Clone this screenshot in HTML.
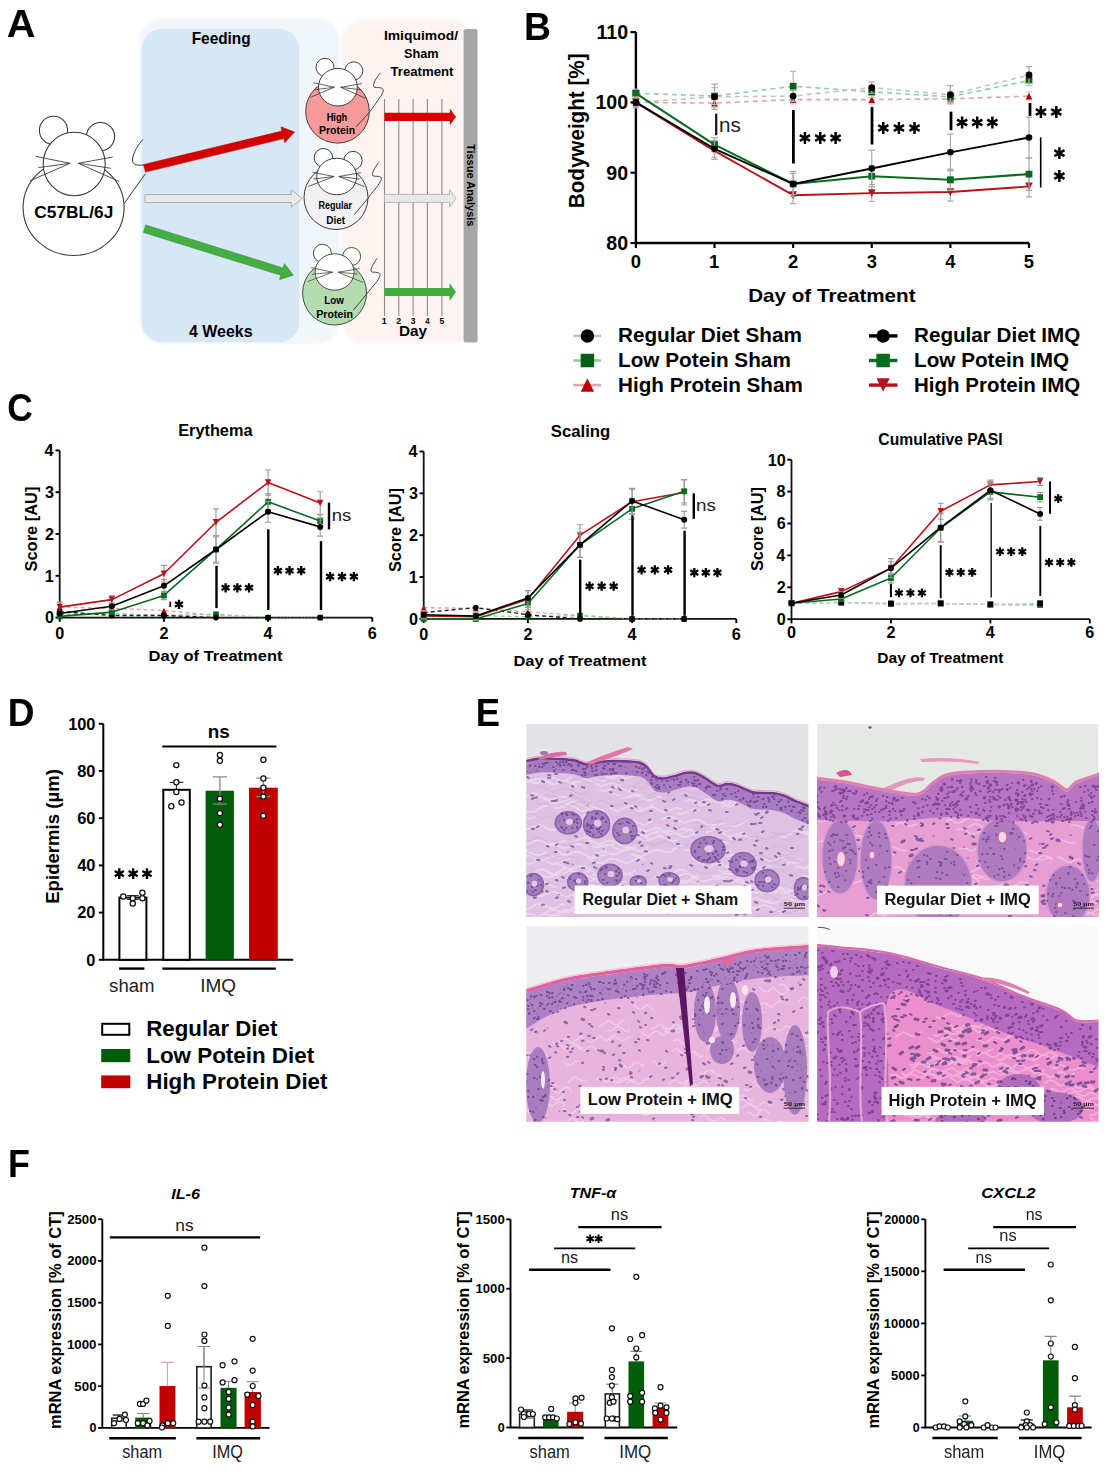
<!DOCTYPE html><html><head><meta charset="utf-8"><style>html,body{margin:0;padding:0;background:#fff;width:1117px;height:1474px;overflow:hidden}svg{display:block;filter:blur(0.55px)}text{font-family:"Liberation Sans",sans-serif}</style></head><body><svg width="1117" height="1474" viewBox="0 0 1117 1474" font-family="Liberation Sans, sans-serif"><rect width="1117" height="1474" fill="#fff"/><defs><filter id="blur6" x="-20%" y="-20%" width="140%" height="140%"><feGaussianBlur stdDeviation="4"/></filter><filter id="blur2" x="-20%" y="-20%" width="140%" height="140%"><feGaussianBlur stdDeviation="1.5"/></filter></defs><rect x="139.8" y="18.8" width="199.7" height="325.2" rx="22" fill="#f1f6fb" filter="url(#blur2)"/><rect x="342.3" y="19.3" width="130" height="324.6" rx="20" fill="#fdf4f1" filter="url(#blur2)"/><rect x="141.8" y="28.8" width="157.4" height="313.4" rx="20" fill="#d8e7f5"/><rect x="463.6" y="29" width="14" height="313.5" rx="2.5" fill="#a6a6a6"/><line x1="384.5" y1="99" x2="384.5" y2="316" stroke="#8a8a8a" stroke-width="1.1"/><line x1="398.8" y1="99" x2="398.8" y2="316" stroke="#8a8a8a" stroke-width="1.1"/><line x1="413.1" y1="99" x2="413.1" y2="316" stroke="#8a8a8a" stroke-width="1.1"/><line x1="427.4" y1="99" x2="427.4" y2="316" stroke="#8a8a8a" stroke-width="1.1"/><line x1="441.9" y1="99" x2="441.9" y2="316" stroke="#8a8a8a" stroke-width="1.1"/><polygon points="384.50,121.10 449.80,121.10 449.80,125.20 456.00,116.90 449.80,108.60 449.80,112.70 384.50,112.70" fill="#d40000"/><polygon points="384.50,202.40 449.50,202.40 449.50,207.20 456.00,198.40 449.50,189.60 449.50,194.40 384.50,194.40" fill="#e9e9e9" stroke="#a8a8a8" stroke-width="0.8"/><polygon points="384.50,296.10 449.50,296.10 449.50,301.00 456.00,292.00 449.50,283.00 449.50,287.90 384.50,287.90" fill="#3fae3f"/><polygon points="145.42,172.09 283.75,138.61 284.77,142.79 294.50,132.00 280.91,126.85 281.92,131.03 143.58,164.51" fill="#d40000" stroke="#b00000" stroke-width="0.5"/><polygon points="145.00,202.50 291.30,202.50 291.30,207.20 302.30,198.50 291.30,189.80 291.30,194.50 145.00,194.50" fill="#e9e9e9" stroke="#a0a0a0" stroke-width="0.8"/><polygon points="143.34,232.42 280.78,275.35 279.41,279.74 293.40,275.20 284.48,263.51 283.11,267.90 145.66,224.98" fill="#44ad44" stroke="#2e8a2e" stroke-width="0.5"/><circle cx="53.5" cy="130.4" r="14.1" fill="#fff" stroke="#3a3a3a" stroke-width="1.1"/><circle cx="100.5" cy="136.6" r="14.1" fill="#fff" stroke="#3a3a3a" stroke-width="1.1"/><ellipse cx="73.6" cy="207.5" rx="50.5" ry="48" fill="#fff" stroke="#3a3a3a" stroke-width="1.1"/><ellipse cx="74.2" cy="164" rx="31" ry="31.8" fill="#fff" stroke="#3a3a3a" stroke-width="1.1"/><path d="M70.1,163.3L35.7,156.4M70.1,163.3L38.2,167.6M70.1,163.3L30,180.8M78.3,163.3L112.8,157M78.3,163.3L110.9,168.3M78.3,163.3L119,181.4" stroke="#3a3a3a" stroke-width="0.8800000000000001" fill="none"/><path d="M124.7,202.7 L145.3,173.9 M144,165 C138,165.5 132,165 132.5,160 C133,152 139,144 142.8,139.5" stroke="#333" stroke-width="0.9900000000000001" fill="none" stroke-linejoin="round"/><text x="34.31" y="218.40" font-family="Liberation Sans" font-size="17.40" font-weight="bold" font-style="normal" fill="#000" textLength="78.97" lengthAdjust="spacingAndGlyphs" >C57BL/6J</text><circle cx="325" cy="67.3" r="9" fill="#fff" stroke="#4a3a3a" stroke-width="1.0"/><circle cx="353.8" cy="70.8" r="9" fill="#fff" stroke="#4a3a3a" stroke-width="1.0"/><ellipse cx="337.5" cy="111.3" rx="31.8" ry="31.8" fill="#f59a9b" stroke="#4a3a3a" stroke-width="1.0"/><ellipse cx="337.9" cy="87.2" rx="19.4" ry="18.8" fill="#fff" stroke="#4a3a3a" stroke-width="1.0"/><path d="M334.4,87.2L313.4,82.7M334.4,87.2L314.7,89.8M334.4,87.2L310.2,97.4M340.7,87.3L362.1,83.6M340.7,87.3L360.8,89.8M340.7,87.3L365.7,98.3" stroke="#4a3a3a" stroke-width="0.8" fill="none"/><path d="M356,127 L369.8,111.8 C375,104 382,96 383.2,91.2 C384,86 376,88.5 374,87 C372,84 377,77 380.5,72.8" stroke="#333" stroke-width="0.9" fill="none" stroke-linejoin="round"/><circle cx="323.4" cy="157.7" r="9.2" fill="#fff" stroke="#3a3a3a" stroke-width="1.0"/><circle cx="353" cy="160.6" r="9.2" fill="#fff" stroke="#3a3a3a" stroke-width="1.0"/><ellipse cx="336" cy="197.5" rx="32" ry="32" fill="#f1f1f3" stroke="#3a3a3a" stroke-width="1.0"/><ellipse cx="336.7" cy="176.5" rx="20" ry="18.3" fill="#fff" stroke="#3a3a3a" stroke-width="1.0"/><path d="M334,176.5L312.5,172.2M334,176.5L313.4,179M334,176.5L308.4,186.4M338.9,176.5L360.8,172.7M338.9,176.5L359.5,179M338.9,176.5L364.4,186.6" stroke="#3a3a3a" stroke-width="0.8" fill="none"/><path d="M354.1,214.8 L368,198.2 C373,191 380,184 381.4,179.4 C382,175 375,177 372.9,175.8 C371,174 375,167 378.7,162.4" stroke="#333" stroke-width="0.9" fill="none" stroke-linejoin="round"/><circle cx="322.4" cy="253.3" r="9" fill="#fff" stroke="#3f4f3f" stroke-width="1.0"/><circle cx="351.6" cy="256.5" r="9" fill="#fff" stroke="#3f4f3f" stroke-width="1.0"/><ellipse cx="334.6" cy="293" rx="32" ry="32" fill="#b5dcb0" stroke="#3f4f3f" stroke-width="1.0"/><ellipse cx="334.6" cy="272" rx="19.5" ry="18.2" fill="#fff" stroke="#3f4f3f" stroke-width="1.0"/><path d="M332.6,272.2L311.1,267.7M332.6,272.2L312,274.4M332.6,272.2L307.5,281.6M338,272.2L359.5,268.6M338,272.2L357.7,274M338,272.2L363,282.4" stroke="#3f4f3f" stroke-width="0.8" fill="none"/><path d="M353.2,310.2 L366.6,294.1 C372,287 379,280 380,275.7 C381,271 374,273 371.5,271.7 C369.5,270 374,262 377.4,258.3" stroke="#333" stroke-width="0.9" fill="none" stroke-linejoin="round"/><text x="326.64" y="120.70" font-family="Liberation Sans" font-size="10.00" font-weight="bold" font-style="normal" fill="#000" textLength="20.68" lengthAdjust="spacingAndGlyphs" >High</text><text x="318.92" y="134.20" font-family="Liberation Sans" font-size="10.00" font-weight="bold" font-style="normal" fill="#000" textLength="36.21" lengthAdjust="spacingAndGlyphs" >Protein</text><text x="318.41" y="209.00" font-family="Liberation Sans" font-size="10.00" font-weight="bold" font-style="normal" fill="#000" textLength="33.71" lengthAdjust="spacingAndGlyphs" >Regular</text><text x="326.35" y="223.70" font-family="Liberation Sans" font-size="10.00" font-weight="bold" font-style="normal" fill="#000" textLength="18.79" lengthAdjust="spacingAndGlyphs" >Diet</text><text x="324.26" y="304.40" font-family="Liberation Sans" font-size="10.00" font-weight="bold" font-style="normal" fill="#000" textLength="19.63" lengthAdjust="spacingAndGlyphs" >Low</text><text x="316.21" y="317.80" font-family="Liberation Sans" font-size="10.00" font-weight="bold" font-style="normal" fill="#000" textLength="36.73" lengthAdjust="spacingAndGlyphs" >Protein</text><text x="191.70" y="43.60" font-family="Liberation Sans" font-size="17.00" font-weight="bold" font-style="normal" fill="#000" textLength="58.98" lengthAdjust="spacingAndGlyphs" >Feeding</text><text x="189.06" y="336.70" font-family="Liberation Sans" font-size="16.50" font-weight="bold" font-style="normal" fill="#000" textLength="63.57" lengthAdjust="spacingAndGlyphs" >4 Weeks</text><text x="383.90" y="39.70" font-family="Liberation Sans" font-size="13.50" font-weight="bold" font-style="normal" fill="#000" textLength="74.11" lengthAdjust="spacingAndGlyphs" >Imiquimod/</text><text x="403.92" y="58.00" font-family="Liberation Sans" font-size="13.50" font-weight="bold" font-style="normal" fill="#000" textLength="34.62" lengthAdjust="spacingAndGlyphs" >Sham</text><text x="390.47" y="76.20" font-family="Liberation Sans" font-size="13.50" font-weight="bold" font-style="normal" fill="#000" textLength="63.02" lengthAdjust="spacingAndGlyphs" >Treatment</text><text x="399.01" y="336.00" font-family="Liberation Sans" font-size="14.50" font-weight="bold" font-style="normal" fill="#000" textLength="28.06" lengthAdjust="spacingAndGlyphs" >Day</text><text x="381.86" y="324.30" font-family="Liberation Sans" font-size="8.50" font-weight="bold" font-style="normal" fill="#000" textLength="4.97" lengthAdjust="spacingAndGlyphs" >1</text><text x="396.39" y="324.30" font-family="Liberation Sans" font-size="8.50" font-weight="bold" font-style="normal" fill="#000" textLength="4.87" lengthAdjust="spacingAndGlyphs" >2</text><text x="410.79" y="324.30" font-family="Liberation Sans" font-size="8.50" font-weight="bold" font-style="normal" fill="#000" textLength="4.72" lengthAdjust="spacingAndGlyphs" >3</text><text x="425.18" y="324.30" font-family="Liberation Sans" font-size="8.50" font-weight="bold" font-style="normal" fill="#000" textLength="4.37" lengthAdjust="spacingAndGlyphs" >4</text><text x="439.55" y="324.30" font-family="Liberation Sans" font-size="8.50" font-weight="bold" font-style="normal" fill="#000" textLength="4.67" lengthAdjust="spacingAndGlyphs" >5</text><g transform="translate(466.6,144) rotate(90)"><text x="-0.11" y="0.00" font-family="Liberation Sans" font-size="11.00" font-weight="bold" font-style="normal" fill="#000" textLength="82.54" lengthAdjust="spacingAndGlyphs" >Tissue Analysis</text></g><path d="M635.9,32.10000000000001L635.9,243.0L1029.0,243.0" stroke="#000" stroke-width="2.4" fill="none"/><line x1="630.40" y1="32.10" x2="635.90" y2="32.10" stroke="#000" stroke-width="2.2"/><text x="596.53" y="38.95" font-family="Liberation Sans" font-size="19.60" font-weight="bold" font-style="normal" fill="#000" textLength="31.62" lengthAdjust="spacingAndGlyphs" >110</text><line x1="630.40" y1="102.40" x2="635.90" y2="102.40" stroke="#000" stroke-width="2.2"/><text x="595.45" y="109.25" font-family="Liberation Sans" font-size="19.60" font-weight="bold" font-style="normal" fill="#000" textLength="32.70" lengthAdjust="spacingAndGlyphs" >100</text><line x1="630.40" y1="172.70" x2="635.90" y2="172.70" stroke="#000" stroke-width="2.2"/><text x="606.33" y="179.55" font-family="Liberation Sans" font-size="19.60" font-weight="bold" font-style="normal" fill="#000" textLength="21.80" lengthAdjust="spacingAndGlyphs" >90</text><line x1="630.40" y1="243.00" x2="635.90" y2="243.00" stroke="#000" stroke-width="2.2"/><text x="606.33" y="249.85" font-family="Liberation Sans" font-size="19.60" font-weight="bold" font-style="normal" fill="#000" textLength="21.80" lengthAdjust="spacingAndGlyphs" >80</text><line x1="635.90" y1="243.00" x2="635.90" y2="248.00" stroke="#000" stroke-width="2.2"/><text x="630.79" y="268.20" font-family="Liberation Sans" font-size="18.40" font-weight="bold" font-style="normal" fill="#000" textLength="10.23" lengthAdjust="spacingAndGlyphs" >0</text><line x1="714.52" y1="243.00" x2="714.52" y2="248.00" stroke="#000" stroke-width="2.2"/><text x="709.09" y="268.20" font-family="Liberation Sans" font-size="18.40" font-weight="bold" font-style="normal" fill="#000" textLength="10.23" lengthAdjust="spacingAndGlyphs" >1</text><line x1="793.14" y1="243.00" x2="793.14" y2="248.00" stroke="#000" stroke-width="2.2"/><text x="788.08" y="268.20" font-family="Liberation Sans" font-size="18.40" font-weight="bold" font-style="normal" fill="#000" textLength="10.23" lengthAdjust="spacingAndGlyphs" >2</text><line x1="871.76" y1="243.00" x2="871.76" y2="248.00" stroke="#000" stroke-width="2.2"/><text x="866.75" y="268.20" font-family="Liberation Sans" font-size="18.40" font-weight="bold" font-style="normal" fill="#000" textLength="10.23" lengthAdjust="spacingAndGlyphs" >3</text><line x1="950.38" y1="243.00" x2="950.38" y2="248.00" stroke="#000" stroke-width="2.2"/><text x="945.18" y="268.20" font-family="Liberation Sans" font-size="18.40" font-weight="bold" font-style="normal" fill="#000" textLength="10.23" lengthAdjust="spacingAndGlyphs" >4</text><line x1="1029.00" y1="243.00" x2="1029.00" y2="248.00" stroke="#000" stroke-width="2.2"/><text x="1023.85" y="268.20" font-family="Liberation Sans" font-size="18.40" font-weight="bold" font-style="normal" fill="#000" textLength="10.23" lengthAdjust="spacingAndGlyphs" >5</text><text x="748.16" y="302.20" font-family="Liberation Sans" font-size="17.70" font-weight="bold" font-style="normal" fill="#000" textLength="167.42" lengthAdjust="spacingAndGlyphs" >Day of Treatment</text><g transform="translate(584.1,206.9) rotate(-90)"><text x="-1.34" y="0.00" font-family="Liberation Sans" font-size="22.00" font-weight="bold" font-style="normal" fill="#000" textLength="154.77" lengthAdjust="spacingAndGlyphs" >Bodyweight [%]</text></g><path d="M635.90,98.18L635.90,106.62M632.70,98.18L639.10,98.18M632.70,106.62L639.10,106.62" stroke="#ccc" stroke-width="1.2" fill="none"/><path d="M714.52,98.89L714.52,107.32M711.32,98.89L717.72,98.89M711.32,107.32L717.72,107.32" stroke="#ccc" stroke-width="1.2" fill="none"/><path d="M793.14,95.37L793.14,103.81M789.94,95.37L796.34,95.37M789.94,103.81L796.34,103.81" stroke="#ccc" stroke-width="1.2" fill="none"/><path d="M871.76,95.37L871.76,103.81M868.56,95.37L874.96,95.37M868.56,103.81L874.96,103.81" stroke="#ccc" stroke-width="1.2" fill="none"/><path d="M950.38,94.67L950.38,103.10M947.18,94.67L953.58,94.67M947.18,103.10L953.58,103.10" stroke="#ccc" stroke-width="1.2" fill="none"/><path d="M1029.00,91.86L1029.00,100.29M1025.80,91.86L1032.20,91.86M1025.80,100.29L1032.20,100.29" stroke="#ccc" stroke-width="1.2" fill="none"/><polyline points="635.90,102.40 714.52,103.10 793.14,99.59 871.76,99.59 950.38,98.89 1029.00,96.07" stroke="#e2a3a6" stroke-width="1.6" fill="none" stroke-dasharray="5,4" stroke-linejoin="round"/><polygon points="635.90,99.00 639.23,105.80 632.57,105.80" fill="#b00000"/><polygon points="714.52,99.70 717.85,106.50 711.19,106.50" fill="#b00000"/><polygon points="793.14,96.19 796.47,102.99 789.81,102.99" fill="#b00000"/><polygon points="871.76,96.19 875.09,102.99 868.43,102.99" fill="#b00000"/><polygon points="950.38,95.48 953.71,102.29 947.05,102.29" fill="#b00000"/><polygon points="1029.00,92.67 1032.33,99.47 1025.67,99.47" fill="#b00000"/><path d="M635.90,89.04L635.90,97.48M632.70,89.04L639.10,89.04M632.70,97.48L639.10,97.48" stroke="#bbb" stroke-width="1.2" fill="none"/><path d="M714.52,87.64L714.52,104.51M711.32,87.64L717.72,87.64M711.32,104.51L717.72,104.51" stroke="#bbb" stroke-width="1.2" fill="none"/><path d="M793.14,71.47L793.14,100.99M789.94,71.47L796.34,71.47M789.94,100.99L796.34,100.99" stroke="#bbb" stroke-width="1.2" fill="none"/><path d="M871.76,86.23L871.76,97.48M868.56,86.23L874.96,86.23M868.56,97.48L874.96,97.48" stroke="#bbb" stroke-width="1.2" fill="none"/><path d="M950.38,92.56L950.38,100.99M947.18,92.56L953.58,92.56M947.18,100.99L953.58,100.99" stroke="#bbb" stroke-width="1.2" fill="none"/><path d="M1029.00,75.69L1029.00,85.53M1025.80,75.69L1032.20,75.69M1025.80,85.53L1032.20,85.53" stroke="#bbb" stroke-width="1.2" fill="none"/><polyline points="635.90,93.26 714.52,96.07 793.14,86.23 871.76,91.86 950.38,96.78 1029.00,80.61" stroke="#8fd09a" stroke-width="1.6" fill="none" stroke-dasharray="5,4" stroke-linejoin="round"/><rect x="632.50" y="89.86" width="6.80" height="6.80" fill="#086018"/><rect x="711.12" y="92.67" width="6.80" height="6.80" fill="#086018"/><rect x="789.74" y="82.83" width="6.80" height="6.80" fill="#086018"/><rect x="868.36" y="88.45" width="6.80" height="6.80" fill="#086018"/><rect x="946.98" y="93.38" width="6.80" height="6.80" fill="#086018"/><rect x="1025.60" y="77.21" width="6.80" height="6.80" fill="#086018"/><path d="M635.90,98.18L635.90,106.62M632.70,98.18L639.10,98.18M632.70,106.62L639.10,106.62" stroke="#aaa" stroke-width="1.2" fill="none"/><path d="M714.52,84.12L714.52,109.43M711.32,84.12L717.72,84.12M711.32,109.43L717.72,109.43" stroke="#aaa" stroke-width="1.2" fill="none"/><path d="M793.14,90.45L793.14,101.70M789.94,90.45L796.34,90.45M789.94,101.70L796.34,101.70" stroke="#aaa" stroke-width="1.2" fill="none"/><path d="M871.76,82.01L871.76,93.26M868.56,82.01L874.96,82.01M868.56,93.26L874.96,93.26" stroke="#aaa" stroke-width="1.2" fill="none"/><path d="M950.38,85.53L950.38,103.81M947.18,85.53L953.58,85.53M947.18,103.81L953.58,103.81" stroke="#aaa" stroke-width="1.2" fill="none"/><path d="M1029.00,66.55L1029.00,83.42M1025.80,66.55L1032.20,66.55M1025.80,83.42L1032.20,83.42" stroke="#aaa" stroke-width="1.2" fill="none"/><polyline points="635.90,102.40 714.52,96.78 793.14,96.07 871.76,87.64 950.38,94.67 1029.00,74.98" stroke="#c4c4c4" stroke-width="1.6" fill="none" stroke-dasharray="5,4" stroke-linejoin="round"/><circle cx="635.90" cy="102.40" r="3.40" fill="#000"/><circle cx="714.52" cy="96.78" r="3.40" fill="#000"/><circle cx="793.14" cy="96.07" r="3.40" fill="#000"/><circle cx="871.76" cy="87.64" r="3.40" fill="#000"/><circle cx="950.38" cy="94.67" r="3.40" fill="#000"/><circle cx="1029.00" cy="74.98" r="3.40" fill="#000"/><path d="M714.52,142.47L714.52,159.34M711.32,142.47L717.72,142.47M711.32,159.34L717.72,159.34" stroke="#aaa" stroke-width="1.2" fill="none"/><path d="M793.14,186.76L793.14,203.63M789.94,186.76L796.34,186.76M789.94,203.63L796.34,203.63" stroke="#aaa" stroke-width="1.2" fill="none"/><path d="M871.76,184.65L871.76,201.52M868.56,184.65L874.96,184.65M868.56,201.52L874.96,201.52" stroke="#aaa" stroke-width="1.2" fill="none"/><path d="M950.38,182.89L950.38,201.17M947.18,182.89L953.58,182.89M947.18,201.17L953.58,201.17" stroke="#aaa" stroke-width="1.2" fill="none"/><path d="M1029.00,175.86L1029.00,196.95M1025.80,175.86L1032.20,175.86M1025.80,196.95L1032.20,196.95" stroke="#aaa" stroke-width="1.2" fill="none"/><polyline points="635.90,102.40 714.52,150.91 793.14,195.20 871.76,193.09 950.38,192.03 1029.00,186.41" stroke="#b8101a" stroke-width="1.9" fill="none" stroke-linejoin="round"/><polygon points="635.90,106.30 639.72,98.50 632.08,98.50" fill="#b8101a"/><polygon points="714.52,154.81 718.34,147.01 710.70,147.01" fill="#b8101a"/><polygon points="793.14,199.10 796.96,191.30 789.32,191.30" fill="#b8101a"/><polygon points="871.76,196.99 875.58,189.19 867.94,189.19" fill="#b8101a"/><polygon points="950.38,195.93 954.20,188.13 946.56,188.13" fill="#b8101a"/><polygon points="1029.00,190.31 1032.82,182.51 1025.18,182.51" fill="#b8101a"/><path d="M714.52,137.55L714.52,151.61M711.32,137.55L717.72,137.55M711.32,151.61L717.72,151.61" stroke="#aaa" stroke-width="1.2" fill="none"/><path d="M793.14,173.40L793.14,194.49M789.94,173.40L796.34,173.40M789.94,194.49L796.34,194.49" stroke="#aaa" stroke-width="1.2" fill="none"/><path d="M871.76,165.67L871.76,186.76M868.56,165.67L874.96,165.67M868.56,186.76L874.96,186.76" stroke="#aaa" stroke-width="1.2" fill="none"/><path d="M950.38,169.19L950.38,190.28M947.18,169.19L953.58,169.19M947.18,190.28L953.58,190.28" stroke="#aaa" stroke-width="1.2" fill="none"/><path d="M1029.00,157.94L1029.00,190.28M1025.80,157.94L1032.20,157.94M1025.80,190.28L1032.20,190.28" stroke="#aaa" stroke-width="1.2" fill="none"/><polyline points="635.90,93.26 714.52,144.58 793.14,183.95 871.76,176.22 950.38,179.73 1029.00,174.11" stroke="#0a6a1e" stroke-width="2.1" fill="none" stroke-linejoin="round"/><rect x="632.50" y="89.86" width="6.80" height="6.80" fill="#0a6a1e"/><rect x="711.12" y="141.18" width="6.80" height="6.80" fill="#0a6a1e"/><rect x="789.74" y="180.55" width="6.80" height="6.80" fill="#0a6a1e"/><rect x="868.36" y="172.81" width="6.80" height="6.80" fill="#0a6a1e"/><rect x="946.98" y="176.33" width="6.80" height="6.80" fill="#0a6a1e"/><rect x="1025.60" y="170.71" width="6.80" height="6.80" fill="#0a6a1e"/><path d="M635.90,96.78L635.90,108.02M632.70,96.78L639.10,96.78M632.70,108.02L639.10,108.02" stroke="#aaa" stroke-width="1.2" fill="none"/><path d="M714.52,140.36L714.52,157.23M711.32,140.36L717.72,140.36M711.32,157.23L717.72,157.23" stroke="#aaa" stroke-width="1.2" fill="none"/><path d="M793.14,171.29L793.14,196.60M789.94,171.29L796.34,171.29M789.94,196.60L796.34,196.60" stroke="#aaa" stroke-width="1.2" fill="none"/><path d="M871.76,150.20L871.76,186.76M868.56,150.20L874.96,150.20M868.56,186.76L874.96,186.76" stroke="#aaa" stroke-width="1.2" fill="none"/><path d="M950.38,134.03L950.38,170.59M947.18,134.03L953.58,134.03M947.18,170.59L953.58,170.59" stroke="#aaa" stroke-width="1.2" fill="none"/><path d="M1029.00,117.16L1029.00,157.94M1025.80,117.16L1032.20,117.16M1025.80,157.94L1032.20,157.94" stroke="#aaa" stroke-width="1.2" fill="none"/><polyline points="635.90,102.40 714.52,148.80 793.14,183.95 871.76,168.48 950.38,152.31 1029.00,137.55" stroke="#000" stroke-width="1.9" fill="none" stroke-linejoin="round"/><circle cx="635.90" cy="102.40" r="3.30" fill="#000"/><circle cx="714.52" cy="148.80" r="3.30" fill="#000"/><circle cx="793.14" cy="183.95" r="3.30" fill="#000"/><circle cx="871.76" cy="168.48" r="3.30" fill="#000"/><circle cx="950.38" cy="152.31" r="3.30" fill="#000"/><circle cx="1029.00" cy="137.55" r="3.30" fill="#000"/><line x1="716.20" y1="113.70" x2="716.20" y2="135.20" stroke="#111" stroke-width="2.2"/><text x="718.96" y="131.60" font-family="Liberation Sans" font-size="20.50" font-weight="normal" font-style="normal" fill="#222" textLength="21.79" lengthAdjust="spacingAndGlyphs" >ns</text><line x1="793.40" y1="110.00" x2="793.40" y2="163.50" stroke="#000" stroke-width="2.8"/><path d="M804.90,143.90L804.90,132.10M799.79,140.95L810.01,135.05M810.01,140.95L799.79,135.05" stroke="#000" stroke-width="2.5" stroke-linecap="butt" fill="none"/><path d="M820.25,143.90L820.25,132.10M815.14,140.95L825.36,135.05M825.36,140.95L815.14,135.05" stroke="#000" stroke-width="2.5" stroke-linecap="butt" fill="none"/><path d="M835.60,143.90L835.60,132.10M830.49,140.95L840.71,135.05M840.71,140.95L830.49,135.05" stroke="#000" stroke-width="2.5" stroke-linecap="butt" fill="none"/><line x1="872.00" y1="107.00" x2="872.00" y2="144.50" stroke="#000" stroke-width="2.8"/><path d="M883.30,133.90L883.30,122.10M878.19,130.95L888.41,125.05M888.41,130.95L878.19,125.05" stroke="#000" stroke-width="2.5" stroke-linecap="butt" fill="none"/><path d="M898.90,133.90L898.90,122.10M893.79,130.95L904.01,125.05M904.01,130.95L893.79,125.05" stroke="#000" stroke-width="2.5" stroke-linecap="butt" fill="none"/><path d="M914.50,133.90L914.50,122.10M909.39,130.95L919.61,125.05M919.61,130.95L909.39,125.05" stroke="#000" stroke-width="2.5" stroke-linecap="butt" fill="none"/><line x1="951.00" y1="111.60" x2="951.00" y2="130.20" stroke="#000" stroke-width="2.8"/><path d="M962.10,128.40L962.10,116.60M956.99,125.45L967.21,119.55M967.21,125.45L956.99,119.55" stroke="#000" stroke-width="2.5" stroke-linecap="butt" fill="none"/><path d="M977.25,128.40L977.25,116.60M972.14,125.45L982.36,119.55M982.36,125.45L972.14,119.55" stroke="#000" stroke-width="2.5" stroke-linecap="butt" fill="none"/><path d="M992.40,128.40L992.40,116.60M987.29,125.45L997.51,119.55M997.51,125.45L987.29,119.55" stroke="#000" stroke-width="2.5" stroke-linecap="butt" fill="none"/><line x1="1030.00" y1="103.00" x2="1030.00" y2="115.90" stroke="#000" stroke-width="2.8"/><path d="M1040.90,117.90L1040.90,106.10M1035.79,114.95L1046.01,109.05M1046.01,114.95L1035.79,109.05" stroke="#000" stroke-width="2.5" stroke-linecap="butt" fill="none"/><path d="M1056.30,117.90L1056.30,106.10M1051.19,114.95L1061.41,109.05M1061.41,114.95L1051.19,109.05" stroke="#000" stroke-width="2.5" stroke-linecap="butt" fill="none"/><line x1="1040.70" y1="137.40" x2="1040.70" y2="187.50" stroke="#000" stroke-width="1.6"/><path d="M1059.40,159.00L1059.40,147.20M1054.29,156.05L1064.51,150.15M1064.51,156.05L1054.29,150.15" stroke="#000" stroke-width="2.5" stroke-linecap="butt" fill="none"/><path d="M1059.40,181.90L1059.40,170.10M1054.29,178.95L1064.51,173.05M1064.51,178.95L1054.29,173.05" stroke="#000" stroke-width="2.5" stroke-linecap="butt" fill="none"/><line x1="573.30" y1="335.90" x2="601.10" y2="335.90" stroke="#c4c4c4" stroke-width="2.6"/><circle cx="587.40" cy="335.90" r="6.75" fill="#000"/><line x1="869.00" y1="335.90" x2="897.40" y2="335.90" stroke="#000" stroke-width="3.4"/><circle cx="883.10" cy="335.90" r="6.75" fill="#000"/><line x1="573.30" y1="360.50" x2="601.10" y2="360.50" stroke="#8fd09a" stroke-width="2.6"/><rect x="580.65" y="353.75" width="13.50" height="13.50" fill="#086018"/><line x1="869.00" y1="360.50" x2="897.40" y2="360.50" stroke="#0a6a1e" stroke-width="3.4"/><rect x="876.35" y="353.75" width="13.50" height="13.50" fill="#0a6a1e"/><line x1="573.30" y1="385.10" x2="601.10" y2="385.10" stroke="#e2a3a6" stroke-width="2.6"/><polygon points="587.40,378.35 594.01,391.85 580.78,391.85" fill="#c00000"/><line x1="869.00" y1="385.10" x2="897.40" y2="385.10" stroke="#b8101a" stroke-width="3.4"/><polygon points="883.10,391.85 889.72,378.35 876.49,378.35" fill="#b8101a"/><text x="618.06" y="342.40" font-family="Liberation Sans" font-size="20.00" font-weight="bold" font-style="normal" fill="#000" textLength="183.71" lengthAdjust="spacingAndGlyphs" >Regular Diet Sham</text><text x="618.05" y="367.00" font-family="Liberation Sans" font-size="20.00" font-weight="bold" font-style="normal" fill="#000" textLength="172.77" lengthAdjust="spacingAndGlyphs" >Low Potein Sham</text><text x="618.06" y="391.60" font-family="Liberation Sans" font-size="20.00" font-weight="bold" font-style="normal" fill="#000" textLength="184.69" lengthAdjust="spacingAndGlyphs" >High Protein Sham</text><text x="914.06" y="342.40" font-family="Liberation Sans" font-size="20.00" font-weight="bold" font-style="normal" fill="#000" textLength="166.20" lengthAdjust="spacingAndGlyphs" >Regular Diet IMQ</text><text x="914.06" y="367.00" font-family="Liberation Sans" font-size="20.00" font-weight="bold" font-style="normal" fill="#000" textLength="155.07" lengthAdjust="spacingAndGlyphs" >Low Potein IMQ</text><text x="914.07" y="391.60" font-family="Liberation Sans" font-size="20.00" font-weight="bold" font-style="normal" fill="#000" textLength="166.17" lengthAdjust="spacingAndGlyphs" >High Protein IMQ</text><path d="M59.7,450.40000000000003L59.7,617.6L372.3,617.6" stroke="#111" stroke-width="1.8" fill="none"/><line x1="55.50" y1="617.60" x2="59.70" y2="617.60" stroke="#000" stroke-width="1.9"/><text x="44.96" y="623.40" font-family="Liberation Sans" font-size="16.20" font-weight="bold" font-style="normal" fill="#000" textLength="9.01" lengthAdjust="spacingAndGlyphs" >0</text><line x1="55.50" y1="575.80" x2="59.70" y2="575.80" stroke="#000" stroke-width="1.9"/><text x="44.71" y="581.60" font-family="Liberation Sans" font-size="16.20" font-weight="bold" font-style="normal" fill="#000" textLength="9.01" lengthAdjust="spacingAndGlyphs" >1</text><line x1="55.50" y1="534.00" x2="59.70" y2="534.00" stroke="#000" stroke-width="1.9"/><text x="44.96" y="539.80" font-family="Liberation Sans" font-size="16.20" font-weight="bold" font-style="normal" fill="#000" textLength="9.01" lengthAdjust="spacingAndGlyphs" >2</text><line x1="55.50" y1="492.20" x2="59.70" y2="492.20" stroke="#000" stroke-width="1.9"/><text x="44.88" y="498.00" font-family="Liberation Sans" font-size="16.20" font-weight="bold" font-style="normal" fill="#000" textLength="9.01" lengthAdjust="spacingAndGlyphs" >3</text><line x1="55.50" y1="450.40" x2="59.70" y2="450.40" stroke="#000" stroke-width="1.9"/><text x="44.39" y="456.20" font-family="Liberation Sans" font-size="16.20" font-weight="bold" font-style="normal" fill="#000" textLength="9.01" lengthAdjust="spacingAndGlyphs" >4</text><line x1="59.70" y1="617.60" x2="59.70" y2="621.80" stroke="#000" stroke-width="1.9"/><text x="55.20" y="638.60" font-family="Liberation Sans" font-size="16.20" font-weight="bold" font-style="normal" fill="#000" textLength="9.01" lengthAdjust="spacingAndGlyphs" >0</text><line x1="163.90" y1="617.60" x2="163.90" y2="621.80" stroke="#000" stroke-width="1.9"/><text x="159.44" y="638.60" font-family="Liberation Sans" font-size="16.20" font-weight="bold" font-style="normal" fill="#000" textLength="9.01" lengthAdjust="spacingAndGlyphs" >2</text><line x1="268.10" y1="617.60" x2="268.10" y2="621.80" stroke="#000" stroke-width="1.9"/><text x="263.52" y="638.60" font-family="Liberation Sans" font-size="16.20" font-weight="bold" font-style="normal" fill="#000" textLength="9.01" lengthAdjust="spacingAndGlyphs" >4</text><line x1="372.30" y1="617.60" x2="372.30" y2="621.80" stroke="#000" stroke-width="1.9"/><text x="367.80" y="638.60" font-family="Liberation Sans" font-size="16.20" font-weight="bold" font-style="normal" fill="#000" textLength="9.01" lengthAdjust="spacingAndGlyphs" >6</text><text x="178.24" y="435.80" font-family="Liberation Sans" font-size="15.80" font-weight="bold" font-style="normal" fill="#000" textLength="74.24" lengthAdjust="spacingAndGlyphs" >Erythema</text><text x="148.63" y="660.70" font-family="Liberation Sans" font-size="15.50" font-weight="bold" font-style="normal" fill="#000" textLength="133.90" lengthAdjust="spacingAndGlyphs" >Day of Treatment</text><g transform="translate(37.0,571.0) rotate(-90)"><text x="-0.49" y="0.00" font-family="Liberation Sans" font-size="16.90" font-weight="bold" font-style="normal" fill="#000" textLength="84.94" lengthAdjust="spacingAndGlyphs" >Score [AU]</text></g><polyline points="59.70,607.15 111.80,608.40 163.90,610.49 216.00,615.51 268.10,617.18 320.20,617.18" stroke="#e2a3a6" stroke-width="1.4" fill="none" stroke-dasharray="4,3" stroke-linejoin="round"/><polygon points="59.70,604.35 62.44,609.95 56.96,609.95" fill="#c00000"/><polygon points="111.80,605.60 114.54,611.20 109.06,611.20" fill="#c00000"/><polygon points="163.90,607.69 166.64,613.29 161.16,613.29" fill="#c00000"/><polygon points="216.00,612.71 218.74,618.31 213.26,618.31" fill="#c00000"/><polygon points="268.10,614.38 270.84,619.98 265.36,619.98" fill="#c00000"/><polygon points="320.20,614.38 322.94,619.98 317.46,619.98" fill="#c00000"/><polyline points="59.70,614.26 111.80,613.42 163.90,615.51 216.00,614.26 268.10,617.60 320.20,617.60" stroke="#8fd09a" stroke-width="1.4" fill="none" stroke-dasharray="4,3" stroke-linejoin="round"/><rect x="56.90" y="611.46" width="5.60" height="5.60" fill="#086018"/><rect x="109.00" y="610.62" width="5.60" height="5.60" fill="#086018"/><rect x="161.10" y="612.71" width="5.60" height="5.60" fill="#086018"/><rect x="213.20" y="611.46" width="5.60" height="5.60" fill="#086018"/><rect x="265.30" y="614.80" width="5.60" height="5.60" fill="#086018"/><rect x="317.40" y="614.80" width="5.60" height="5.60" fill="#086018"/><polyline points="59.70,611.33 111.80,615.51 163.90,615.51 216.00,617.60 268.10,617.60 320.20,617.60" stroke="#222" stroke-width="1.4" fill="none" stroke-dasharray="4,3" stroke-linejoin="round"/><circle cx="59.70" cy="611.33" r="2.90" fill="#000"/><circle cx="111.80" cy="615.51" r="2.90" fill="#000"/><circle cx="163.90" cy="615.51" r="2.90" fill="#000"/><circle cx="216.00" cy="617.60" r="2.90" fill="#000"/><circle cx="268.10" cy="617.60" r="2.90" fill="#000"/><circle cx="320.20" cy="617.60" r="2.90" fill="#000"/><path d="M59.70,602.13L59.70,612.17M56.70,602.13L62.70,602.13M56.70,612.17L62.70,612.17" stroke="#999" stroke-width="1.1" fill="none"/><path d="M111.80,595.45L111.80,603.81M108.80,595.45L114.80,595.45M108.80,603.81L114.80,603.81" stroke="#999" stroke-width="1.1" fill="none"/><path d="M163.90,565.35L163.90,582.07M160.90,565.35L166.90,565.35M160.90,582.07L166.90,582.07" stroke="#999" stroke-width="1.1" fill="none"/><path d="M216.00,508.92L216.00,535.67M213.00,508.92L219.00,508.92M213.00,535.67L219.00,535.67" stroke="#999" stroke-width="1.1" fill="none"/><path d="M268.10,470.05L268.10,495.13M265.10,470.05L271.10,470.05M265.10,495.13L271.10,495.13" stroke="#999" stroke-width="1.1" fill="none"/><path d="M320.20,491.78L320.20,514.35M317.20,491.78L323.20,491.78M317.20,514.35L323.20,514.35" stroke="#999" stroke-width="1.1" fill="none"/><polyline points="59.70,607.15 111.80,599.63 163.90,573.71 216.00,522.30 268.10,482.59 320.20,503.07" stroke="#b8101a" stroke-width="1.6" fill="none" stroke-linejoin="round"/><polygon points="59.70,610.45 62.93,603.85 56.47,603.85" fill="#b8101a"/><polygon points="111.80,602.93 115.03,596.33 108.57,596.33" fill="#b8101a"/><polygon points="163.90,577.01 167.13,570.41 160.67,570.41" fill="#b8101a"/><polygon points="216.00,525.60 219.23,519.00 212.77,519.00" fill="#b8101a"/><polygon points="268.10,485.89 271.33,479.29 264.87,479.29" fill="#b8101a"/><polygon points="320.20,506.37 323.43,499.77 316.97,499.77" fill="#b8101a"/><path d="M59.70,614.26L59.70,618.44M56.70,614.26L62.70,614.26M56.70,618.44L62.70,618.44" stroke="#999" stroke-width="1.1" fill="none"/><path d="M111.80,610.08L111.80,614.26M108.80,610.08L114.80,610.08M108.80,614.26L114.80,614.26" stroke="#999" stroke-width="1.1" fill="none"/><path d="M163.90,591.27L163.90,599.63M160.90,591.27L166.90,591.27M160.90,599.63L166.90,599.63" stroke="#999" stroke-width="1.1" fill="none"/><path d="M216.00,536.93L216.00,562.01M213.00,536.93L219.00,536.93M213.00,562.01L219.00,562.01" stroke="#999" stroke-width="1.1" fill="none"/><path d="M268.10,493.45L268.10,510.17M265.10,493.45L271.10,493.45M265.10,510.17L271.10,510.17" stroke="#999" stroke-width="1.1" fill="none"/><path d="M320.20,514.77L320.20,527.31M317.20,514.77L323.20,514.77M317.20,527.31L323.20,527.31" stroke="#999" stroke-width="1.1" fill="none"/><polyline points="59.70,616.35 111.80,612.17 163.90,595.45 216.00,549.47 268.10,501.81 320.20,521.04" stroke="#0a6a1e" stroke-width="1.6" fill="none" stroke-linejoin="round"/><rect x="56.80" y="613.45" width="5.80" height="5.80" fill="#0a6a1e"/><rect x="108.90" y="609.27" width="5.80" height="5.80" fill="#0a6a1e"/><rect x="161.00" y="592.55" width="5.80" height="5.80" fill="#0a6a1e"/><rect x="213.10" y="546.57" width="5.80" height="5.80" fill="#0a6a1e"/><rect x="265.20" y="498.91" width="5.80" height="5.80" fill="#0a6a1e"/><rect x="317.30" y="518.14" width="5.80" height="5.80" fill="#0a6a1e"/><path d="M59.70,611.33L59.70,615.51M56.70,611.33L62.70,611.33M56.70,615.51L62.70,615.51" stroke="#999" stroke-width="1.1" fill="none"/><path d="M111.80,602.97L111.80,609.66M108.80,602.97L114.80,602.97M108.80,609.66L114.80,609.66" stroke="#999" stroke-width="1.1" fill="none"/><path d="M163.90,579.56L163.90,592.10M160.90,579.56L166.90,579.56M160.90,592.10L166.90,592.10" stroke="#999" stroke-width="1.1" fill="none"/><path d="M216.00,535.67L216.00,563.26M213.00,535.67L219.00,535.67M213.00,563.26L219.00,563.26" stroke="#999" stroke-width="1.1" fill="none"/><path d="M268.10,501.40L268.10,522.30M265.10,501.40L271.10,501.40M265.10,522.30L271.10,522.30" stroke="#999" stroke-width="1.1" fill="none"/><path d="M320.20,517.70L320.20,536.09M317.20,517.70L323.20,517.70M317.20,536.09L323.20,536.09" stroke="#999" stroke-width="1.1" fill="none"/><polyline points="59.70,613.42 111.80,606.31 163.90,585.83 216.00,549.47 268.10,511.85 320.20,526.89" stroke="#000" stroke-width="1.6" fill="none" stroke-linejoin="round"/><circle cx="59.70" cy="613.42" r="3.00" fill="#000"/><circle cx="111.80" cy="606.31" r="3.00" fill="#000"/><circle cx="163.90" cy="585.83" r="3.00" fill="#000"/><circle cx="216.00" cy="549.47" r="3.00" fill="#000"/><circle cx="268.10" cy="511.85" r="3.00" fill="#000"/><circle cx="320.20" cy="526.89" r="3.00" fill="#000"/><line x1="170.30" y1="601.70" x2="170.30" y2="607.00" stroke="#000" stroke-width="1.8"/><path d="M179.00,609.00L179.00,599.80M175.02,606.70L182.98,602.10M182.98,606.70L175.02,602.10" stroke="#000" stroke-width="2.3" stroke-linecap="butt" fill="none"/><line x1="216.50" y1="565.80" x2="216.50" y2="608.10" stroke="#000" stroke-width="2.4"/><path d="M225.60,592.40L225.60,583.20M221.62,590.10L229.58,585.50M229.58,590.10L221.62,585.50" stroke="#000" stroke-width="2.3" stroke-linecap="butt" fill="none"/><path d="M237.30,592.40L237.30,583.20M233.32,590.10L241.28,585.50M241.28,590.10L233.32,585.50" stroke="#000" stroke-width="2.3" stroke-linecap="butt" fill="none"/><path d="M249.00,592.40L249.00,583.20M245.02,590.10L252.98,585.50M252.98,590.10L245.02,585.50" stroke="#000" stroke-width="2.3" stroke-linecap="butt" fill="none"/><line x1="268.30" y1="529.30" x2="268.30" y2="610.00" stroke="#000" stroke-width="2.4"/><path d="M277.90,575.30L277.90,566.10M273.92,573.00L281.88,568.40M281.88,573.00L273.92,568.40" stroke="#000" stroke-width="2.3" stroke-linecap="butt" fill="none"/><path d="M289.55,575.30L289.55,566.10M285.57,573.00L293.53,568.40M293.53,573.00L285.57,568.40" stroke="#000" stroke-width="2.3" stroke-linecap="butt" fill="none"/><path d="M301.20,575.30L301.20,566.10M297.22,573.00L305.18,568.40M305.18,573.00L297.22,568.40" stroke="#000" stroke-width="2.3" stroke-linecap="butt" fill="none"/><line x1="321.00" y1="541.10" x2="321.00" y2="610.00" stroke="#000" stroke-width="2.4"/><path d="M330.10,581.20L330.10,572.00M326.12,578.90L334.08,574.30M334.08,578.90L326.12,574.30" stroke="#000" stroke-width="2.3" stroke-linecap="butt" fill="none"/><path d="M342.00,581.20L342.00,572.00M338.02,578.90L345.98,574.30M345.98,578.90L338.02,574.30" stroke="#000" stroke-width="2.3" stroke-linecap="butt" fill="none"/><path d="M353.90,581.20L353.90,572.00M349.92,578.90L357.88,574.30M357.88,578.90L349.92,574.30" stroke="#000" stroke-width="2.3" stroke-linecap="butt" fill="none"/><line x1="329.00" y1="502.70" x2="329.00" y2="529.30" stroke="#000" stroke-width="2.4"/><text x="331.80" y="521.40" font-family="Liberation Sans" font-size="17.00" font-weight="normal" font-style="normal" fill="#222" textLength="19.58" lengthAdjust="spacingAndGlyphs" >ns</text><path d="M423.7,451.5L423.7,618.9L736.3,618.9" stroke="#111" stroke-width="1.8" fill="none"/><line x1="419.50" y1="618.90" x2="423.70" y2="618.90" stroke="#000" stroke-width="1.9"/><text x="408.96" y="624.70" font-family="Liberation Sans" font-size="16.20" font-weight="bold" font-style="normal" fill="#000" textLength="9.01" lengthAdjust="spacingAndGlyphs" >0</text><line x1="419.50" y1="577.05" x2="423.70" y2="577.05" stroke="#000" stroke-width="1.9"/><text x="408.71" y="582.85" font-family="Liberation Sans" font-size="16.20" font-weight="bold" font-style="normal" fill="#000" textLength="9.01" lengthAdjust="spacingAndGlyphs" >1</text><line x1="419.50" y1="535.20" x2="423.70" y2="535.20" stroke="#000" stroke-width="1.9"/><text x="408.96" y="541.00" font-family="Liberation Sans" font-size="16.20" font-weight="bold" font-style="normal" fill="#000" textLength="9.01" lengthAdjust="spacingAndGlyphs" >2</text><line x1="419.50" y1="493.35" x2="423.70" y2="493.35" stroke="#000" stroke-width="1.9"/><text x="408.88" y="499.15" font-family="Liberation Sans" font-size="16.20" font-weight="bold" font-style="normal" fill="#000" textLength="9.01" lengthAdjust="spacingAndGlyphs" >3</text><line x1="419.50" y1="451.50" x2="423.70" y2="451.50" stroke="#000" stroke-width="1.9"/><text x="408.39" y="457.30" font-family="Liberation Sans" font-size="16.20" font-weight="bold" font-style="normal" fill="#000" textLength="9.01" lengthAdjust="spacingAndGlyphs" >4</text><line x1="423.70" y1="618.90" x2="423.70" y2="623.10" stroke="#000" stroke-width="1.9"/><text x="419.20" y="639.60" font-family="Liberation Sans" font-size="16.20" font-weight="bold" font-style="normal" fill="#000" textLength="9.01" lengthAdjust="spacingAndGlyphs" >0</text><line x1="527.90" y1="618.90" x2="527.90" y2="623.10" stroke="#000" stroke-width="1.9"/><text x="523.44" y="639.60" font-family="Liberation Sans" font-size="16.20" font-weight="bold" font-style="normal" fill="#000" textLength="9.01" lengthAdjust="spacingAndGlyphs" >2</text><line x1="632.10" y1="618.90" x2="632.10" y2="623.10" stroke="#000" stroke-width="1.9"/><text x="627.52" y="639.60" font-family="Liberation Sans" font-size="16.20" font-weight="bold" font-style="normal" fill="#000" textLength="9.01" lengthAdjust="spacingAndGlyphs" >4</text><line x1="736.30" y1="618.90" x2="736.30" y2="623.10" stroke="#000" stroke-width="1.9"/><text x="731.80" y="639.60" font-family="Liberation Sans" font-size="16.20" font-weight="bold" font-style="normal" fill="#000" textLength="9.01" lengthAdjust="spacingAndGlyphs" >6</text><text x="550.80" y="436.50" font-family="Liberation Sans" font-size="15.80" font-weight="bold" font-style="normal" fill="#000" textLength="59.52" lengthAdjust="spacingAndGlyphs" >Scaling</text><text x="513.54" y="665.80" font-family="Liberation Sans" font-size="15.50" font-weight="bold" font-style="normal" fill="#000" textLength="132.89" lengthAdjust="spacingAndGlyphs" >Day of Treatment</text><g transform="translate(401.3,571.6) rotate(-90)"><text x="-0.49" y="0.00" font-family="Liberation Sans" font-size="16.90" font-weight="bold" font-style="normal" fill="#000" textLength="84.13" lengthAdjust="spacingAndGlyphs" >Score [AU]</text></g><polyline points="423.70,607.60 475.80,608.44 527.90,611.79 580.00,615.55 632.10,618.90 684.20,618.90" stroke="#e2a3a6" stroke-width="1.4" fill="none" stroke-dasharray="4,3" stroke-linejoin="round"/><polygon points="423.70,604.80 426.44,610.40 420.96,610.40" fill="#c00000"/><polygon points="475.80,605.64 478.54,611.24 473.06,611.24" fill="#c00000"/><polygon points="527.90,608.99 530.64,614.59 525.16,614.59" fill="#c00000"/><polygon points="580.00,612.75 582.74,618.35 577.26,618.35" fill="#c00000"/><polygon points="632.10,616.10 634.84,621.70 629.36,621.70" fill="#c00000"/><polygon points="684.20,616.10 686.94,621.70 681.46,621.70" fill="#c00000"/><polyline points="423.70,616.81 475.80,615.55 527.90,616.81 580.00,615.55 632.10,618.90 684.20,618.90" stroke="#8fd09a" stroke-width="1.4" fill="none" stroke-dasharray="4,3" stroke-linejoin="round"/><rect x="420.90" y="614.01" width="5.60" height="5.60" fill="#086018"/><rect x="473.00" y="612.75" width="5.60" height="5.60" fill="#086018"/><rect x="525.10" y="614.01" width="5.60" height="5.60" fill="#086018"/><rect x="577.20" y="612.75" width="5.60" height="5.60" fill="#086018"/><rect x="629.30" y="616.10" width="5.60" height="5.60" fill="#086018"/><rect x="681.40" y="616.10" width="5.60" height="5.60" fill="#086018"/><polyline points="423.70,612.62 475.80,607.60 527.90,614.72 580.00,618.90 632.10,618.90 684.20,618.90" stroke="#222" stroke-width="1.4" fill="none" stroke-dasharray="4,3" stroke-linejoin="round"/><circle cx="423.70" cy="612.62" r="2.90" fill="#000"/><circle cx="475.80" cy="607.60" r="2.90" fill="#000"/><circle cx="527.90" cy="614.72" r="2.90" fill="#000"/><circle cx="580.00" cy="618.90" r="2.90" fill="#000"/><circle cx="632.10" cy="618.90" r="2.90" fill="#000"/><circle cx="684.20" cy="618.90" r="2.90" fill="#000"/><path d="M423.70,611.79L423.70,620.16M420.70,611.79L426.70,611.79M420.70,620.16L426.70,620.16" stroke="#999" stroke-width="1.1" fill="none"/><path d="M475.80,613.46L475.80,620.16M472.80,613.46L478.80,613.46M472.80,620.16L478.80,620.16" stroke="#999" stroke-width="1.1" fill="none"/><path d="M527.90,590.86L527.90,607.60M524.90,590.86L530.90,590.86M524.90,607.60L530.90,607.60" stroke="#999" stroke-width="1.1" fill="none"/><path d="M580.00,524.74L580.00,545.66M577.00,524.74L583.00,524.74M577.00,545.66L583.00,545.66" stroke="#999" stroke-width="1.1" fill="none"/><path d="M632.10,489.16L632.10,514.27M629.10,489.16L635.10,489.16M629.10,514.27L635.10,514.27" stroke="#999" stroke-width="1.1" fill="none"/><path d="M684.20,479.96L684.20,505.07M681.20,479.96L687.20,479.96M681.20,505.07L687.20,505.07" stroke="#999" stroke-width="1.1" fill="none"/><polyline points="423.70,615.97 475.80,616.81 527.90,599.23 580.00,535.20 632.10,501.72 684.20,492.51" stroke="#b8101a" stroke-width="1.6" fill="none" stroke-linejoin="round"/><polygon points="423.70,619.27 426.93,612.67 420.47,612.67" fill="#b8101a"/><polygon points="475.80,620.11 479.03,613.51 472.57,613.51" fill="#b8101a"/><polygon points="527.90,602.53 531.13,595.93 524.67,595.93" fill="#b8101a"/><polygon points="580.00,538.50 583.23,531.90 576.77,531.90" fill="#b8101a"/><polygon points="632.10,505.02 635.33,498.42 628.87,498.42" fill="#b8101a"/><polygon points="684.20,495.81 687.43,489.21 680.97,489.21" fill="#b8101a"/><path d="M423.70,617.64L423.70,620.16M420.70,617.64L426.70,617.64M420.70,620.16L426.70,620.16" stroke="#999" stroke-width="1.1" fill="none"/><path d="M475.80,616.81L475.80,620.99M472.80,616.81L478.80,616.81M472.80,620.99L478.80,620.99" stroke="#999" stroke-width="1.1" fill="none"/><path d="M527.90,597.14L527.90,609.69M524.90,597.14L530.90,597.14M524.90,609.69L530.90,609.69" stroke="#999" stroke-width="1.1" fill="none"/><path d="M580.00,532.27L580.00,557.38M577.00,532.27L583.00,532.27M577.00,557.38L583.00,557.38" stroke="#999" stroke-width="1.1" fill="none"/><path d="M632.10,498.37L632.10,519.30M629.10,498.37L635.10,498.37M629.10,519.30L635.10,519.30" stroke="#999" stroke-width="1.1" fill="none"/><path d="M684.20,479.54L684.20,502.98M681.20,479.54L687.20,479.54M681.20,502.98L687.20,502.98" stroke="#999" stroke-width="1.1" fill="none"/><polyline points="423.70,618.90 475.80,618.90 527.90,603.42 580.00,544.83 632.10,508.83 684.20,491.26" stroke="#0a6a1e" stroke-width="1.6" fill="none" stroke-linejoin="round"/><rect x="420.80" y="616.00" width="5.80" height="5.80" fill="#0a6a1e"/><rect x="472.90" y="616.00" width="5.80" height="5.80" fill="#0a6a1e"/><rect x="525.00" y="600.52" width="5.80" height="5.80" fill="#0a6a1e"/><rect x="577.10" y="541.93" width="5.80" height="5.80" fill="#0a6a1e"/><rect x="629.20" y="505.93" width="5.80" height="5.80" fill="#0a6a1e"/><rect x="681.30" y="488.36" width="5.80" height="5.80" fill="#0a6a1e"/><path d="M423.70,610.53L423.70,618.90M420.70,610.53L426.70,610.53M420.70,618.90L426.70,618.90" stroke="#999" stroke-width="1.1" fill="none"/><path d="M475.80,611.79L475.80,620.16M472.80,611.79L478.80,611.79M472.80,620.16L478.80,620.16" stroke="#999" stroke-width="1.1" fill="none"/><path d="M527.90,590.44L527.90,605.51M524.90,590.44L530.90,590.44M524.90,605.51L530.90,605.51" stroke="#999" stroke-width="1.1" fill="none"/><path d="M580.00,532.27L580.00,557.38M577.00,532.27L583.00,532.27M577.00,557.38L583.00,557.38" stroke="#999" stroke-width="1.1" fill="none"/><path d="M632.10,488.33L632.10,513.44M629.10,488.33L635.10,488.33M629.10,513.44L635.10,513.44" stroke="#999" stroke-width="1.1" fill="none"/><path d="M684.20,511.35L684.20,528.09M681.20,511.35L687.20,511.35M681.20,528.09L687.20,528.09" stroke="#999" stroke-width="1.1" fill="none"/><polyline points="423.70,614.72 475.80,615.97 527.90,597.98 580.00,544.83 632.10,500.88 684.20,519.72" stroke="#000" stroke-width="1.6" fill="none" stroke-linejoin="round"/><circle cx="423.70" cy="614.72" r="3.00" fill="#000"/><circle cx="475.80" cy="615.97" r="3.00" fill="#000"/><circle cx="527.90" cy="597.98" r="3.00" fill="#000"/><circle cx="580.00" cy="544.83" r="3.00" fill="#000"/><circle cx="632.10" cy="500.88" r="3.00" fill="#000"/><circle cx="684.20" cy="519.72" r="3.00" fill="#000"/><line x1="580.20" y1="559.70" x2="580.20" y2="615.80" stroke="#000" stroke-width="2.4"/><path d="M589.60,590.80L589.60,581.60M585.62,588.50L593.58,583.90M593.58,588.50L585.62,583.90" stroke="#000" stroke-width="2.3" stroke-linecap="butt" fill="none"/><path d="M601.65,590.80L601.65,581.60M597.67,588.50L605.63,583.90M605.63,588.50L597.67,583.90" stroke="#000" stroke-width="2.3" stroke-linecap="butt" fill="none"/><path d="M613.70,590.80L613.70,581.60M609.72,588.50L617.68,583.90M617.68,588.50L609.72,583.90" stroke="#000" stroke-width="2.3" stroke-linecap="butt" fill="none"/><line x1="632.50" y1="515.40" x2="632.50" y2="615.80" stroke="#000" stroke-width="2.4"/><path d="M641.60,574.50L641.60,565.30M637.62,572.20L645.58,567.60M645.58,572.20L637.62,567.60" stroke="#000" stroke-width="2.3" stroke-linecap="butt" fill="none"/><path d="M654.85,574.50L654.85,565.30M650.87,572.20L658.83,567.60M658.83,572.20L650.87,567.60" stroke="#000" stroke-width="2.3" stroke-linecap="butt" fill="none"/><path d="M668.10,574.50L668.10,565.30M664.12,572.20L672.08,567.60M672.08,572.20L664.12,567.60" stroke="#000" stroke-width="2.3" stroke-linecap="butt" fill="none"/><line x1="684.60" y1="530.70" x2="684.60" y2="615.80" stroke="#000" stroke-width="2.4"/><path d="M694.30,577.20L694.30,568.00M690.32,574.90L698.28,570.30M698.28,574.90L690.32,570.30" stroke="#000" stroke-width="2.3" stroke-linecap="butt" fill="none"/><path d="M705.85,577.20L705.85,568.00M701.87,574.90L709.83,570.30M709.83,574.90L701.87,570.30" stroke="#000" stroke-width="2.3" stroke-linecap="butt" fill="none"/><path d="M717.40,577.20L717.40,568.00M713.42,574.90L721.38,570.30M721.38,574.90L713.42,570.30" stroke="#000" stroke-width="2.3" stroke-linecap="butt" fill="none"/><line x1="693.80" y1="493.30" x2="693.80" y2="518.80" stroke="#000" stroke-width="2.4"/><text x="695.97" y="511.40" font-family="Liberation Sans" font-size="17.00" font-weight="normal" font-style="normal" fill="#222" textLength="19.91" lengthAdjust="spacingAndGlyphs" >ns</text><path d="M791.5,459.70000000000005L791.5,619.2L1089.82,619.2" stroke="#111" stroke-width="1.8" fill="none"/><line x1="787.30" y1="619.20" x2="791.50" y2="619.20" stroke="#000" stroke-width="1.9"/><text x="776.76" y="625.00" font-family="Liberation Sans" font-size="16.20" font-weight="bold" font-style="normal" fill="#000" textLength="9.01" lengthAdjust="spacingAndGlyphs" >0</text><line x1="787.30" y1="587.30" x2="791.50" y2="587.30" stroke="#000" stroke-width="1.9"/><text x="776.76" y="593.10" font-family="Liberation Sans" font-size="16.20" font-weight="bold" font-style="normal" fill="#000" textLength="9.01" lengthAdjust="spacingAndGlyphs" >2</text><line x1="787.30" y1="555.40" x2="791.50" y2="555.40" stroke="#000" stroke-width="1.9"/><text x="776.19" y="561.20" font-family="Liberation Sans" font-size="16.20" font-weight="bold" font-style="normal" fill="#000" textLength="9.01" lengthAdjust="spacingAndGlyphs" >4</text><line x1="787.30" y1="523.50" x2="791.50" y2="523.50" stroke="#000" stroke-width="1.9"/><text x="776.68" y="529.30" font-family="Liberation Sans" font-size="16.20" font-weight="bold" font-style="normal" fill="#000" textLength="9.01" lengthAdjust="spacingAndGlyphs" >6</text><line x1="787.30" y1="491.60" x2="791.50" y2="491.60" stroke="#000" stroke-width="1.9"/><text x="776.60" y="497.40" font-family="Liberation Sans" font-size="16.20" font-weight="bold" font-style="normal" fill="#000" textLength="9.01" lengthAdjust="spacingAndGlyphs" >8</text><line x1="787.30" y1="459.70" x2="791.50" y2="459.70" stroke="#000" stroke-width="1.9"/><text x="767.77" y="465.50" font-family="Liberation Sans" font-size="16.20" font-weight="bold" font-style="normal" fill="#000" textLength="18.02" lengthAdjust="spacingAndGlyphs" >10</text><line x1="791.50" y1="619.20" x2="791.50" y2="623.40" stroke="#000" stroke-width="1.9"/><text x="787.00" y="638.40" font-family="Liberation Sans" font-size="16.20" font-weight="bold" font-style="normal" fill="#000" textLength="9.01" lengthAdjust="spacingAndGlyphs" >0</text><line x1="890.94" y1="619.20" x2="890.94" y2="623.40" stroke="#000" stroke-width="1.9"/><text x="886.49" y="638.40" font-family="Liberation Sans" font-size="16.20" font-weight="bold" font-style="normal" fill="#000" textLength="9.01" lengthAdjust="spacingAndGlyphs" >2</text><line x1="990.38" y1="619.20" x2="990.38" y2="623.40" stroke="#000" stroke-width="1.9"/><text x="985.80" y="638.40" font-family="Liberation Sans" font-size="16.20" font-weight="bold" font-style="normal" fill="#000" textLength="9.01" lengthAdjust="spacingAndGlyphs" >4</text><line x1="1089.82" y1="619.20" x2="1089.82" y2="623.40" stroke="#000" stroke-width="1.9"/><text x="1085.32" y="638.40" font-family="Liberation Sans" font-size="16.20" font-weight="bold" font-style="normal" fill="#000" textLength="9.01" lengthAdjust="spacingAndGlyphs" >6</text><text x="878.37" y="444.80" font-family="Liberation Sans" font-size="15.80" font-weight="bold" font-style="normal" fill="#000" textLength="124.29" lengthAdjust="spacingAndGlyphs" >Cumulative PASI</text><text x="877.39" y="663.10" font-family="Liberation Sans" font-size="15.50" font-weight="bold" font-style="normal" fill="#000" textLength="126.02" lengthAdjust="spacingAndGlyphs" >Day of Treatment</text><g transform="translate(762.8,570.5) rotate(-90)"><text x="-0.49" y="0.00" font-family="Liberation Sans" font-size="16.90" font-weight="bold" font-style="normal" fill="#000" textLength="83.92" lengthAdjust="spacingAndGlyphs" >Score [AU]</text></g><polyline points="791.50,603.25 841.22,602.45 890.94,603.57 940.66,603.57 990.38,604.53 1040.10,604.53" stroke="#e2a3a6" stroke-width="1.4" fill="none" stroke-dasharray="4,3" stroke-linejoin="round"/><polygon points="791.50,600.45 794.24,606.05 788.76,606.05" fill="#c00000"/><polygon points="841.22,599.65 843.96,605.25 838.48,605.25" fill="#c00000"/><polygon points="890.94,600.77 893.68,606.37 888.20,606.37" fill="#c00000"/><polygon points="940.66,600.77 943.40,606.37 937.92,606.37" fill="#c00000"/><polygon points="990.38,601.73 993.12,607.33 987.64,607.33" fill="#c00000"/><polygon points="1040.10,601.73 1042.84,607.33 1037.36,607.33" fill="#c00000"/><polyline points="791.50,603.25 841.22,602.45 890.94,604.05 940.66,603.57 990.38,604.53 1040.10,605.00" stroke="#8fd09a" stroke-width="1.4" fill="none" stroke-dasharray="4,3" stroke-linejoin="round"/><rect x="788.70" y="600.45" width="5.60" height="5.60" fill="#086018"/><rect x="838.42" y="599.65" width="5.60" height="5.60" fill="#086018"/><rect x="888.14" y="601.25" width="5.60" height="5.60" fill="#086018"/><rect x="937.86" y="600.77" width="5.60" height="5.60" fill="#086018"/><rect x="987.58" y="601.73" width="5.60" height="5.60" fill="#086018"/><rect x="1037.30" y="602.20" width="5.60" height="5.60" fill="#086018"/><polyline points="791.50,603.25 841.22,602.45 890.94,603.41 940.66,603.25 990.38,604.37 1040.10,603.25" stroke="#c8d4c8" stroke-width="1.4" fill="none" stroke-dasharray="4,3" stroke-linejoin="round"/><rect x="788.60" y="600.35" width="5.80" height="5.80" fill="#000"/><rect x="838.32" y="599.55" width="5.80" height="5.80" fill="#000"/><rect x="888.04" y="600.51" width="5.80" height="5.80" fill="#000"/><rect x="937.76" y="600.35" width="5.80" height="5.80" fill="#000"/><rect x="987.48" y="601.47" width="5.80" height="5.80" fill="#000"/><rect x="1037.20" y="600.35" width="5.80" height="5.80" fill="#000"/><path d="M791.50,601.66L791.50,604.85M788.50,601.66L794.50,601.66M788.50,604.85L794.50,604.85" stroke="#999" stroke-width="1.1" fill="none"/><path d="M841.22,588.42L841.22,594.80M838.22,588.42L844.22,588.42M838.22,594.80L844.22,594.80" stroke="#999" stroke-width="1.1" fill="none"/><path d="M890.94,561.78L890.94,574.54M887.94,561.78L893.94,561.78M887.94,574.54L893.94,574.54" stroke="#999" stroke-width="1.1" fill="none"/><path d="M940.66,503.24L940.66,519.19M937.66,503.24L943.66,503.24M937.66,519.19L943.66,519.19" stroke="#999" stroke-width="1.1" fill="none"/><path d="M990.38,480.12L990.38,489.69M987.38,480.12L993.38,480.12M987.38,489.69L993.38,489.69" stroke="#999" stroke-width="1.1" fill="none"/><path d="M1040.10,477.56L1040.10,485.54M1037.10,477.56L1043.10,477.56M1037.10,485.54L1043.10,485.54" stroke="#999" stroke-width="1.1" fill="none"/><polyline points="791.50,603.25 841.22,591.61 890.94,568.16 940.66,511.22 990.38,484.90 1040.10,481.55" stroke="#b8101a" stroke-width="1.6" fill="none" stroke-linejoin="round"/><polygon points="791.50,606.55 794.73,599.95 788.27,599.95" fill="#b8101a"/><polygon points="841.22,594.91 844.45,588.31 837.99,588.31" fill="#b8101a"/><polygon points="890.94,571.46 894.17,564.86 887.71,564.86" fill="#b8101a"/><polygon points="940.66,514.52 943.89,507.92 937.43,507.92" fill="#b8101a"/><polygon points="990.38,488.20 993.61,481.60 987.15,481.60" fill="#b8101a"/><polygon points="1040.10,484.85 1043.33,478.25 1036.87,478.25" fill="#b8101a"/><path d="M791.50,601.66L791.50,604.85M788.50,601.66L794.50,601.66M788.50,604.85L794.50,604.85" stroke="#999" stroke-width="1.1" fill="none"/><path d="M841.22,596.55L841.22,601.34M838.22,596.55L844.22,596.55M838.22,601.34L844.22,601.34" stroke="#999" stroke-width="1.1" fill="none"/><path d="M890.94,573.26L890.94,582.83M887.94,573.26L893.94,573.26M887.94,582.83L893.94,582.83" stroke="#999" stroke-width="1.1" fill="none"/><path d="M940.66,513.61L940.66,542.32M937.66,513.61L943.66,513.61M937.66,542.32L943.66,542.32" stroke="#999" stroke-width="1.1" fill="none"/><path d="M990.38,483.94L990.38,499.89M987.38,483.94L993.38,483.94M987.38,499.89L993.38,499.89" stroke="#999" stroke-width="1.1" fill="none"/><path d="M1040.10,492.40L1040.10,501.97M1037.10,492.40L1043.10,492.40M1037.10,501.97L1043.10,501.97" stroke="#999" stroke-width="1.1" fill="none"/><polyline points="791.50,603.25 841.22,598.94 890.94,578.05 940.66,527.97 990.38,491.92 1040.10,497.18" stroke="#0a6a1e" stroke-width="1.6" fill="none" stroke-linejoin="round"/><rect x="788.60" y="600.35" width="5.80" height="5.80" fill="#0a6a1e"/><rect x="838.32" y="596.04" width="5.80" height="5.80" fill="#0a6a1e"/><rect x="888.04" y="575.15" width="5.80" height="5.80" fill="#0a6a1e"/><rect x="937.76" y="525.07" width="5.80" height="5.80" fill="#0a6a1e"/><rect x="987.48" y="489.02" width="5.80" height="5.80" fill="#0a6a1e"/><rect x="1037.20" y="494.28" width="5.80" height="5.80" fill="#0a6a1e"/><path d="M791.50,601.66L791.50,604.85M788.50,601.66L794.50,601.66M788.50,604.85L794.50,604.85" stroke="#999" stroke-width="1.1" fill="none"/><path d="M841.22,591.77L841.22,598.15M838.22,591.77L844.22,591.77M838.22,598.15L844.22,598.15" stroke="#999" stroke-width="1.1" fill="none"/><path d="M890.94,558.59L890.94,577.73M887.94,558.59L893.94,558.59M887.94,577.73L893.94,577.73" stroke="#999" stroke-width="1.1" fill="none"/><path d="M940.66,513.13L940.66,541.84M937.66,513.13L943.66,513.13M937.66,541.84L943.66,541.84" stroke="#999" stroke-width="1.1" fill="none"/><path d="M990.38,482.35L990.38,498.30M987.38,482.35L993.38,482.35M987.38,498.30L993.38,498.30" stroke="#999" stroke-width="1.1" fill="none"/><path d="M1040.10,507.55L1040.10,520.31M1037.10,507.55L1043.10,507.55M1037.10,520.31L1043.10,520.31" stroke="#999" stroke-width="1.1" fill="none"/><polyline points="791.50,603.25 841.22,594.96 890.94,568.16 940.66,527.49 990.38,490.32 1040.10,513.93" stroke="#000" stroke-width="1.6" fill="none" stroke-linejoin="round"/><circle cx="791.50" cy="603.25" r="3.00" fill="#000"/><circle cx="841.22" cy="594.96" r="3.00" fill="#000"/><circle cx="890.94" cy="568.16" r="3.00" fill="#000"/><circle cx="940.66" cy="527.49" r="3.00" fill="#000"/><circle cx="990.38" cy="490.32" r="3.00" fill="#000"/><circle cx="1040.10" cy="513.93" r="3.00" fill="#000"/><line x1="890.90" y1="583.80" x2="890.90" y2="597.30" stroke="#000" stroke-width="2.0"/><path d="M899.00,597.30L899.00,588.50M895.19,595.10L902.81,590.70M902.81,595.10L895.19,590.70" stroke="#000" stroke-width="2.2" stroke-linecap="butt" fill="none"/><path d="M910.45,597.30L910.45,588.50M906.64,595.10L914.26,590.70M914.26,595.10L906.64,590.70" stroke="#000" stroke-width="2.2" stroke-linecap="butt" fill="none"/><path d="M921.90,597.30L921.90,588.50M918.09,595.10L925.71,590.70M925.71,595.10L918.09,590.70" stroke="#000" stroke-width="2.2" stroke-linecap="butt" fill="none"/><line x1="940.70" y1="545.20" x2="940.70" y2="598.20" stroke="#000" stroke-width="1.9"/><path d="M949.40,576.80L949.40,568.00M945.59,574.60L953.21,570.20M953.21,574.60L945.59,570.20" stroke="#000" stroke-width="2.2" stroke-linecap="butt" fill="none"/><path d="M960.80,576.80L960.80,568.00M956.99,574.60L964.61,570.20M964.61,574.60L956.99,570.20" stroke="#000" stroke-width="2.2" stroke-linecap="butt" fill="none"/><path d="M972.20,576.80L972.20,568.00M968.39,574.60L976.01,570.20M976.01,574.60L968.39,570.20" stroke="#000" stroke-width="2.2" stroke-linecap="butt" fill="none"/><line x1="991.20" y1="503.00" x2="991.20" y2="597.50" stroke="#000" stroke-width="1.3"/><path d="M1000.00,556.10L1000.00,547.30M996.19,553.90L1003.81,549.50M1003.81,553.90L996.19,549.50" stroke="#000" stroke-width="2.2" stroke-linecap="butt" fill="none"/><path d="M1011.15,556.10L1011.15,547.30M1007.34,553.90L1014.96,549.50M1014.96,553.90L1007.34,549.50" stroke="#000" stroke-width="2.2" stroke-linecap="butt" fill="none"/><path d="M1022.30,556.10L1022.30,547.30M1018.49,553.90L1026.11,549.50M1026.11,553.90L1018.49,549.50" stroke="#000" stroke-width="2.2" stroke-linecap="butt" fill="none"/><line x1="1040.30" y1="525.90" x2="1040.30" y2="596.00" stroke="#000" stroke-width="1.9"/><path d="M1049.00,566.80L1049.00,558.00M1045.19,564.60L1052.81,560.20M1052.81,564.60L1045.19,560.20" stroke="#000" stroke-width="2.2" stroke-linecap="butt" fill="none"/><path d="M1060.20,566.80L1060.20,558.00M1056.39,564.60L1064.01,560.20M1064.01,564.60L1056.39,560.20" stroke="#000" stroke-width="2.2" stroke-linecap="butt" fill="none"/><path d="M1071.40,566.80L1071.40,558.00M1067.59,564.60L1075.21,560.20M1075.21,564.60L1067.59,560.20" stroke="#000" stroke-width="2.2" stroke-linecap="butt" fill="none"/><line x1="1050.00" y1="481.50" x2="1050.00" y2="513.70" stroke="#000" stroke-width="2.0"/><path d="M1058.25,503.10L1058.25,494.30M1054.44,500.90L1062.06,496.50M1062.06,500.90L1054.44,496.50" stroke="#000" stroke-width="2.2" stroke-linecap="butt" fill="none"/><path d="M103.3,723.75L103.3,959.8L293.2,959.8" stroke="#000" stroke-width="2.0" fill="none"/><line x1="98.80" y1="959.80" x2="103.30" y2="959.80" stroke="#000" stroke-width="1.9"/><text x="86.35" y="965.55" font-family="Liberation Sans" font-size="16.40" font-weight="bold" font-style="normal" fill="#000" textLength="9.12" lengthAdjust="spacingAndGlyphs" >0</text><line x1="98.80" y1="912.59" x2="103.30" y2="912.59" stroke="#000" stroke-width="1.9"/><text x="77.25" y="918.34" font-family="Liberation Sans" font-size="16.40" font-weight="bold" font-style="normal" fill="#000" textLength="18.24" lengthAdjust="spacingAndGlyphs" >20</text><line x1="98.80" y1="865.38" x2="103.30" y2="865.38" stroke="#000" stroke-width="1.9"/><text x="77.25" y="871.13" font-family="Liberation Sans" font-size="16.40" font-weight="bold" font-style="normal" fill="#000" textLength="18.24" lengthAdjust="spacingAndGlyphs" >40</text><line x1="98.80" y1="818.17" x2="103.30" y2="818.17" stroke="#000" stroke-width="1.9"/><text x="77.25" y="823.92" font-family="Liberation Sans" font-size="16.40" font-weight="bold" font-style="normal" fill="#000" textLength="18.24" lengthAdjust="spacingAndGlyphs" >60</text><line x1="98.80" y1="770.96" x2="103.30" y2="770.96" stroke="#000" stroke-width="1.9"/><text x="77.25" y="776.71" font-family="Liberation Sans" font-size="16.40" font-weight="bold" font-style="normal" fill="#000" textLength="18.24" lengthAdjust="spacingAndGlyphs" >80</text><line x1="98.80" y1="723.75" x2="103.30" y2="723.75" stroke="#000" stroke-width="1.9"/><text x="68.15" y="729.50" font-family="Liberation Sans" font-size="16.40" font-weight="bold" font-style="normal" fill="#000" textLength="27.36" lengthAdjust="spacingAndGlyphs" >100</text><g transform="translate(58.6,902.6) rotate(-90)"><text x="-1.21" y="0.00" font-family="Liberation Sans" font-size="17.50" font-weight="bold" font-style="normal" fill="#000" textLength="134.72" lengthAdjust="spacingAndGlyphs" >Epidermis (µm)</text></g><path d="M176.50,782.30L176.50,796.60M169.60,782.30L183.40,782.30M169.60,796.60L183.40,796.60" stroke="#333" stroke-width="1.3" fill="none"/><rect x="119.4" y="897.6" width="27.0" height="62.19999999999993" fill="#fff" stroke="#000" stroke-width="2"/><rect x="163.3" y="789.8" width="26.5" height="170.0" fill="#fff" stroke="#000" stroke-width="2"/><rect x="205.6" y="790.7" width="28.30000000000001" height="169.0999999999999" fill="#035c0a"/><rect x="249" y="787.7" width="28.80000000000001" height="172.0999999999999" fill="#c00000"/><path d="M219.90,776.90L219.90,804.20M212.80,776.90L227.00,776.90M212.80,804.20L227.00,804.20" stroke="#888" stroke-width="1.3" fill="none"/><path d="M263.40,778.20L263.40,796.60M256.20,778.20L270.60,778.20M256.20,796.60L270.60,796.60" stroke="#888" stroke-width="1.3" fill="none"/><path d="M132.80,895.50L132.80,899.50M126.80,895.50L138.80,895.50M126.80,899.50L138.80,899.50" stroke="#333" stroke-width="1.0" fill="none"/><circle cx="123.30" cy="896.40" r="2.6" fill="#fff" stroke="#111" stroke-width="1.25"/><circle cx="132.80" cy="898.20" r="2.6" fill="#fff" stroke="#111" stroke-width="1.25"/><circle cx="132.80" cy="903.50" r="2.6" fill="#fff" stroke="#111" stroke-width="1.25"/><circle cx="142.40" cy="892.80" r="2.6" fill="#fff" stroke="#111" stroke-width="1.25"/><circle cx="142.40" cy="898.20" r="2.6" fill="#fff" stroke="#111" stroke-width="1.25"/><circle cx="176.30" cy="765.10" r="2.6" fill="#fff" stroke="#111" stroke-width="1.25"/><circle cx="176.30" cy="782.30" r="2.6" fill="#fff" stroke="#111" stroke-width="1.25"/><circle cx="176.30" cy="792.00" r="2.6" fill="#fff" stroke="#111" stroke-width="1.25"/><circle cx="171.30" cy="806.30" r="2.6" fill="#fff" stroke="#111" stroke-width="1.25"/><circle cx="181.50" cy="802.40" r="2.6" fill="#fff" stroke="#111" stroke-width="1.25"/><circle cx="219.90" cy="754.90" r="2.6" fill="#fff" stroke="#111" stroke-width="1.25"/><circle cx="219.90" cy="760.80" r="2.6" fill="#fff" stroke="#111" stroke-width="1.25"/><circle cx="219.90" cy="798.80" r="2.6" fill="#fff" stroke="#111" stroke-width="1.25"/><circle cx="219.90" cy="813.10" r="2.6" fill="#fff" stroke="#111" stroke-width="1.25"/><circle cx="219.90" cy="824.70" r="2.6" fill="#fff" stroke="#111" stroke-width="1.25"/><circle cx="263.40" cy="759.70" r="2.6" fill="#fff" stroke="#111" stroke-width="1.25"/><circle cx="263.40" cy="778.50" r="2.6" fill="#fff" stroke="#111" stroke-width="1.25"/><circle cx="263.40" cy="787.70" r="2.6" fill="#fff" stroke="#111" stroke-width="1.25"/><circle cx="263.40" cy="796.60" r="2.6" fill="#fff" stroke="#111" stroke-width="1.25"/><circle cx="263.40" cy="815.80" r="2.6" fill="#fff" stroke="#111" stroke-width="1.25"/><line x1="162.30" y1="746.50" x2="276.40" y2="746.50" stroke="#000" stroke-width="2.2"/><text x="207.67" y="737.90" font-family="Liberation Sans" font-size="18.00" font-weight="bold" font-style="normal" fill="#000" textLength="22.02" lengthAdjust="spacingAndGlyphs" >ns</text><path d="M119.30,878.90L119.30,868.30M114.71,876.25L123.89,870.95M123.89,876.25L114.71,870.95" stroke="#000" stroke-width="2.4" stroke-linecap="butt" fill="none"/><path d="M133.15,878.90L133.15,868.30M128.56,876.25L137.74,870.95M137.74,876.25L128.56,870.95" stroke="#000" stroke-width="2.4" stroke-linecap="butt" fill="none"/><path d="M147.00,878.90L147.00,868.30M142.41,876.25L151.59,870.95M151.59,876.25L142.41,870.95" stroke="#000" stroke-width="2.4" stroke-linecap="butt" fill="none"/><line x1="119.10" y1="968.60" x2="144.40" y2="968.60" stroke="#000" stroke-width="2.4"/><line x1="162.30" y1="968.60" x2="275.80" y2="968.60" stroke="#000" stroke-width="2.4"/><text x="109.14" y="991.50" font-family="Liberation Sans" font-size="18.00" font-weight="normal" font-style="normal" fill="#222" textLength="45.37" lengthAdjust="spacingAndGlyphs" >sham</text><text x="200.20" y="991.50" font-family="Liberation Sans" font-size="18.00" font-weight="normal" font-style="normal" fill="#222" textLength="35.72" lengthAdjust="spacingAndGlyphs" >IMQ</text><rect x="102.2" y="1023.8" width="27.1" height="11" fill="#fff" stroke="#000" stroke-width="2"/><rect x="101.2" y="1049" width="29.1" height="13.2" fill="#035c0a"/><rect x="101.2" y="1075.4" width="29.1" height="12.8" fill="#c00000"/><text x="146.25" y="1036.20" font-family="Liberation Sans" font-size="21.40" font-weight="bold" font-style="normal" fill="#000" textLength="131.09" lengthAdjust="spacingAndGlyphs" >Regular Diet</text><text x="146.24" y="1062.50" font-family="Liberation Sans" font-size="21.40" font-weight="bold" font-style="normal" fill="#000" textLength="167.89" lengthAdjust="spacingAndGlyphs" >Low Potein Diet</text><text x="146.25" y="1088.70" font-family="Liberation Sans" font-size="21.40" font-weight="bold" font-style="normal" fill="#000" textLength="181.21" lengthAdjust="spacingAndGlyphs" >High Protein Diet</text><defs>
<filter id="fib" x="0" y="0" width="100%" height="100%" filterUnits="objectBoundingBox">
 <feTurbulence type="fractalNoise" baseFrequency="0.03 0.13" numOctaves="2" seed="7"/>
 <feColorMatrix type="matrix" values="0 0 0 0 0.97  0 0 0 0 0.92  0 0 0 0 0.98  0 0 0 4 -2.0"/>
</filter>
<filter id="nuc" x="0" y="0" width="100%" height="100%" filterUnits="objectBoundingBox">
 <feTurbulence type="fractalNoise" baseFrequency="0.45 0.6" numOctaves="1" seed="3"/>
 <feColorMatrix type="matrix" values="0 0 0 0 0.30  0 0 0 0 0.14  0 0 0 0 0.42  0 0 0 -13 5.2"/>
</filter>
<filter id="nuc2" x="0" y="0" width="100%" height="100%" filterUnits="objectBoundingBox">
 <feTurbulence type="fractalNoise" baseFrequency="0.22 0.4" numOctaves="1" seed="11"/>
 <feColorMatrix type="matrix" values="0 0 0 0 0.35  0 0 0 0 0.2  0 0 0 0 0.5  0 0 0 -14 4.7"/>
</filter>
<filter id="hblur" x="-2%" y="-2%" width="104%" height="104%"><feGaussianBlur stdDeviation="0.75"/></filter>
<filter id="soft" x="-10%" y="-10%" width="120%" height="120%"><feGaussianBlur stdDeviation="0.8"/></filter>
<filter id="soft2" x="-10%" y="-10%" width="120%" height="120%"><feGaussianBlur stdDeviation="1.6"/></filter>
</defs><clipPath id="clip1"><rect x="526.3" y="723.9" width="282.30000000000007" height="193.10000000000002"/></clipPath><g clip-path="url(#clip1)"><rect x="526.3" y="723.9" width="282.30000000000007" height="193.10000000000002" fill="#e2e2e7"/><g filter="url(#hblur)"><path d="M524.0,761.6C526.7,761.1 534.0,758.9 540.0,758.5C546.0,758.1 554.2,758.7 560.0,759.0C565.8,759.3 570.7,759.6 575.0,760.5C579.3,761.4 581.8,764.0 586.0,764.3C590.2,764.5 595.3,762.5 600.0,762.0C604.7,761.5 609.0,761.1 614.0,761.0C619.0,760.9 625.5,761.2 630.0,761.5C634.5,761.8 638.0,761.9 641.0,763.0C644.0,764.1 645.8,765.8 648.0,768.0C650.2,770.2 651.7,774.2 654.0,776.0C656.3,777.8 658.8,778.4 662.0,778.5C665.2,778.6 669.6,777.3 673.4,776.4C677.2,775.5 681.4,773.6 685.0,773.0C688.6,772.4 691.7,772.2 695.0,773.0C698.3,773.8 701.2,775.9 705.0,778.0C708.8,780.1 714.0,784.8 717.7,785.8C721.4,786.8 724.1,784.1 727.0,784.0C729.9,783.9 732.2,784.3 735.2,785.1C738.2,785.9 741.9,787.8 745.0,789.0C748.1,790.2 749.2,791.8 754.0,792.5C758.8,793.2 768.8,792.6 774.0,793.2C779.2,793.8 781.6,794.8 785.0,796.0C788.4,797.2 790.0,798.8 794.3,800.6C798.6,802.4 808.2,805.9 811.0,807.0L811.6,919.0L523.3,919.0Z" fill="#dfc2e3"/><g fill="none" stroke="#f2e6f4" stroke-width="1.8" opacity="0.55" stroke-linecap="round"><path d="M798 900 801 900 803 900 806 901 808 902 811 903 813 903 816 903 818 902 821 900 823 899 826 898 828 898 831 898 833 899 836 900"/><path d="M573 782 576 782 578 782 581 781 583 780 586 779 588 780 591 781 593 782 596 784 598 785 601 786 603 785 606 785 608 784 611 783 613 783 616 784 618 785 621 787"/><path d="M533 873 536 872 538 870 541 870 543 870 546 871 548 872 551 873 553 874 556 873 558 872 561 871 563 869 566 869"/><path d="M699 803 701 801 704 800 706 799 709 799 711 800 714 801 716 802 719 803 721 803 724 802 726 800"/><path d="M540 881 542 881 545 882 547 883 550 885 552 886 555 887 557 887 560 886 562 885 565 884 567 884 570 884 572 885 575 887 577 889 580 890 582 890 585 889"/><path d="M626 798 628 797 631 796 633 795 636 796 638 796 641 798 643 799 646 800 648 800 651 800 653 799 656 798 658 797 661 797"/><path d="M508 815 511 814 513 812 516 811 518 810 521 810 523 810 526 811 528 812 531 812 533 812 536 811 538 809 541 808 543 806 546 806 548 806"/><path d="M713 863 716 862 718 863 721 864 723 865 726 866 728 867 731 866 733 865 736 864 738 863 741 862 743 862 746 863"/><path d="M657 891 659 893 662 894 664 895 667 896 669 896 672 895 674 893 677 893 679 892 682 893 684 894 687 895"/><path d="M611 905 613 905 616 906 618 907 621 908 623 907 626 906 628 904 631 903 633 902 636 902 638 902 641 903 643 904 646 905 648 904 651 904 653 902 656 901 658 899 661 899 663 899 666 900"/><path d="M720 871 722 872 725 873 727 874 730 874 732 874 735 873 737 872 740 870 742 869 745 869 747 869 750 869 752 871 755 871 757 872 760 871 762 870 765 868 767 867 770 866"/><path d="M560 876 563 877 565 878 568 879 570 879 573 878 575 877 578 876 580 875 583 874 585 875 588 876 590 877 593 878 595 879 598 878 600 877 603 876 605 875 608 874"/><path d="M796 896 798 897 801 897 803 897 806 895 808 894 811 893 813 893 816 893 818 894 821 895 823 897 826 897 828 897"/><path d="M524 779 526 780 529 781 531 780 534 779 536 778 539 778 541 778 544 779 546 780 549 782 551 783 554 784 556 784 559 783 561 782 564 781 566 781 569 782 571 783 574 784 576 786"/><path d="M540 915 543 914 545 913 548 911 550 910 553 910 555 910 558 911 560 912 563 913 565 912 568 912 570 910 573 908 575 907 578 907 580 907 583 908 585 909 588 909 590 909 593 909 595 908"/><path d="M704 894 706 893 709 894 711 895 714 897 716 898 719 899 721 899 724 899"/><path d="M645 836 648 836 650 834 653 833 655 832 658 831 660 831 663 831 665 833 668 834 670 834 673 834 675 833 678 832 680 830 683 829 685 829 688 829 690 830 693 831 695 832"/><path d="M706 832 708 832 711 831 713 830 716 830 718 830 721 831 723 833 726 835 728 836 731 836 733 836 736 835 738 834 741 833 743 833 746 834"/><path d="M593 856 596 855 598 853 601 852 603 852 606 852 608 853 611 854 613 854 616 854 618 853 621 852 623 850 626 849 628 848 631 848 633 849 636 850 638 851 641 851 643 850 646 849 648 847"/><path d="M610 793 612 793 615 794 617 795 620 797 622 798 625 798 627 798 630 797 632 796 635 795 637 795 640 795 642 796 645 797 647 799"/><path d="M707 829 709 828 712 828 714 828 717 829 719 830 722 831 724 831 727 831 729 830 732 829"/><path d="M711 867 713 865 716 864 718 864 721 864 723 865 726 866 728 867 731 868 733 868 736 867 738 866"/><path d="M521 916 524 915 526 914 529 914 531 914 534 915 536 917 539 918 541 919 544 919 546 918 549 917 551 916 554 915 556 915 559 916 561 917 564 919 566 920 569 920"/><path d="M588 859 590 859 593 861 595 862 598 863 600 863 603 863 605 862 608 860 610 859 613 859 615 859 618 860 620 861 623 862 625 863 628 863 630 862 633 861 635 859 638 858 640 858 643 859 645 860"/><path d="M804 903 806 902 809 901 811 900 814 900 816 900 819 902 821 903 824 904"/><path d="M589 841 592 841 594 843 597 844 599 846 602 846 604 847 607 846 609 845 612 844 614 843"/><path d="M525 856 527 856 530 856 532 857 535 858 537 860 540 861 542 861 545 860 547 859 550 858 552 857 555 857"/><path d="M802 876 804 876 807 876 809 877 812 878 814 879 817 878 819 877 822 876 824 874 827 873 829 873 832 873 834 874"/><path d="M722 807 725 806 727 805 730 803 732 802 735 801 737 801 740 802 742 803 745 804 747 804 750 804 752 803"/><path d="M554 863 557 863 559 864 562 865 564 867 567 868 569 869 572 869 574 868 577 867 579 866 582 866 584 866 587 868 589 869 592 871 594 872 597 872"/><path d="M564 823 566 824 569 825 571 826 574 826 576 825 579 824 581 823 584 822 586 822 589 822 591 823 594 825 596 826 599 826 601 825 604 824 606 823 609 822 611 822"/><path d="M575 840 577 840 580 839 582 838 585 837 587 838 590 839 592 841 595 842 597 843 600 844 602 843 605 842 607 841 610 841 612 841 615 842 617 843 620 845 622 846 625 847 627 847 630 846"/><path d="M780 837 782 837 785 837 787 836 790 834 792 832 795 831 797 831 800 832 802 833 805 834 807 834 810 834 812 833 815 832 817 830"/><path d="M519 842 521 843 524 844 526 844 529 844 531 843 534 841 536 841 539 840 541 841 544 842 546 843 549 845 551 845 554 845 556 844 559 843 561 842 564 841 566 841"/><path d="M593 828 596 828 598 826 601 825 603 824 606 823 608 824 611 825 613 826 616 826 618 827 621 826 623 825 626 823 628 822 631 821 633 821 636 822 638 823 641 824 643 825 646 824 648 823 651 822"/><path d="M764 901 767 902 769 903 772 903 774 903 777 902 779 901 782 899 784 898 787 898 789 899 792 900 794 901 797 902 799 902 802 901 804 900 807 898 809 897 812 897 814 897"/><path d="M516 783 519 782 521 780 524 780 526 780 529 781 531 782 534 783 536 783 539 783 541 781 544 780 546 779 549 778 551 778 554 778 556 779 559 780 561 781 564 781 566 780 569 778 571 777"/><path d="M639 900 642 901 644 902 647 904 649 905 652 906 654 906 657 905 659 904 662 903 664 902 667 903 669 904 672 905 674 907 677 908 679 908 682 907 684 906 687 905 689 905 692 905 694 905"/><path d="M564 874 566 872 569 871 571 871 574 871 576 872 579 873 581 874 584 873 586 872 589 871 591 869"/><path d="M685 850 688 850 690 850 693 851 695 852 698 853 700 853 703 853 705 852 708 850 710 849 713 849 715 849 718 850 720 851 723 852 725 852 728 852 730 851"/><path d="M746 905 748 906 751 908 753 908 756 908 758 907 761 906 763 905 766 905 768 906 771 907 773 909 776 910 778 911 781 911 783 910 786 909 788 908"/><path d="M523 852 526 851 528 852 531 853 533 854 536 855 538 855 541 855 543 854 546 852"/><path d="M544 913 547 914 549 915 552 916 554 915 557 914 559 913 562 912 564 910 567 910 569 910 572 911 574 912 577 913 579 913 582 913 584 911 587 910 589 908 592 908 594 908 597 909"/><path d="M714 880 717 879 719 879 722 878 724 877 727 877 729 878 732 879 734 881 737 882 739 883 742 883 744 883 747 882 749 881 752 881 754 881 757 882 759 884 762 885"/><path d="M726 857 729 856 731 855 734 855 736 855 739 855 741 857 744 858 746 859 749 860 751 860 754 859 756 858"/><path d="M662 819 665 818 667 817 670 817 672 817 675 818 677 820 680 821 682 822 685 823 687 822 690 821 692 820 695 820 697 820 700 820 702 822 705 823 707 825 710 825 712 825 715 825 717 824"/><path d="M520 826 523 828 525 829 528 829 530 828 533 827 535 826 538 825 540 825 543 826 545 827 548 829 550 830 553 830 555 830 558 829 560 828 563 827 565 827 568 827"/><path d="M593 846 595 847 598 847 600 847 603 846 605 845 608 845 610 845 613 846 615 848 618 849 620 850 623 851 625 850 628 850 630 849 633 848 635 848"/><path d="M537 870 539 870 542 869 544 870 547 871 549 873 552 874 554 875 557 875 559 875"/><path d="M643 883 646 883 648 882 651 881 653 879 656 878 658 877 661 877 663 878 666 879 668 880 671 880 673 879 676 878 678 877 681 875 683 874 686 874 688 874 691 875 693 876 696 877"/><path d="M743 889 746 889 748 890 751 891 753 892 756 893 758 893 761 893 763 891 766 890 768 889 771 889 773 890 776 891 778 892 781 893 783 894 786 893 788 892 791 891 793 890 796 889"/><path d="M796 866 798 867 801 867 803 868 806 868 808 866 811 865 813 863 816 862 818 862 821 862 823 863 826 864 828 864 831 864 833 864 836 862 838 860 841 859 843 858 846 858"/><path d="M730 839 733 839 735 838 738 837 740 836 743 835 745 836 748 837 750 838"/><path d="M666 832 669 831 671 831 674 832 676 833 679 835 681 836 684 837 686 837 689 836 691 835 694 834 696 834"/><path d="M803 832 805 832 808 832 810 831 813 830 815 828 818 827 820 826 823 827 825 827 828 829 830 829 833 830 835 829 838 828 840 826 843 825 845 824 848 824 850 824"/><path d="M675 885 678 886 680 885 683 884 685 883 688 882 690 881 693 882 695 882 698 884"/><path d="M554 808 557 808 559 808 562 807 564 806 567 805 569 805 572 806 574 807 577 808 579 810 582 811 584 811 587 810 589 809 592 808 594 807 597 808 599 809 602 810 604 812"/><path d="M576 893 578 893 581 895 583 896 586 898 588 899 591 899 593 899 596 898 598 897 601 896"/><path d="M581 888 583 889 586 890 588 891 591 893 593 893 596 893 598 892 601 890 603 889 606 889 608 889 611 890 613 892"/><path d="M612 897 615 896 617 895 620 894 622 893 625 893 627 894 630 895 632 897 635 898 637 898 640 897 642 896 645 895 647 894 650 894 652 894 655 895 657 897 660 898"/><path d="M595 779 598 780 600 780 603 781 605 780 608 778 610 777 613 776 615 775 618 775 620 776 623 777 625 778 628 778 630 777 633 776 635 775 638 773 640 772 643 772 645 773 648 774 650 775 653 775"/><path d="M783 863 786 864 788 864 791 863 793 862 796 860 798 859 801 859 803 860"/><path d="M775 893 777 892 780 892 782 891 785 892 787 893 790 895 792 896 795 897 797 898 800 897 802 896 805 895"/><path d="M632 854 634 855 637 856 639 856 642 856 644 855 647 854 649 852 652 851 654 850 657 850 659 850 662 851 664 852 667 852 669 852 672 851 674 849 677 847 679 846 682 846 684 846"/><path d="M686 801 689 800 691 800 694 801 696 803 699 804 701 805 704 805 706 804 709 803 711 802 714 801 716 801 719 802 721 803 724 804 726 805 729 806 731 806 734 805 736 803 739 802 741 802"/><path d="M777 888 779 888 782 889 784 890 787 891 789 891 792 890 794 889 797 888 799 886 802 886 804 886 807 886 809 887 812 888 814 889 817 888 819 887 822 886 824 884 827 883 829 883"/><path d="M522 796 525 797 527 796 530 795 532 794 535 794 537 794 540 795 542 796 545 798 547 799 550 800 552 799 555 799 557 798 560 797 562 797 565 797 567 798 570 800"/><path d="M765 860 768 861 770 861 773 860 775 859 778 858 780 858 783 858 785 859 788 861 790 862 793 863 795 863 798 863 800 862 803 861"/><path d="M559 818 561 817 564 817 566 818 569 819 571 820 574 821 576 820 579 819 581 818 584 816 586 815 589 815 591 816 594 817 596 818 599 818 601 818 604 818 606 816 609 815"/><path d="M633 809 636 810 638 811 641 811 643 810 646 809 648 808 651 807 653 807 656 808 658 810 661 811 663 812 666 812 668 811 671 810 673 809 676 808 678 808 681 809"/><path d="M654 878 656 877 659 877 661 878 664 879 666 881 669 882 671 883 674 883 676 883 679 882 681 881 684 881 686 881"/><path d="M524 879 526 878 529 877 531 875 534 874 536 874 539 874 541 875 544 876 546 877 549 877 551 877 554 875 556 874 559 873 561 872"/><path d="M572 886 575 888 577 889 580 889 582 889 585 888 587 886 590 885 592 885 595 885 597 886 600 887"/><path d="M593 874 595 875 598 876 600 876 603 876 605 875 608 874 610 872 613 871 615 871 618 871 620 871 623 872 625 873 628 874 630 873 633 872 635 870"/><path d="M562 806 564 806 567 804 569 803 572 802 574 802 577 803 579 804 582 805 584 806 587 807 589 806 592 805 594 804"/><path d="M660 875 663 876 665 876 668 876 670 875 673 873 675 872 678 870 680 870 683 870 685 871 688 872"/><path d="M618 885 621 884 623 882 626 881 628 880 631 880 633 881 636 882 638 883 641 883 643 883 646 882"/><path d="M801 893 803 891 806 890 808 890 811 891 813 892 816 893 818 893 821 893 823 892"/><path d="M719 825 721 824 724 823 726 823 729 824 731 825 734 826 736 826 739 825 741 824 744 822 746 821 749 820"/><path d="M632 834 634 833 637 833 639 834 642 835 644 836 647 838 649 839 652 839 654 838 657 837 659 836 662 835"/><path d="M512 818 515 817 517 816 520 815 522 816 525 817 527 818 530 819 532 818 535 817"/><path d="M733 882 735 881 738 880 740 880 743 881 745 882 748 884 750 885 753 886 755 886 758 885 760 884 763 883 765 883 768 883 770 885 773 886 775 888 778 889 780 889 783 889 785 888 788 887 790 886"/><path d="M803 907 805 907 808 908 810 910 813 911 815 912 818 912 820 911 823 910 825 909 828 908"/><path d="M693 859 695 860 698 862 700 863 703 864 705 864 708 863 710 862 713 861 715 861 718 861 720 862 723 863"/><path d="M562 911 564 912 567 912 569 911 572 910 574 908 577 907 579 906 582 906 584 906 587 907 589 908 592 908 594 908 597 907 599 905 602 904 604 902 607 902 609 902"/><path d="M557 851 560 852 562 854 565 855 567 855 570 854 572 853 575 852 577 852 580 852 582 853 585 855 587 856 590 857 592 858 595 858 597 857 600 856 602 855 605 855"/><path d="M532 801 534 800 537 799 539 798 542 798 544 799 547 800 549 802 552 803 554 804 557 803 559 803 562 802 564 801 567 800"/><path d="M692 877 694 877 697 879 699 880 702 881 704 881 707 881 709 880 712 879 714 878 717 877 719 877 722 878 724 879 727 881 729 881 732 881 734 881 737 879 739 878 742 877 744 877"/><path d="M630 826 633 825 635 826 638 828 640 829 643 831 645 831 648 831 650 830 653 829 655 828 658 828 660 829 663 830 665 831 668 833"/><path d="M677 813 679 814 682 814 684 813 687 812 689 811 692 810 694 809 697 810 699 811"/><path d="M791 859 793 860 796 861 798 862 801 862 803 862 806 861 808 860 811 859"/><path d="M600 790 603 791 605 791 608 790 610 789 613 787 615 787 618 787 620 788 623 789 625 790 628 791 630 792 633 791 635 790 638 789"/><path d="M691 847 694 846 696 845 699 845 701 846 704 847 706 847 709 848 711 847 714 846 716 844 719 843 721 842 724 842 726 842 729 843"/><path d="M756 889 759 890 761 891 764 892 766 893 769 893 771 892 774 891 776 890 779 888 781 887 784 887 786 888 789 889 791 890 794 891 796 891 799 890 801 888 804 887 806 886 809 885"/><path d="M744 889 746 888 749 888 751 889 754 891 756 892 759 893 761 894 764 893 766 892 769 891 771 891 774 890 776 891 779 892 781 894 784 895 786 896 789 896 791 895 794 894 796 893 799 893"/><path d="M527 891 529 891 532 892 534 893 537 895 539 896 542 896 544 895 547 894 549 893 552 892 554 892 557 893 559 894 562 895 564 896 567 897 569 896 572 895 574 894 577 893 579 893 582 893 584 894"/><path d="M626 890 629 892 631 892 634 892 636 891 639 890 641 889 644 889 646 890 649 891 651 892 654 894 656 895"/><path d="M525 864 527 864 530 864 532 863 535 862 537 861 540 860 542 860 545 860 547 861 550 863 552 864 555 864 557 863 560 862 562 861 565 860 567 859 570 859"/><path d="M589 882 591 881 594 879 596 878 599 877 601 876 604 877 606 878 609 879 611 879 614 879 616 878 619 877 621 875 624 874 626 874 629 874 631 875 634 876 636 877 639 877"/><path d="M610 808 612 809 615 810 617 811 620 810 622 809 625 808 627 806 630 806 632 806 635 806 637 807 640 808 642 809 645 809 647 808 650 807 652 805"/><path d="M551 843 554 843 556 844 559 846 561 847 564 848 566 848 569 847 571 846 574 845 576 844 579 844 581 845 584 846 586 848"/><path d="M672 879 674 880 677 881 679 882 682 882 684 882 687 882 689 880 692 879 694 878 697 877 699 877"/><path d="M651 833 654 833 656 833 659 832 661 831 664 830 666 829 669 829 671 829 674 831 676 832 679 833 681 833 684 832 686 831 689 830 691 829"/><path d="M591 778 594 777 596 776 599 775 601 774 604 775 606 776 609 777 611 778 614 778 616 777 619 775 621 774 624 773 626 772"/><path d="M714 906 716 906 719 905 721 904 724 902 726 901 729 900 731 901 734 901 736 903 739 903 741 904 744 903 746 902 749 901 751 899 754 898 756 898 759 899 761 900 764 901 766 902 769 901 771 900"/><path d="M629 838 632 837 634 837 637 837 639 838 642 840 644 841 647 841 649 840 652 839 654 838 657 837 659 836 662 837 664 838 667 839 669 840 672 841 674 841 677 840"/><path d="M808 912 811 912 813 911 816 910 818 909 821 908 823 909 826 910 828 911 831 913 833 914 836 914 838 913 841 912 843 911 846 910 848 911 851 911 853 913 856 914 858 915"/><path d="M517 906 520 907 522 908 525 909 527 909 530 908 532 907 535 905 537 904 540 904 542 905 545 906 547 907 550 908 552 908 555 908 557 907 560 905 562 904 565 904"/><path d="M509 777 511 777 514 776 516 777 519 778 521 779 524 781 526 782 529 782 531 781 534 780 536 779 539 779 541 779 544 780 546 781 549 783 551 784 554 784"/><path d="M713 876 715 876 718 876 720 875 723 874 725 872 728 871 730 870 733 870 735 871 738 872 740 873 743 873 745 873 748 872 750 870 753 869 755 867 758 867 760 868 763 869 765 870 768 870 770 870"/></g><g fill="none" stroke="#c7a2cf" stroke-width="0.8" opacity="0.55" stroke-linecap="round"><path d="M551 841 554 841 556 842 559 843 561 844 564 845 566 845 569 845 571 844 574 843 576 842 579 842 581 842 584 843"/><path d="M622 844 625 845 627 845 630 845 632 844 635 843 637 842 640 841 642 841 645 842 647 843 650 845 652 845 655 846 657 845 660 844 662 842 665 842 667 841 670 842 672 843"/><path d="M694 822 696 822 699 823 701 824 704 825 706 826 709 826 711 825 714 823 716 822 719 821 721 821 724 822 726 823 729 824 731 825 734 825 736 824 739 823 741 822 744 821 746 820 749 820 751 821 754 823 756 824"/><path d="M751 858 754 857 756 855 759 855 761 855 764 856 766 857 769 859 771 859 774 859 776 858 779 857 781 856 784 855 786 855 789 856 791 857 794 858 796 859 799 859 801 859"/><path d="M573 825 576 824 578 824 581 825 583 827 586 828 588 829 591 829 593 829 596 827 598 826 601 825 603 825"/><path d="M534 788 537 787 539 786 542 787 544 788 547 789 549 790 552 792 554 792 557 791 559 790 562 789 564 789 567 788 569 789 572 790 574 792 577 793 579 794 582 794 584 793 587 792 589 791"/><path d="M637 803 639 803 642 802 644 801 647 799 649 798 652 797 654 797 657 798 659 799 662 800 664 801 667 800 669 799 672 798 674 796 677 795 679 795 682 796 684 797 687 798 689 798 692 798 694 797 697 796 699 794 702 793"/><path d="M684 845 687 844 689 844 692 844 694 845 697 846 699 847 702 848 704 847 707 846 709 845 712 844 714 843 717 843 719 844 722 845 724 846 727 847"/><path d="M708 894 711 893 713 894 716 894 718 896 721 897 723 898 726 897 728 897 731 895 733 894 736 893 738 893 741 894 743 895 746 896 748 897 751 897 753 897 756 896 758 894 761 893 763 893 766 893 768 894"/><path d="M695 893 698 892 700 891 703 890 705 890 708 891 710 892 713 894 715 895 718 895 720 895 723 894 725 893 728 892 730 892 733 892 735 894 738 895 740 896 743 897 745 897 748 897 750 896"/><path d="M688 900 690 899 693 899 695 900 698 901 700 903 703 904 705 905 708 906 710 905 713 904 715 903 718 903 720 903 723 904 725 906 728 907 730 909 733 909 735 909 738 908 740 907"/><path d="M666 800 668 801 671 802 673 802 676 802 678 801 681 799 683 798 686 797 688 797 691 797 693 798 696 799 698 800 701 800 703 799 706 797 708 796 711 794 713 794 716 794 718 795 721 796 723 797 726 797 728 796 731 795"/><path d="M528 891 531 890 533 888 536 887 538 887 541 887 543 888 546 889 548 890 551 890 553 890 556 888 558 887 561 886 563 885 566 885 568 886 571 887 573 888 576 888 578 888 581 887 583 886 586 884 588 883 591 883"/><path d="M713 906 716 905 718 904 721 904 723 904 726 905 728 907 731 908 733 909 736 909 738 908 741 907 743 906 746 905"/><path d="M573 804 576 803 578 802 581 801 583 802 586 802 588 804 591 804 593 805 596 804 598 803 601 801 603 800"/><path d="M531 801 533 801 536 801 538 799 541 798 543 796 546 795 548 795 551 796 553 796 556 797 558 798 561 798"/><path d="M633 786 635 785 638 784 640 783 643 782 645 783 648 784 650 785 653 786 655 786 658 785 660 784 663 782 665 781 668 780 670 781 673 782 675 783 678 784 680 784 683 783 685 782 688 781 690 779"/><path d="M563 783 566 783 568 783 571 781 573 780 576 779 578 779 581 780 583 781 586 782 588 783 591 783 593 783 596 782 598 780 601 779 603 779 606 779 608 780 611 781 613 782 616 783 618 783 621 782"/><path d="M750 882 753 883 755 885 758 886 760 887 763 887 765 886 768 885 770 884 773 883 775 883 778 884 780 885 783 887 785 888 788 888 790 887 793 886 795 885"/><path d="M558 875 560 876 563 878 565 879 568 880 570 880 573 880 575 879 578 878 580 878 583 878 585 879 588 881 590 882 593 883 595 884 598 884 600 883"/><path d="M509 775 511 775 514 776 516 777 519 778 521 780 524 780 526 780 529 780 531 778 534 777 536 777 539 777 541 778"/><path d="M785 858 787 858 790 858 792 859 795 860 797 861 800 862 802 862 805 861 807 860 810 859 812 858 815 858 817 858 820 860 822 861 825 862 827 862 830 861 832 860 835 859 837 858 840 857 842 858 845 859 847 860 850 861 852 862"/><path d="M742 865 744 866 747 866 749 865 752 864 754 863 757 861 759 861 762 861 764 861 767 862 769 863 772 864 774 863 777 862 779 861 782 859 784 858 787 858 789 859 792 859 794 861 797 861 799 861 802 860 804 859"/><path d="M643 839 645 840 648 842 650 843 653 844 655 844 658 843 660 842 663 841 665 841 668 842 670 843 673 845 675 846 678 847 680 847 683 847 685 846 688 845"/><path d="M509 836 512 835 514 835 517 836 519 837 522 839 524 840 527 841 529 841 532 840 534 839 537 838 539 838 542 838 544 840 547 841"/><path d="M653 906 655 906 658 908 660 909 663 910 665 911 668 911 670 910 673 909 675 908 678 908 680 908"/><path d="M659 832 662 830 664 829 667 829 669 829 672 830 674 831 677 832 679 832 682 832 684 831 687 829 689 828 692 827 694 827 697 828 699 829 702 830 704 830 707 830 709 829"/><path d="M779 893 782 894 784 895 787 896 789 895 792 894 794 893 797 892 799 892 802 892 804 893 807 894 809 895 812 896 814 896 817 895 819 894 822 893 824 892 827 892 829 893 832 894 834 895"/><path d="M530 856 533 856 535 857 538 859 540 860 543 861 545 861 548 860 550 859 553 857 555 857 558 857"/><path d="M609 815 611 816 614 817 616 817 619 816 621 815 624 813 626 812 629 811 631 811 634 812 636 813 639 814 641 815 644 814 646 813 649 812"/><path d="M539 857 542 856 544 856 547 855 549 856 552 858 554 859 557 860 559 861 562 860 564 859 567 858 569 857 572 857 574 857 577 858 579 860"/><path d="M714 916 717 916 719 915 722 915 724 915 727 917 729 918 732 920 734 921 737 921 739 921"/><path d="M758 915 761 916 763 916 766 916 768 915 771 914 773 912 776 911 778 910 781 910 783 911 786 912 788 913 791 913 793 912 796 911 798 909 801 908 803 907 806 907"/><path d="M649 888 651 887 654 886 656 885 659 886 661 886 664 888 666 889 669 889 671 889 674 889 676 887 679 886 681 885 684 885 686 886 689 887 691 888"/><path d="M621 883 624 883 626 882 629 880 631 879 634 878 636 878 639 879 641 880 644 881 646 882 649 882 651 881 654 879 656 878 659 877 661 877 664 877 666 878 669 879 671 880 674 880 676 880 679 879 681 877 684 876 686 875 689 875"/><path d="M749 866 752 866 754 867 757 868 759 870 762 871 764 872 767 871 769 871 772 870 774 869 777 869 779 869 782 871 784 872 787 874 789 875 792 875 794 874 797 873 799 872 802 872 804 872 807 873 809 875"/><path d="M762 847 764 849 767 849 769 849 772 848 774 847 777 846 779 846 782 847 784 848 787 850 789 851 792 852 794 852 797 851 799 850"/><path d="M766 894 768 894 771 896 773 897 776 899 778 900 781 900 783 899 786 899 788 898 791 897 793 897 796 899 798 900 801 902"/><path d="M712 880 714 881 717 882 719 883 722 885 724 886 727 887 729 887 732 886 734 885 737 884 739 884 742 885 744 886 747 888 749 889 752 890 754 891 757 890 759 889 762 888 764 888 767 888 769 889 772 891"/><path d="M785 862 787 860 790 860 792 860 795 861 797 862 800 863 802 863 805 863 807 861 810 860 812 858 815 858 817 858 820 858"/><path d="M627 880 630 879 632 879 635 879 637 880 640 881 642 882 645 883 647 883 650 882 652 880"/><path d="M536 802 538 804 541 804 543 804 546 803 548 802 551 801 553 801 556 801 558 803 561 804 563 805 566 806 568 806 571 805 573 804 576 803 578 803 581 803 583 804 586 806 588 807 591 808"/><path d="M531 813 534 814 536 816 539 817 541 818 544 818 546 817 549 816 551 816 554 815 556 816 559 817 561 818 564 820 566 821 569 821 571 821"/><path d="M604 882 607 881 609 882 612 883 614 884 617 885 619 886 622 886 624 886 627 885 629 884 632 883 634 883 637 884 639 885 642 887 644 888 647 888 649 888 652 887"/><path d="M564 800 567 799 569 798 572 797 574 797 577 797 579 799 582 800 584 802 587 803 589 803 592 802 594 802 597 801 599 800 602 800 604 801 607 802 609 804 612 805 614 806 617 805 619 805 622 804 624 803 627 803 629 803 632 804"/><path d="M686 873 689 871 691 870 694 870 696 871 699 872 701 873 704 874 706 874 709 873 711 872"/><path d="M780 885 783 885 785 886 788 887 790 888 793 889 795 888 798 887 800 886 803 885 805 884 808 884 810 884 813 885 815 886 818 887 820 887 823 887 825 885 828 884 830 883 833 882 835 883 838 884 840 885 843 886"/><path d="M694 831 696 831 699 829 701 828 704 827 706 827 709 828 711 829 714 831 716 832 719 832 721 832 724 831 726 830 729 829 731 828 734 829"/><path d="M617 797 619 797 622 797 624 798 627 799 629 800 632 800 634 800 637 799 639 798 642 796 644 796"/><path d="M728 915 731 914 733 913 736 912 738 912 741 913 743 914 746 916 748 918 751 918 753 919 756 918 758 917 761 916"/><path d="M628 785 631 786 633 787 636 788 638 789 641 789 643 788 646 786 648 785 651 784 653 784 656 784 658 786"/><path d="M772 832 775 833 777 834 780 835 782 834 785 834 787 833 790 832 792 832 795 833 797 834 800 836 802 837 805 838"/><path d="M733 839 735 840 738 841 740 842 743 841 745 840 748 838 750 837 753 836 755 836 758 837 760 838 763 839 765 839 768 839 770 838 773 837 775 835 778 834 780 834 783 834 785 835 788 836 790 837"/><path d="M579 871 582 872 584 874 587 874 589 874 592 873 594 872 597 871 599 871 602 872 604 873 607 874 609 876 612 877 614 877 617 876 619 875 622 874"/><path d="M691 838 694 838 696 840 699 841 701 842 704 842 706 842 709 841 711 839 714 838 716 838 719 838 721 839 724 840 726 841 729 842 731 842 734 841 736 840 739 838 741 838"/><path d="M776 837 779 837 781 839 784 839 786 840 789 840 791 839 794 837 796 836 799 835 801 834 804 835 806 836"/><path d="M780 905 783 905 785 905 788 903 790 902 793 902 795 902 798 902 800 904 803 905 805 906 808 907 810 906 813 906"/><path d="M644 798 647 797 649 795 652 794 654 793 657 793 659 793 662 794 664 795 667 796 669 796 672 795 674 793 677 792 679 790 682 790 684 790 687 791 689 792 692 793 694 793 697 792 699 791 702 789"/><path d="M673 895 675 896 678 896 680 895 683 894 685 893 688 892 690 892 693 893 695 895 698 896 700 897 703 898 705 897 708 897 710 895 713 895 715 894 718 895 720 896 723 897 725 899 728 900 730 900 733 899 735 898 738 897 740 896"/><path d="M604 913 607 913 609 913 612 912 614 911 617 910 619 909 622 908 624 909 627 910 629 911 632 912 634 912 637 912 639 910 642 909 644 908 647 907"/></g><g fill="none" stroke="#6a4a90" stroke-linecap="round" opacity="0.7"><path d="M563 888l2.1 -.6M665 810l1.9 .7M651 863l1.4 .8M532 829l2.3 -.3M649 820l1.5 -.5M587 813l1.4 -.9M762 832l1.9 -.8M806 890l1.5 -.3M729 861l2.3 -.2M760 853l1.7 .2M774 887l1.9 .2M574 830l2.1 .4M631 808l1.8 .6M673 800l1.6 -1.0M537 860l2.4 .3M667 913l2.2 .1M670 908l2 -.1M601 830l1.9 -1.3M746 882l2.2 .7M754 824l2 -.2M541 892l1.8 -.7M668 818l1.7 -.3M677 844l2 -.1M575 836l2.1 .8M751 881l1.5 .7M556 845l1.5 -.9M571 826l1.5 -.4M726 812l1.7 -.1M532 799l1.7 -.7M556 898l1.8 -.7M567 863l1.5 .4M717 829l1.4 .9M751 824l1.6 .3M637 835l1.7 .3M542 781l2.1 1.0M612 889l1.5 .9M736 805l1.4 -.9M757 910l1.8 -.8M770 912l2.1 .0M632 791l1.6 .3M555 852l1.7 -.0M617 893l1.9 -1.3M582 787l2.2 .8M716 886l2.3 -.4M775 856l1.6 1.1M739 840l2.2 -.4M621 780l2.2 .3M795 895l1.5 .1M546 891l2 .9M621 843l2.2 -.3M548 775l2.3 .2M604 876l1.8 -1.3M594 867l1.3 .7M632 912l2.2 -.6M597 816l1.5 .3M694 811l1.5 -.9M783 912l2.1 -1.1M586 843l2.4 .1M720 852l1.7 .1M548 778l2.4 -.2M709 848l2.3 -.3M612 787l1.6 .7M620 829l2 .2M547 846l1.6 .6M665 890l1.6 .0M744 914l2.2 -.5M555 824l2.2 -.6M615 898l1.9 1.1M763 868l1.9 -.8M727 853l1.4 -.8M797 880l1.9 .1M766 812l1.8 -.4M708 805l1.7 -1.0M639 843l1.3 -.9M675 821l2 -.2M719 865l1.6 -.0M642 832l2 1.1M670 893l1.5 .5M721 888l1.7 .4M733 838l2 1.1M797 834l1.5 -.5M587 834l1.8 -1.1M718 862l1.7 .0M754 845l1.5 .8M744 886l2 .5M651 903l2.3 -.3M572 786l1.3 .7M695 803l1.5 -.4M702 841l2.1 -.8M606 829l1.7 .2M596 855l2 .8M800 829l1.7 .8M743 834l1.7 -.5M556 880l1.4 .5M679 910l1.8 1.2M564 821l1.9 -.5M668 793l1.6 -1.1M650 811l1.7 -.2M746 856l1.9 .3M527 777l1.8 .9M759 823l2.4 -.1M736 915l1.6 -.7M701 827l1.4 -1.0M635 806l1.6 .8M690 865l2.2 .7M664 868l2 .4M703 802l2 .3M790 875l2.1 .7M756 841l1.7 -.5M725 893l1.8 -.8M761 818l1.6 -1.0M669 868l1.8 -.3M668 907l2.1 -.2M720 841l1.5 -.6M546 884l1.9 -.3M670 866l1.5 .3M727 881l1.7 .2M591 832l1.5 .5M588 910l1.9 .9M534 898l2 -.4M647 871l2 -.8M783 865l1.9 -.6M564 862l1.7 .5M593 863l2.1 -.5M555 801l1.7 -.9M694 896l1.4 -.9M724 881l2.3 .3M622 886l1.5 .4M552 801l1.9 -.3M757 814l1.9 -.7M693 900l2 -1.3M751 890l1.7 -.2M689 901l1.6 .8M562 813l2 1.1M705 867l1.9 .9M703 911l1.9 -.6M542 905l2 -.4M696 833l1.7 -1.0M625 803l1.4 .7M645 851l2 .6M729 869l1.4 .9M568 901l2 .9M755 814l1.5 1.0M537 827l1.7 -.8M637 861l1.9 -1.3M535 798l2.1 -.5M562 877l2 .9M611 806l1.6 .1M619 789l1.9 1.2M709 810l2.3 .6M761 859l1.7 .9M570 796l1.7 -.9M610 792l1.6 .5M667 825l1.4 .8M661 900l2 1.3M755 902l2.2 .8M563 824l1.6 1.1M747 860l2.1 -.4M791 848l1.8 -.1M802 827l1.4 -.7M719 833l2.1 -.9M555 774l2 .1M766 848l1.4 .7M531 795l2.2 .6M606 896l1.8 .9M716 829l2.2 .8M730 881l2.3 -.7M582 868l2.2 .0M663 801l2.1 .8M766 813l1.5 -.4M559 782l2.2 .7M799 829l2 .1M674 828l1.9 1.2M641 846l1.7 -.4M668 837l1.6 1.1M571 846l2.3 .7M685 795l1.6 .9M778 853l2 1.1M657 877l1.7 .5" stroke-width="2.0"/><path d="M587 806l1.3 -.5M697 882l1.2 -.8M592 864l1.4 -.6M558 895l1.4 -.5M603 849l1.3 -.7M572 864l1.2 .8M596 869l1.3 -.5M567 852l1.4 -.2M623 835l1.3 .5M618 787l1.2 .8M642 865l1.3 -.7" stroke-width="1.0"/></g><ellipse cx="568.3" cy="822.8" rx="13" ry="11" fill="#a47fbe" stroke="#8f62ab" stroke-width="1.6"/><ellipse cx="596.6" cy="824.2" rx="13" ry="13.5" fill="#a47fbe" stroke="#8f62ab" stroke-width="1.6"/><ellipse cx="624.8" cy="830.9" rx="12" ry="12.5" fill="#a47fbe" stroke="#8f62ab" stroke-width="1.6"/><ellipse cx="708" cy="849.7" rx="17" ry="13" fill="#a47fbe" stroke="#8f62ab" stroke-width="1.6"/><ellipse cx="743" cy="864.5" rx="13" ry="12" fill="#a47fbe" stroke="#8f62ab" stroke-width="1.6"/><ellipse cx="767.1" cy="880.6" rx="12" ry="11" fill="#a47fbe" stroke="#8f62ab" stroke-width="1.6"/><ellipse cx="533.4" cy="884.6" rx="10" ry="11" fill="#a47fbe" stroke="#8f62ab" stroke-width="1.6"/><ellipse cx="577.7" cy="881.9" rx="10" ry="9" fill="#a47fbe" stroke="#8f62ab" stroke-width="1.6"/><ellipse cx="610" cy="875.2" rx="12" ry="11" fill="#a47fbe" stroke="#8f62ab" stroke-width="1.6"/><ellipse cx="669.1" cy="880.6" rx="10" ry="8" fill="#a47fbe" stroke="#8f62ab" stroke-width="1.6"/><ellipse cx="803.4" cy="888.6" rx="9" ry="11" fill="#a47fbe" stroke="#8f62ab" stroke-width="1.6"/><ellipse cx="638.2" cy="881.9" rx="8" ry="6" fill="#a47fbe" stroke="#8f62ab" stroke-width="1.6"/><g fill="none" stroke="#663a8e" stroke-linecap="round" opacity="0.75"><path d="M603 880l.4 .0M574 881l.3 -.0M629 823l.4 .0M534 883l.3 .0M617 876l.4 .1M591 826l.3 .1M561 827l.4 -.0M572 814l.3 .1M597 813l.4 .2M590 828l.4 -.1M716 852l.4 .0M541 885l.4 .2M562 828l.4 .1M706 847l.4 -.0M594 825l.4 .0M713 843l.4 -.1M600 827l.4 -.2M763 886l.4 -.0M752 868l.3 .1M576 883l.3 .2M797 894l.4 -.0M745 860l.4 .2M574 815l.3 -.1M698 858l.3 -.1M610 877l.4 -.2M723 850l.3 -.2M576 820l.3 -.1M592 817l.3 .1M707 860l.4 .0M800 889l.3 .1M576 881l.3 .0M737 872l.3 -.2M602 817l.4 .1M754 867l.3 .1M589 832l.4 -.0M695 851l.3 -.1M564 820l.3 .1M590 832l.3 .1M641 883l.3 .1M674 880l.3 .1M805 897l.4 -.1M619 873l.3 -.2M667 886l.3 .2M587 826l.4 -.1M672 883l.4 -.1M577 823l.4 -.2M798 890l.3 -.1M709 859l.4 .0M618 869l.4 .1M699 847l.4 -.2M535 886l.4 .1M585 883l.4 -.2M631 832l.4 -.1M668 887l.4 -.0M732 862l.4 -.0M579 874l.3 -.2M753 869l.4 .2M708 854l.4 .2M617 881l.4 .1M570 879l.4 -.1M676 878l.4 -.1M718 855l.3 -.1M744 860l.4 -.0M576 880l.3 .1M577 819l.4 .1M704 860l.4 .0M632 839l.4 -.1M603 818l.4 .1M743 867l.4 .0M759 882l.3 .1M808 887l.4 .1M601 819l.3 .2M765 878l.4 -.0M716 859l.4 -.1M602 819l.4 .0M736 870l.3 -.0M535 890l.4 .1M610 875l.4 .2M591 828l.3 -.1M713 847l.3 .1M577 828l.4 -.1M740 866l.4 -.2M533 892l.3 .2M703 860l.4 .1M664 885l.3 .1M710 858l.3 -.2M596 820l.4 -.2M636 881l.4 .2M537 886l.3 -.1M802 886l.3 -.0M531 876l.3 -.1M665 876l.4 .2M640 881l.3 .1M617 833l.3 .0M753 862l.4 .1M592 819l.4 -.1M769 883l.3 -.2M605 874l.4 -.0M753 860l.3 .0M665 885l.4 -.0M801 887l.3 .2M772 887l.4 .1M606 868l.3 .1M575 887l.3 -.1M707 861l.4 -.1M597 829l.4 -.1M673 881l.4 -.0M716 851l.3 -.1M694 852l.4 -.1M567 815l.3 .1M758 885l.3 .2M606 822l.3 .0M581 881l.3 .2M633 826l.4 -.1M744 872l.3 .1M738 870l.4 -.1M715 857l.4 -.1M607 883l.3 -.2M612 875l.4 -.0M532 887l.3 .2M750 862l.3 .1M706 843l.3 .2M593 825l.3 -.1M602 831l.4 .0M798 888l.3 -.1M606 867l.3 -.2M587 831l.4 -.1M714 841l.3 -.2M566 828l.3 .1M562 814l.3 -.0M747 873l.4 -.2M774 884l.3 .2M610 877l.3 -.2M577 827l.3 .2M803 885l.3 -.0M663 875l.3 -.0M598 829l.3 .1M747 862l.3 .2M595 818l.4 -.0M528 883l.4 .1M564 830l.3 .2M539 880l.3 -.2M572 828l.4 -.1M704 840l.3 -.2M631 836l.4 .1M763 873l.3 -.1M574 822l.3 -.1M627 830l.4 -.1M589 825l.3 -.2M740 857l.3 -.2M633 836l.4 -.1M616 871l.3 .1M804 897l.3 -.1M667 886l.3 -.2M766 876l.3 -.1M751 861l.4 -.1M585 881l.4 .1M668 886l.3 .1M599 832l.3 -.0M571 821l.4 .1M616 880l.3 .0M699 857l.4 .1M566 814l.3 -.1M639 881l.3 -.2M761 882l.3 .1M593 835l.4 -.0M596 814l.4 .0M744 872l.3 -.2M669 875l.3 -.0M707 847l.3 -.2M806 888l.4 .1M723 847l.3 -.1M771 881l.4 .0M627 822l.4 .2M736 860l.3 -.2M602 869l.3 .2M578 889l.3 -.2M627 822l.4 .2M700 843l.3 .1M587 824l.3 -.1M713 854l.4 -.1M601 834l.3 .1M620 824l.4 -.1M597 825l.4 .0M764 882l.3 .0M599 829l.4 -.0M592 828l.4 .1M736 869l.4 .2M638 877l.3 .2M740 867l.3 .1M601 870l.4 .0M527 891l.4 .1M769 881l.4 .2M619 835l.4 -.0M744 863l.4 -.0" stroke-width="2.0"/><path d="M721 854l.2 -.1M590 829l.2 -.2M770 885l.3 .1M696 853l.2 -.1M713 860l.3 -.1M618 837l.3 -.1M604 830l.3 .1M538 885l.2 -.1M742 855l.3 -.1M623 823l.3 .0M715 857l.3 -.1M537 890l.3 -.0M615 830l.3 .0M559 821l.3 .0M618 875l.2 .1M695 853l.3 .1M620 874l.2 .1M586 829l.3 -.1M597 824l.3 .1M619 879l.3 .1M743 858l.3 -.0M752 862l.3 -.1M702 856l.2 -.1M645 881l.2 .1M766 878l.3 .0M722 853l.3 .1M588 830l.2 -.1M593 834l.3 -.0M532 892l.3 .0M562 816l.3 -.0M764 883l.3 .0M599 815l.2 .0M530 890l.3 .1M528 883l.3 .0M669 886l.2 -.1M629 832l.3 .1M573 823l.3 .1M712 852l.3 -.0M747 873l.3 .1M634 880l.2 .1M745 856l.3 -.0M632 829l.3 .1M594 826l.2 -.1M625 826l.3 .1M640 884l.3 -.1M572 814l.2 .1M577 827l.2 .2M776 885l.3 .0M663 881l.2 .1M712 861l.2 .1M637 885l.2 -.2M585 884l.3 .1M712 841l.3 -.0M611 870l.2 .1M619 836l.2 -.1M759 877l.3 -.1M733 860l.2 .1M573 832l.3 -.0M707 846l.2 -.1M618 824l.3 .0M541 882l.3 .1M600 872l.3 .0M535 885l.2 .1M585 877l.2 .0M573 820l.3 .1" stroke-width="1.0"/></g><ellipse cx="569.3" cy="821.8" rx="3.6400000000000006" ry="3.08" fill="#e6c4e4" /><ellipse cx="597.6" cy="823.2" rx="3.6400000000000006" ry="3.7800000000000002" fill="#e6c4e4" /><ellipse cx="625.8" cy="829.9" rx="3.3600000000000003" ry="3.5000000000000004" fill="#e6c4e4" /><ellipse cx="709" cy="848.7" rx="4.760000000000001" ry="3.6400000000000006" fill="#e6c4e4" /><ellipse cx="744" cy="863.5" rx="3.6400000000000006" ry="3.3600000000000003" fill="#e6c4e4" /><ellipse cx="768.1" cy="879.6" rx="3.3600000000000003" ry="3.08" fill="#e6c4e4" /><ellipse cx="534.4" cy="883.6" rx="2.8000000000000003" ry="3.08" fill="#e6c4e4" /><ellipse cx="578.7" cy="880.9" rx="2.8000000000000003" ry="2.5200000000000005" fill="#e6c4e4" /><ellipse cx="611" cy="874.2" rx="3.3600000000000003" ry="3.08" fill="#e6c4e4" /><ellipse cx="670.1" cy="879.6" rx="2.8000000000000003" ry="2.24" fill="#e6c4e4" /><ellipse cx="804.4" cy="887.6" rx="2.5200000000000005" ry="3.08" fill="#e6c4e4" /><ellipse cx="639.2" cy="880.9" rx="2.24" ry="1.6800000000000002" fill="#e6c4e4" /><path d="M524.0,761.6C526.7,761.1 534.0,758.9 540.0,758.5C546.0,758.1 554.2,758.7 560.0,759.0C565.8,759.3 570.7,759.6 575.0,760.5C579.3,761.4 581.8,764.0 586.0,764.3C590.2,764.5 595.3,762.5 600.0,762.0C604.7,761.5 609.0,761.1 614.0,761.0C619.0,760.9 625.5,761.2 630.0,761.5C634.5,761.8 638.0,761.9 641.0,763.0C644.0,764.1 645.8,765.8 648.0,768.0C650.2,770.2 651.7,774.2 654.0,776.0C656.3,777.8 658.8,778.4 662.0,778.5C665.2,778.6 669.6,777.3 673.4,776.4C677.2,775.5 681.4,773.6 685.0,773.0C688.6,772.4 691.7,772.2 695.0,773.0C698.3,773.8 701.2,775.9 705.0,778.0C708.8,780.1 714.0,784.8 717.7,785.8C721.4,786.8 724.1,784.1 727.0,784.0C729.9,783.9 732.2,784.3 735.2,785.1C738.2,785.9 741.9,787.8 745.0,789.0C748.1,790.2 749.2,791.8 754.0,792.5C758.8,793.2 768.8,792.6 774.0,793.2C779.2,793.8 781.6,794.8 785.0,796.0C788.4,797.2 790.0,798.8 794.3,800.6C798.6,802.4 808.2,805.9 811.0,807.0L811.0,825.3C808.2,824.2 798.6,820.4 794.3,818.4C790.0,816.5 788.4,814.9 785.0,813.5C781.6,812.2 779.2,811.2 774.0,810.4C768.8,809.7 758.8,810.0 754.0,809.1C749.2,808.3 748.1,806.7 745.0,805.4C741.9,804.0 738.2,802.1 735.2,801.2C732.2,800.2 729.9,799.8 727.0,799.8C724.1,799.8 721.4,802.4 717.7,801.3C714.0,800.2 708.8,795.5 705.0,793.1C701.2,790.8 698.3,788.0 695.0,787.0C691.7,786.0 688.6,786.4 685.0,787.0C681.4,787.6 677.2,789.5 673.4,790.4C669.6,791.3 665.2,792.6 662.0,792.5C658.8,792.4 656.3,791.8 654.0,790.0C651.7,788.2 650.2,784.2 648.0,782.0C645.8,779.8 644.0,778.1 641.0,777.0C638.0,775.9 634.5,775.8 630.0,775.5C625.5,775.2 619.0,774.9 614.0,775.0C609.0,775.1 604.7,775.5 600.0,776.0C595.3,776.5 590.2,778.5 586.0,778.3C581.8,778.0 579.3,775.4 575.0,774.5C570.7,773.6 565.8,773.3 560.0,773.0C554.2,772.7 546.0,772.1 540.0,772.5C534.0,772.9 526.7,775.1 524.0,775.6Z" fill="#a97cc2"/><g fill="none" stroke="#5f3a86" stroke-linecap="round" opacity="0.7"><path d="M652 776l.3 -.2M713 785l.4 -.0M739 800l.3 -.2M657 781l.4 .0M554 770l.4 .1M761 799l.4 .1M566 763l.4 -.0M557 765l.4 -.1M657 780l.4 .2M688 784l.4 .1M646 776l.4 .1M786 810l.3 -.2M662 781l.4 .1M556 769l.4 -.1M621 768l.3 .2M601 774l.4 .0M594 771l.4 .1M579 765l.4 -.2M659 787l.3 .2M746 801l.4 .1M784 806l.4 .2M601 772l.4 -.1M792 812l.4 -.0M673 779l.4 -.1M680 787l.4 .2M537 770l.4 .1M794 812l.3 .2M716 791l.4 -.2M681 779l.4 .2M610 771l.4 -.1M530 772l.4 -.1M646 775l.3 .1M687 783l.4 -.1M705 787l.4 .0M586 769l.4 -.1M556 762l.4 .0M807 814l.4 .1M778 799l.4 -.2M539 764l.4 .1M673 780l.4 .1M806 818l.4 -.3M720 787l.3 -.1M662 781l.4 .0M646 774l.4 -.1M591 766l.4 .1M704 791l.4 .1M714 797l.4 .1M666 788l.4 .1M544 765l.3 .1M755 797l.3 -.2M583 776l.4 -.0M547 762l.4 .1M563 764l.4 .1M753 802l.4 .0M529 766l.4 -.1M774 796l.4 -.0M769 800l.4 -.2M691 778l.3 -.1M727 790l.4 -.0M778 801l.3 .1M792 806l.4 -.0M549 768l.4 -.1M530 765l.4 -.2M685 786l.4 .2M588 774l.3 -.2M595 767l.4 -.1M797 813l.4 .1M598 766l.3 -.2M753 797l.4 -.2M756 806l.3 -.2M745 792l.4 -.0M527 771l.4 .1M536 771l.4 .1M802 806l.4 -.2M641 765l.3 .2M613 772l.4 .0M792 810l.4 -.0M773 796l.4 -.1M671 780l.4 -.2M635 775l.4 -.0M656 790l.4 -.1M753 798l.4 -.1M628 768l.3 .2M632 772l.4 -.1M799 816l.4 -.0M725 794l.3 -.2M645 771l.3 .2M625 767l.4 .2M751 801l.4 .0M734 788l.4 -.1M788 813l.4 .1M608 770l.4 .0M546 768l.4 -.2M642 771l.4 -.1M550 762l.4 .1M646 771l.3 .2M641 768l.4 -.1M571 771l.3 -.2M706 789l.4 .1M604 764l.4 -.1M751 799l.4 .2M666 781l.4 -.2M654 783l.4 -.2M778 802l.4 -.1M545 765l.4 -.0M806 818l.4 -.0M786 806l.4 -.1M596 775l.4 -.2M542 763l.4 -.2M603 766l.3 -.2M694 782l.4 .2M694 777l.4 .1" stroke-width="1.0"/><path d="M657 785l.4 .2M614 764l.4 .2M591 766l.5 -.0M753 794l.4 .2M698 780l.6 -.1M610 769l.5 -.1M610 769l.5 .1M649 773l.5 -.0M747 802l.5 .2M613 769l.4 -.2M651 780l.5 .3M715 795l.4 -.2M596 770l.5 -.1M766 807l.5 -.2M613 764l.5 -.1M616 773l.5 -.1M587 767l.5 .2M779 802l.5 -.3M723 794l.5 -.1M754 802l.6 .0M564 765l.4 -.3M678 785l.5 -.2M571 766l.5 .2M804 807l.5 .3M680 782l.6 .2M801 810l.5 .2M644 768l.4 .1M642 769l.5 .3M773 797l.5 -.2M754 802l.5 .2M543 764l.5 .3M585 775l.5 .3M595 775l.5 -.1M757 801l.5 .2M748 805l.5 .3M558 764l.5 -.2M652 784l.5 -.1M597 775l.4 -.3M808 821l.5 -.1M781 810l.6 .1M743 799l.4 -.3M693 786l.5 -.1M804 818l.5 -.2M694 784l.5 -.2M706 788l.5 .3M800 813l.5 -.1M642 773l.4 -.2M781 808l.5 .1M781 808l.5 -.2M585 773l.6 -.1M648 772l.5 .2M750 801l.5 .1M652 777l.6 -.1M785 807l.6 .2M621 766l.5 .0M755 802l.4 -.2M576 771l.5 .2M713 795l.5 -.0M791 811l.5 -.1M764 804l.5 .1M780 808l.5 -.0M799 812l.5 .0M680 785l.5 -.3M699 784l.4 -.3M717 791l.4 -.3M769 800l.5 -.2M606 774l.5 -.1M708 786l.5 -.0M696 786l.6 -.1M696 781l.5 -.3M619 766l.5 -.2M574 770l.5 -.0M597 775l.5 -.3M604 769l.5 -.2M727 789l.5 -.2M530 766l.4 -.3M725 796l.6 -.1M582 775l.5 -.1M655 787l.5 -.1M560 766l.5 -.3M722 799l.5 -.0M612 770l.5 .2M692 783l.6 -.1M674 780l.5 -.2M788 802l.5 -.2M694 777l.5 -.3M613 770l.4 .1M781 800l.5 -.1M614 773l.5 -.0M592 771l.4 -.1M539 767l.5 -.3M605 766l.4 -.2M547 763l.6 -.1M694 780l.5 .1M777 805l.4 -.2M571 765l.5 .1M758 797l.5 .1M563 770l.4 -.3M707 787l.5 -.2M681 782l.5 .1M542 767l.5 .1M657 788l.5 .0M736 797l.5 -.2M804 808l.6 .2M768 798l.5 -.2M710 787l.5 -.0M721 788l.5 -.1M750 802l.5 -.2M763 807l.5 -.1M603 774l.4 -.2M735 793l.4 -.3M578 764l.4 .2M700 784l.4 .1M637 772l.6 -.1M596 766l.5 .2M626 773l.5 -.0M585 769l.6 .0M569 764l.5 -.1M659 787l.5 -.2M568 765l.5 -.2M592 768l.4 .2M726 789l.5 -.0M738 791l.5 -.1M664 785l.4 .3M651 783l.5 .0M603 768l.5 -.1M808 823l.5 -.0M740 800l.4 .2M789 806l.5 -.1M720 790l.5 -.3M667 781l.5 -.2M743 798l.5 -.2M677 779l.5 -.2M774 799l.5 .0M763 799l.5 .1M636 767l.4 -.2M750 806l.4 .2M545 763l.6 .0M553 767l.6 .0M615 764l.5 .1M563 762l.6 -.1M535 766l.5 -.1M686 780l.5 -.1M688 782l.5 -.0M803 808l.5 -.2M670 787l.6 -.0M659 789l.5 -.1M560 762l.5 .2M646 775l.4 -.1M769 802l.5 -.1M554 771l.5 .3M566 762l.6 .1M656 779l.5 -.0M772 797l.6 -.2M560 765l.5 .2M583 769l.4 -.2M608 764l.5 -.0M639 768l.6 .1M556 762l.6 -.0M584 772l.5 .1M611 774l.6 -.2M794 807l.5 -.2M572 770l.5 -.2M731 794l.5 .1M803 811l.5 -.2M578 766l.5 .2M793 807l.5 -.3M802 820l.5 .2" stroke-width="2.0"/></g><path d="M524.0,761.6C526.7,761.1 534.0,758.9 540.0,758.5C546.0,758.1 554.2,758.7 560.0,759.0C565.8,759.3 570.7,759.6 575.0,760.5C579.3,761.4 581.8,764.0 586.0,764.3C590.2,764.5 595.3,762.5 600.0,762.0C604.7,761.5 609.0,761.1 614.0,761.0C619.0,760.9 625.5,761.2 630.0,761.5C634.5,761.8 638.0,761.9 641.0,763.0C644.0,764.1 645.8,765.8 648.0,768.0C650.2,770.2 651.7,774.2 654.0,776.0C656.3,777.8 658.8,778.4 662.0,778.5C665.2,778.6 669.6,777.3 673.4,776.4C677.2,775.5 681.4,773.6 685.0,773.0C688.6,772.4 691.7,772.2 695.0,773.0C698.3,773.8 701.2,775.9 705.0,778.0C708.8,780.1 714.0,784.8 717.7,785.8C721.4,786.8 724.1,784.1 727.0,784.0C729.9,783.9 732.2,784.3 735.2,785.1C738.2,785.9 741.9,787.8 745.0,789.0C748.1,790.2 749.2,791.8 754.0,792.5C758.8,793.2 768.8,792.6 774.0,793.2C779.2,793.8 781.6,794.8 785.0,796.0C788.4,797.2 790.0,798.8 794.3,800.6C798.6,802.4 808.2,805.9 811.0,807.0" fill="none" stroke="#74378a" stroke-width="2.4"/><path d="M524.0,759.3C526.7,758.8 534.0,756.6 540.0,756.2C546.0,755.8 554.2,756.4 560.0,756.7C565.8,757.0 570.7,757.3 575.0,758.2C579.3,759.1 581.8,761.8 586.0,762.0C590.2,762.2 595.3,760.2 600.0,759.7C604.7,759.2 609.0,758.8 614.0,758.7C619.0,758.6 625.5,758.9 630.0,759.2C634.5,759.5 638.0,759.6 641.0,760.7C644.0,761.8 645.8,763.5 648.0,765.7C650.2,767.9 651.7,772.0 654.0,773.7C656.3,775.5 658.8,776.1 662.0,776.2C665.2,776.3 669.6,775.0 673.4,774.1C677.2,773.2 681.4,771.3 685.0,770.7C688.6,770.1 691.7,769.9 695.0,770.7C698.3,771.5 701.2,773.6 705.0,775.7C708.8,777.8 714.0,782.5 717.7,783.5C721.4,784.5 724.1,781.8 727.0,781.7C729.9,781.6 732.2,782.0 735.2,782.8C738.2,783.6 741.9,785.5 745.0,786.7C748.1,787.9 749.2,789.5 754.0,790.2C758.8,790.9 768.8,790.3 774.0,790.9C779.2,791.5 781.6,792.5 785.0,793.7C788.4,794.9 790.0,796.5 794.3,798.3C798.6,800.1 808.2,803.6 811.0,804.7" fill="none" stroke="#d9a0cc" stroke-width="1.2" opacity="0.8"/><path d="M538,758 C548,753 558,751 566,752 L567,755 C556,756 547,758 540,760Z" fill="#dc6c9e"/><path d="M586,763 C600,756 615,751 628,747 L633,749 C620,755 603,760 590,765Z" fill="#df76a5"/><ellipse cx="544" cy="753" rx="4" ry="2" fill="#9a78b8" /></g><rect x="574.6" y="885.6" width="176.79999999999995" height="28.199999999999932" fill="#fff"/><text x="582.46" y="905.20" font-family="Liberation Sans" font-size="17.20" font-weight="bold" font-style="normal" fill="#111" textLength="155.87" lengthAdjust="spacingAndGlyphs" >Regular Diet + Sham</text><line x1="783.6" y1="908.2" x2="805" y2="908.2" stroke="#222" stroke-width="0.9"/><text x="783.88" y="906.00" font-family="Liberation Sans" font-size="6.20" font-weight="bold" font-style="normal" fill="#222" textLength="21.07" lengthAdjust="spacingAndGlyphs" >50 µm</text></g><clipPath id="clip2"><rect x="817.1" y="723.9" width="281.4999999999999" height="193.10000000000002"/></clipPath><g clip-path="url(#clip2)"><rect x="817.1" y="723.9" width="281.4999999999999" height="193.10000000000002" fill="#e6e8e5"/><g filter="url(#hblur)"><path d="M815.0,779.5C820.0,780.2 833.5,781.5 845.3,783.5C857.1,785.5 873.5,789.6 885.6,791.6C897.7,793.6 909.7,797.0 917.8,795.6C925.9,794.2 928.6,786.9 934.0,783.5C939.4,780.1 940.2,777.2 950.0,775.4C959.8,773.6 979.1,772.7 993.0,772.7C1006.9,772.7 1023.0,773.6 1033.3,775.4C1043.6,777.2 1049.2,780.8 1054.8,783.5C1060.4,786.2 1063.3,791.6 1066.9,791.6C1070.5,791.6 1070.6,786.3 1076.3,783.5C1082.0,780.7 1096.9,776.4 1101.0,775.0L1101.6,919.0L814.1,919.0Z" fill="#e79ed3"/><g fill="none" stroke="#f3cde8" stroke-width="1.5" opacity="0.7" stroke-linecap="round"><path d="M1024 856 1027 856 1029 858 1032 859 1034 860 1037 859 1039 858 1042 856 1044 856 1047 856 1049 858 1052 859"/><path d="M1058 841 1060 840 1063 840 1065 841 1068 842 1070 843 1073 843 1075 842"/><path d="M1024 852 1027 850 1029 850 1032 851 1034 852 1037 853 1039 852"/><path d="M959 869 962 869 964 870 967 871 969 872 972 872 974 871 977 869 979 868 982 868 984 869 987 870 989 871 992 871 994 870 997 868"/><path d="M826 835 828 837 831 839 833 839 836 839 838 838 841 837 843 837 846 838 848 839 851 841 853 842 856 841"/><path d="M922 887 924 885 927 884 929 885 932 886 934 887 937 888 939 887 942 885 944 884 947 883 949 883 952 884 954 886 957 886 959 885 962 884 964 882"/><path d="M855 837 857 836 860 836 862 836 865 838 867 839 870 840 872 839 875 838 877 837 880 836 882 837 885 838 887 840 890 840 892 840"/><path d="M969 827 972 825 974 824 977 824 979 825 982 827 984 828"/><path d="M951 876 954 877 956 877 959 877 961 875 964 874 966 874 969 875 971 877 974 878 976 879 979 878 981 877 984 876 986 876 989 877 991 878 994 880"/><path d="M936 890 939 891 941 892 944 894 946 894 949 893 951 891 954 890 956 890 959 890 961 892"/><path d="M1081 911 1084 912 1086 913 1089 914 1091 913 1094 912 1096 910 1099 909"/><path d="M898 895 901 896 903 896 906 895 908 893 911 891 913 891 916 891 918 892 921 893 923 893 926 892"/><path d="M1095 891 1097 890 1100 888 1102 887 1105 887 1107 889 1110 890 1112 891 1115 890 1117 889 1120 887 1122 886 1125 886 1127 887 1130 889 1132 890 1135 889 1137 888"/><path d="M853 870 856 871 858 872 861 872 863 871 866 869 868 869 871 869 873 871"/><path d="M978 847 981 849 983 849 986 849 988 847 991 845 993 844 996 844 998 845"/><path d="M1071 826 1073 825 1076 825 1078 826 1081 827 1083 828 1086 828 1088 827 1091 826 1093 824 1096 824 1098 825 1101 826 1103 827"/><path d="M1037 859 1040 860 1042 860 1045 859 1047 858 1050 857 1052 858"/><path d="M957 830 959 829 962 829 964 829 967 831 969 833 972 834 974 834 977 833 979 832 982 831 984 832 987 834 989 835 992 837"/><path d="M802 897 804 895 807 893 809 892 812 893 814 894 817 895 819 895 822 894 824 893 827 891 829 890 832 890 834 891 837 893"/><path d="M841 859 843 858 846 857 848 858 851 859 853 860 856 860 858 859 861 857 863 855 866 855 868 855 871 856 873 857"/><path d="M963 881 966 880 968 878 971 877 973 877 976 878 978 879"/><path d="M877 887 879 888 882 889 884 891 887 892 889 892 892 891 894 890 897 889 899 889"/><path d="M892 827 894 826 897 824 899 823 902 823 904 824 907 825 909 826 912 826 914 825 917 824"/><path d="M814 841 817 842 819 842 822 841 824 839 827 838 829 838 832 839 834 840 837 841 839 841"/><path d="M816 820 819 821 821 822 824 821 826 820 829 818 831 817 834 817 836 818 839 819 841 820 844 819 846 818"/><path d="M970 877 972 876 975 875 977 875 980 876 982 878 985 879 987 879 990 878"/><path d="M1070 900 1072 901 1075 902 1077 901 1080 900 1082 899 1085 899 1087 899 1090 901 1092 902 1095 903 1097 903 1100 901 1102 900 1105 900 1107 900 1110 902"/><path d="M869 854 871 855 874 856 876 856 879 855 881 853 884 852 886 852 889 852 891 854 894 855"/><path d="M1058 857 1061 858 1063 859 1066 861 1068 862 1071 862 1073 861 1076 860 1078 859 1081 860 1083 861"/><path d="M832 837 835 836 837 837 840 838 842 839 845 840 847 839 850 837 852 836 855 835 857 835 860 836 862 838 865 838 867 837 870 836"/><path d="M994 859 997 859 999 860 1002 862 1004 863 1007 863 1009 862 1012 861 1014 860 1017 860 1019 861"/><path d="M1084 866 1087 866 1089 865 1092 863 1094 862 1097 861 1099 862 1102 864"/><path d="M982 835 985 836 987 838 990 838 992 838 995 837 997 835 1000 835 1002 835 1005 836 1007 838"/><path d="M977 861 980 861 982 860 985 858 987 856 990 856 992 856 995 858 997 859 1000 858 1002 857 1005 855 1007 854 1010 853 1012 854 1015 855 1017 856"/><path d="M939 884 942 883 944 882 947 883 949 884 952 885 954 885 957 884 959 882 962 880 964 880 967 881 969 882 972 883 974 883 977 882 979 880"/><path d="M990 890 993 889 995 888 998 886 1000 885 1003 884 1005 885 1008 886 1010 887 1013 887 1015 885 1018 884 1020 882 1023 882 1025 882 1028 883"/><path d="M894 868 897 867 899 867 902 869 904 871 907 872 909 872 912 871 914 870 917 869 919 870 922 871 924 873 927 874 929 875 932 874"/><path d="M879 890 881 889 884 887 886 886 889 886 891 888 894 889 896 889 899 889 901 887 904 886 906 885 909 885 911 886 914 888 916 888 919 888 921 886"/><path d="M1097 881 1099 880 1102 881 1104 882 1107 884 1109 885 1112 885 1114 884 1117 883 1119 882 1122 883"/><path d="M832 855 835 854 837 854 840 855 842 856 845 858 847 859 850 858 852 857 855 856 857 856 860 857 862 859 865 860 867 861 870 860 872 859"/><path d="M867 918 869 917 872 915 874 913 877 913 879 914 882 915 884 916 887 915 889 914 892 912"/><path d="M1078 875 1081 874 1083 873 1086 871 1088 871 1091 872 1093 873 1096 874 1098 874"/><path d="M947 821 949 820 952 820 954 822 957 823 959 823 962 822 964 820 967 819 969 818 972 818 974 819 977 820 979 820 982 819"/><path d="M987 831 989 832 992 833 994 833 997 832 999 831 1002 830 1004 831 1007 832 1009 834 1012 835 1014 835 1017 834 1019 832 1022 832 1024 832 1027 834"/><path d="M879 849 881 850 884 850 886 849 889 848 891 847 894 847 896 848 899 849 901 850 904 851 906 850"/><path d="M1078 898 1081 899 1083 900 1086 899 1088 897 1091 896 1093 895 1096 895 1098 896"/><path d="M987 895 990 896 992 897 995 898 997 899 1000 898 1002 896 1005 895 1007 895 1010 896"/><path d="M862 879 865 880 867 881 870 883 872 884 875 883 877 882 880 881 882 881 885 882 887 884 890 885 892 886"/><path d="M922 913 925 914 927 915 930 916 932 917 935 917 937 916 940 914 942 914 945 914 947 915 950 917 952 918 955 917 957 916"/><path d="M840 879 842 879 845 880 847 882 850 884 852 884 855 883 857 882 860 881 862 881 865 883 867 884 870 886 872 886 875 885 877 884 880 883"/><path d="M1071 900 1074 899 1076 897 1079 896 1081 897 1084 898 1086 899 1089 899 1091 898 1094 896 1096 894 1099 894 1101 894 1104 895 1106 896 1109 896 1111 895"/><path d="M909 890 911 890 914 889 916 887 919 886 921 885 924 886 926 887 929 888 931 889 934 888 936 886 939 884 941 884"/><path d="M1080 872 1082 873 1085 872 1087 870 1090 869 1092 869 1095 870 1097 872 1100 873 1102 873 1105 872 1107 871"/><path d="M1097 873 1099 873 1102 872 1104 870 1107 869 1109 868 1112 868 1114 869 1117 870"/><path d="M959 849 962 848 964 848 967 849 969 850 972 851 974 850 977 848 979 847 982 845 984 845"/><path d="M1080 916 1083 914 1085 912 1088 912 1090 913 1093 914 1095 915 1098 915 1100 913 1103 911 1105 910 1108 910 1110 911 1113 912 1115 913 1118 912 1120 911 1123 909"/><path d="M830 830 832 829 835 829 837 830 840 832 842 833 845 834 847 833 850 832 852 831 855 831"/><path d="M1082 853 1084 853 1087 853 1089 854 1092 856 1094 857 1097 856 1099 855 1102 854 1104 853 1107 853 1109 855 1112 856 1114 857 1117 857 1119 855"/><path d="M1089 872 1091 873 1094 873 1096 873 1099 871 1101 870 1104 870 1106 872 1109 873 1111 875 1114 875 1116 874 1119 873 1121 872"/><path d="M921 870 924 868 926 868 929 869 931 870 934 871 936 870 939 869 941 867"/></g><g fill="none" stroke="#5a3a88" stroke-linecap="round" opacity="0.7"><path d="M883 829l1.8 .2M820 886l1.6 -.5M995 891l1.9 .6M1030 839l1.5 -1.0M1018 893l2 1.1M927 878l1.7 1.0M915 836l1.9 1.0M1008 903l2 1.4M1058 910l2.5 .2M1050 835l1.5 -.9M1057 915l1.4 .5M899 873l2.1 -1.3M1064 913l1.6 1.1M828 891l1.5 .9M946 824l2.2 .3M938 863l1.6 -.4M1091 825l1.7 -1.2M1007 910l1.7 -.1M920 839l1.7 -.3M977 866l1.7 -.6M911 850l2.5 -.1M1043 886l1.6 -.4M1043 848l2.3 -.4M817 905l2 1.4M1026 885l2.2 .1M1003 825l1.6 1.0M887 890l1.9 .7M967 881l1.5 .6M1076 880l2 -1.4M892 826l1.9 -.1M1091 889l1.5 .0M915 849l2.1 -.4M851 831l2.2 -.3M921 841l2.3 -.3M1042 844l1.9 -.3M956 859l1.9 .4M1069 877l1.7 -.1M851 880l2 1.0M1039 853l2.3 .2M823 886l1.4 .6M1032 823l2 -1.0M975 884l1.6 -.6M886 843l2.3 -.3M1010 870l2.2 .0M952 849l2.3 -1.0M843 868l2.5 .1M941 863l1.6 -.5M872 837l1.7 -.6M1011 908l1.7 .4M932 889l2 -.6M907 873l1.3 .9M951 839l1.8 .8M1047 831l1.9 .5M1023 910l1.9 -.6M882 862l1.9 1.2M869 859l2.1 1.1M888 891l1.8 -.2M842 885l1.7 -.3M939 818l1.6 .2M894 852l1.4 .7M1034 870l1.7 .4M1000 879l1.6 .5M1087 854l1.8 -.9M1018 855l1.9 -.8M998 845l1.4 .7M909 863l2.1 .1M835 862l2.3 .1M969 873l1.7 .7M1036 865l1.5 -.6M933 867l2.3 .7M965 834l1.6 -.5M972 836l1.8 1.2M975 910l2.2 -1.1M968 903l1.6 .8M1043 904l2.4 -.2M1013 828l1.9 .3M867 898l2.2 -.4M921 826l2 -.7M824 911l1.5 -.8M1046 846l1.6 -.9M1008 912l1.7 -1.2M831 851l2.3 -.9M899 888l1.5 -.2M1024 866l2.4 .2M1019 841l2.2 -.3M948 871l2 -1.0M883 886l1.9 1.0M1069 866l1.8 -.3M839 850l1.4 -.9M859 849l1.7 -1.2M881 911l1.7 .1M934 874l2 .7M823 910l1.5 .8M879 884l2.1 .4M1031 892l1.8 .2M1051 839l2.2 -.8M836 831l2.3 -.2M999 841l1.6 -.3M1078 863l2 1.4M988 904l2 -.2M1097 901l1.5 .9M913 867l2.2 -.6M859 871l1.9 1.2M1092 893l1.7 -.7M964 828l1.7 .8M1066 880l1.7 -.5M853 827l1.9 -.8M831 830l1.5 -.3M886 879l1.8 -.5M993 854l2.3 .9M1030 876l1.8 .8M997 897l2.5 -.1M1003 903l2.4 .3M933 824l1.5 -.6M1009 916l2 -.2M905 824l1.7 .8M1049 904l1.8 -1.2M978 830l1.9 -.5M1016 900l1.5 .3M921 823l2.1 1.3M924 884l1.7 -.5M1084 906l1.8 -.2M964 867l2.4 .4M883 908l1.4 .7M866 915l2.2 .4M869 883l2.1 -1.3M1087 828l1.6 -.9M926 915l1.6 -.8M916 907l1.9 .5M913 868l2.3 .2M947 828l1.9 .1M983 904l2.2 -.9M1088 886l1.5 -.5M820 891l1.9 1.3M1009 826l2 -1.1M857 840l1.8 .0M1059 885l1.5 1.0M957 865l1.8 .3M896 911l1.9 -.1" stroke-width="2.0"/><path d="M973 844l2.5 .0M938 908l2.4 -.8M1070 857l2.2 1.2M936 894l2.5 -.4M1005 885l2.5 .2M839 821l2.6 -.3M1042 896l2.5 -.4M1057 840l2.4 .7M1042 902l2.1 -1.4M902 842l2.2 -1.2M910 856l2.3 -1.0M1083 898l2.5 -.0M1092 876l2.2 -1.4M1080 917l2.5 -.8M917 839l2.2 1.3M965 893l2.6 .1" stroke-width="3.0"/><path d="M933 836l1.4 .2M1015 867l1.2 -.7M1070 835l1.4 .4M993 891l1.4 -.4M967 858l1.5 -.1M845 838l1.3 -.6M1027 905l1.4 -.3M980 854l1.4 -.3M986 864l1.3 .5M871 826l1.4 .0M1039 844l1.4 -.2M963 847l1.4 .4M887 913l1.4 -.5M896 910l1.4 -.4M916 901l1.4 -.5" stroke-width="1.0"/></g><ellipse cx="840" cy="857" rx="18" ry="37" fill="#b07ac0" stroke="#d39ad0" stroke-width="1.4"/><ellipse cx="876" cy="860" rx="16" ry="40" fill="#b07ac0" stroke="#d39ad0" stroke-width="1.4"/><ellipse cx="938" cy="885" rx="34" ry="40" fill="#b07ac0" stroke="#d39ad0" stroke-width="1.4"/><ellipse cx="1002" cy="850" rx="25" ry="32" fill="#b07ac0" stroke="#d39ad0" stroke-width="1.4"/><ellipse cx="1068" cy="895" rx="22" ry="30" fill="#b07ac0" stroke="#d39ad0" stroke-width="1.4"/><ellipse cx="1092" cy="850" rx="10" ry="32" fill="#b07ac0" stroke="#d39ad0" stroke-width="1.4"/><g fill="none" stroke="#5a3588" stroke-linecap="round" opacity="0.6"><path d="M1075 879l.6 -.2M1050 880l.6 -.2M987 854l.5 -.2M1080 891l.6 -.1M1065 888l.6 -.1M830 845l.5 .0M917 868l.5 .0M829 858l.6 .4M1089 873l.5 .3M924 910l.4 -.3M882 892l.4 -.2M876 892l.6 .3M1001 856l.4 .2M996 834l.6 .3M1068 873l.6 .0M849 844l.7 .0M939 890l.6 -.3M936 878l.4 .2M954 862l.5 -.3M886 887l.5 .2M1094 845l.6 .1M948 900l.5 .2M930 905l.5 .1M1084 884l.6 .2M850 850l.6 .2M869 828l.6 .1M919 908l.6 -.2M1068 874l.4 -.1M863 877l.6 .0M1014 865l.5 .3M927 856l.7 -.1M1056 883l.5 .0M951 863l.4 .2M1097 860l.6 .4M924 888l.7 .1M847 844l.7 -.2M1052 896l.6 .3M1002 859l.6 .0M840 862l.6 .0M918 896l.6 .2M933 912l.6 .3M886 887l.4 .2M838 887l.5 .1M825 872l.4 -.2M1085 856l.6 -.4M919 867l.6 .2M919 861l.7 -.3M871 883l.5 .3M1091 826l.5 .1M986 840l.5 -.4M940 879l.4 -.2M1082 875l.6 .0M951 891l.5 -.0M1087 895l.5 -.1M1055 908l.6 -.2M1075 902l.6 -.4M843 848l.6 .1M846 871l.5 -.1M1086 856l.5 .3M1060 878l.5 .2M941 865l.4 -.2M955 905l.5 .2M928 900l.4 .2M1065 913l.6 .2M939 862l.7 .1M994 854l.5 -.2M952 893l.5 -.1M935 887l.4 .2M1092 873l.6 .4M1070 867l.6 -.2M829 882l.6 -.3M941 863l.6 -.2M979 861l.7 -.1M1062 887l.6 .2M1047 901l.4 -.2M1088 857l.5 .0M1000 842l.4 .2M870 881l.6 -.2M863 872l.4 -.3M876 865l.6 .0M909 900l.6 .2M1002 868l.6 .3M986 842l.5 .0M950 915l.6 .2M919 877l.4 .1M957 914l.6 -.4M1048 894l.6 -.2M1024 862l.6 -.3M834 842l.5 -.2M943 894l.4 .2M922 888l.5 -.2M988 839l.6 .4M1000 821l.6 -.1M1059 896l.6 .2M852 850l.5 .2M884 877l.5 .1M1077 883l.6 -.4M940 865l.6 -.2M837 835l.6 -.3M958 913l.5 .3M1004 877l.7 -.1M917 861l.4 .3M921 893l.6 -.2M885 868l.5 -.2M850 863l.6 .2M994 876l.5 .3M954 865l.5 -.0M939 914l.5 .2M995 826l.6 .1M1089 870l.5 .1M1053 894l.5 -.2M927 864l.5 -.1M1087 865l.5 .3M940 866l.7 .1M988 867l.4 .2M845 880l.5 .3M1012 833l.6 .0M1098 857l.6 -.0M835 862l.5 .0M853 852l.6 -.0M921 891l.6 -.4M937 912l.6 .3M1009 875l.6 .1M1081 907l.7 .1M927 908l.6 .2M1089 857l.5 .0M937 872l.5 .1M1054 916l.6 .1M843 861l.5 .2M997 823l.5 -.1M1098 831l.6 -.3M832 836l.6 -.2M881 893l.6 .2M924 855l.7 -.0M945 859l.6 -.1M960 887l.5 .2M998 875l.6 -.2M939 906l.7 .2M871 835l.5 .2M959 907l.4 -.2M1060 902l.6 .0M947 875l.6 -.3M919 892l.7 -.2M867 886l.5 .1M841 822l.6 -.0M1025 853l.6 .2M1069 888l.7 -.1M1056 904l.6 .3M831 836l.6 -.2M843 841l.5 -.2M885 834l.6 -.1M868 882l.6 -.1M1090 828l.5 -.0M855 854l.6 -.1M836 877l.4 .3M983 839l.5 .2M868 868l.5 .1M846 853l.4 -.3M889 867l.6 .2M879 833l.6 -.0M870 883l.6 -.2M871 880l.5 .1M942 873l.6 -.3M927 900l.6 .1M870 843l.5 -.2M829 851l.7 .2M997 836l.5 .2M879 882l.6 .0M1077 884l.4 .3M866 860l.5 -.3M947 897l.4 .2M838 873l.5 .2M960 895l.6 -.1M869 832l.7 .0M886 838l.6 -.1M946 859l.5 .2M828 843l.6 .1M1072 890l.7 -.2M835 874l.4 -.2M1020 859l.6 -.3M957 855l.5 -.1M912 904l.6 -.3M1073 901l.6 -.2M1056 884l.4 .1M1084 904l.5 -.0M911 883l.6 .3M868 837l.4 -.3M880 889l.6 .3M880 846l.4 .2M879 837l.5 -.3M1013 829l.6 -.3M930 859l.5 -.1M962 888l.5 .2M960 903l.5 -.3M1019 837l.7 -.0M947 852l.5 -.2M1073 916l.7 -.0M1061 893l.5 -.1M835 873l.7 -.0M884 888l.6 -.2M872 845l.5 .3M836 877l.5 -.1M1004 849l.5 -.2M964 875l.4 -.3M1018 868l.7 -.0M1074 909l.6 .2M1020 861l.5 .0M1009 821l.5 .0M982 854l.5 .3M838 868l.6 .1M984 833l.7 -.1M1056 912l.4 .2M927 862l.6 -.3M967 883l.5 .0M1011 834l.6 .1M833 834l.5 -.1M1004 872l.6 -.3M988 837l.5 .0M840 840l.6 .3M835 835l.5 .0M931 893l.4 -.2M999 869l.6 .3M990 848l.7 -.0M887 851l.4 .2M845 847l.5 .2M886 885l.6 .4M847 835l.5 -.3M1053 875l.6 -.1M961 890l.6 .2M1076 887l.6 .4M985 862l.5 .2M993 854l.5 .2M850 860l.5 .1M839 876l.5 -.2M997 826l.6 .1M832 850l.6 .1M908 880l.6 -.0M1010 833l.6 .3M1024 841l.5 .3M830 864l.6 .1M843 849l.5 -.1" stroke-width="2.0"/><path d="M1090 853l.4 -.2M854 870l.4 .2M1017 839l.4 .2M1057 887l.4 -.0M850 848l.4 .2M962 873l.4 .1M845 835l.4 .2M1015 849l.4 .0M928 903l.4 -.0M843 876l.4 .1M918 895l.4 .2M1000 848l.4 .2M1016 835l.4 -.2M1013 824l.4 .2M879 855l.4 -.1M847 839l.4 -.1M932 894l.4 -.1M1000 832l.3 -.2M996 866l.4 .1" stroke-width="1.0"/></g><path d="M815.0,779.5C820.0,780.2 833.5,781.5 845.3,783.5C857.1,785.5 873.5,789.6 885.6,791.6C897.7,793.6 909.7,797.0 917.8,795.6C925.9,794.2 928.6,786.9 934.0,783.5C939.4,780.1 940.2,777.2 950.0,775.4C959.8,773.6 979.1,772.7 993.0,772.7C1006.9,772.7 1023.0,773.6 1033.3,775.4C1043.6,777.2 1049.2,780.8 1054.8,783.5C1060.4,786.2 1063.3,791.6 1066.9,791.6C1070.5,791.6 1070.6,786.3 1076.3,783.5C1082.0,780.7 1096.9,776.4 1101.0,775.0L1101.0,821.0C1092.5,821.0 1066.8,821.0 1050.0,821.0C1033.2,821.0 1016.7,821.7 1000.0,821.0C983.3,820.3 966.7,817.0 950.0,817.0C933.3,817.0 916.7,820.3 900.0,821.0C883.3,821.7 864.2,821.2 850.0,821.0C835.8,820.8 820.8,820.2 815.0,820.0Z" fill="#b776c3"/><g fill="none" stroke="#6e3288" stroke-linecap="round" opacity="0.7"><path d="M825 814l.8 .1M900 811l.7 .3M1091 797l.7 .4M986 818l.8 -.1M999 807l.6 -.4M1070 819l.7 -.4M1016 810l.7 .3M1018 783l.7 -.2M844 816l.8 .0M966 799l.7 -.2M935 804l.7 -.3M1052 787l.7 -.4M844 791l.7 -.4M866 803l.8 -.1M862 801l.7 -.4M944 784l.8 -.0M1093 786l.7 .3M1016 800l.8 .1M987 782l.6 .4M937 799l.7 .4M867 803l.7 -.2M835 787l.7 -.2M990 785l.8 -.1M988 788l.7 -.2M1095 812l.8 .0M941 788l.7 -.4M1032 785l.7 -.2M843 790l.7 .3M819 816l.6 .4M994 799l.8 .0M976 813l.8 .2M960 781l.7 -.4M1068 805l.7 -.3M1028 810l.7 .2M1083 806l.8 -.1M996 782l.7 .4M954 791l.7 .2M831 811l.7 .3M1030 794l.8 .1M984 798l.7 -.4M918 815l.8 -.0M938 804l.7 .2M853 816l.8 -.1M1052 822l.8 .1M894 798l.6 .4M840 793l.7 .2M971 787l.7 -.4M1016 809l.7 -.3" stroke-width="3.0"/><path d="M1047 817l.6 -.0M842 790l.6 .3M970 784l.5 -.2M945 805l.4 .2M826 819l.7 -.3M847 808l.5 .2M1092 811l.6 .2M952 780l.5 -.3M957 789l.5 -.1M896 818l.7 .2M1081 816l.7 .2M1004 805l.6 .2M948 797l.7 .1M817 802l.6 -.1M970 789l.6 .3M1047 805l.7 .1M988 792l.6 -.4M923 807l.5 -.1M1093 820l.6 -.1M1094 819l.6 -.0M988 816l.7 .1M1031 782l.6 -.1M947 794l.7 .1M925 800l.7 -.3M1012 807l.5 .2M957 788l.5 .1M847 797l.4 -.3M883 796l.6 -.3M1064 817l.5 .2M993 792l.5 -.1M990 791l.5 -.3M1043 808l.7 .0M1025 800l.4 -.3M1067 817l.6 -.4M991 807l.5 -.3M922 799l.7 -.3M883 817l.4 .2M963 792l.4 -.3M889 803l.5 -.3M903 811l.7 -.2M853 793l.6 .4M938 794l.5 -.3M1074 813l.6 -.0M1046 805l.4 .3M975 793l.7 -.2M1051 819l.5 -.2M1041 786l.6 .3M869 799l.5 -.3M841 793l.6 .2M1018 796l.7 -.3M1022 804l.6 .0M834 817l.6 .4M1054 816l.5 -.2M922 812l.7 .2M840 802l.6 -.1M952 792l.6 .3M831 805l.5 .1M843 793l.6 -.4M1032 794l.5 -.1M946 798l.5 -.3M941 815l.5 -.1M864 812l.5 -.1M869 807l.5 .2M998 796l.6 -.0M833 821l.5 -.1M901 811l.6 .3M856 792l.6 .1M875 812l.4 -.2M1063 809l.7 -.3M1049 820l.6 -.4M1071 814l.5 -.2M856 819l.7 -.0M1003 805l.7 .3M1034 789l.5 .1M1019 803l.6 -.4M1069 822l.5 -.1M976 780l.5 .0M1081 814l.5 .3M889 815l.7 .1M842 810l.6 .3M997 818l.6 .4M1007 790l.7 .0M968 816l.5 -.2M1000 798l.6 -.2M1026 821l.6 -.1M1024 796l.6 .2M946 809l.7 -.0M835 790l.5 -.1M818 807l.5 .2M930 811l.5 -.3M1040 804l.7 .1M1053 794l.5 .1M859 806l.4 -.3M1030 816l.7 -.0M937 809l.7 -.2M1022 802l.5 .2M1036 784l.6 -.3M961 815l.6 -.3M895 811l.5 .1M1009 813l.5 .2M1048 821l.6 .0M990 802l.5 -.3M866 810l.6 -.4M826 812l.5 -.1M867 815l.6 .1M1036 783l.6 .1M830 820l.6 .0M879 812l.4 -.2M1020 819l.5 -.1M890 812l.4 -.3M1086 818l.7 .2M984 786l.6 -.1M914 816l.6 .3M957 781l.5 -.1M1069 809l.6 -.0M1096 786l.6 .4M858 818l.6 .2M907 820l.5 -.2M951 787l.6 -.1M846 809l.7 .0M1069 806l.5 -.1M886 806l.5 -.2M1007 789l.5 -.1M1057 817l.4 -.2M831 806l.7 .1M868 810l.7 .4M1060 817l.7 -.2M962 796l.6 -.1M990 816l.7 -.1M915 803l.5 .2M830 813l.5 .1M958 818l.7 -.0M1083 808l.6 .4M871 805l.4 -.3M1010 788l.5 -.3M918 808l.6 .3M1024 786l.5 -.1M957 805l.6 -.1M1032 799l.5 .2M1023 808l.6 -.2M987 820l.7 .1M1009 799l.5 -.2M1001 819l.7 -.2M1008 806l.6 -.4M1080 787l.7 .1M1096 790l.5 -.3M817 796l.6 -.0M1007 785l.7 .0M1022 799l.6 .1M970 807l.7 -.3M869 807l.5 -.2M1078 815l.7 -.0M1030 795l.7 .2M892 804l.6 .1M818 814l.6 .4M1039 813l.5 .3M837 789l.7 .1M936 797l.5 .3M887 797l.6 -.1M872 809l.7 .1M901 815l.6 .1M1064 796l.6 .0M890 819l.6 -.2M1025 795l.5 .2M854 809l.6 -.3M1018 809l.6 .3M1009 807l.6 -.2M1021 807l.6 -.1M948 787l.5 .3M993 797l.6 .0M1041 799l.5 .2M1068 819l.6 .4M971 779l.5 .3M876 801l.5 -.2M1031 789l.7 -.1M904 809l.7 -.3M961 794l.5 -.3M1037 822l.7 .2M902 798l.7 -.2M1054 819l.5 .3M955 812l.7 .1M872 819l.5 -.2M1016 793l.6 -.3M892 803l.4 -.2M998 790l.7 -.2M1031 781l.6 -.3M971 791l.6 -.2M837 808l.5 -.2M952 787l.6 .1M877 799l.5 -.3M960 795l.6 .1M958 802l.6 -.2M1009 806l.7 -.1M996 816l.6 .3M1061 815l.6 -.2M1051 815l.6 .3M940 790l.5 .2M872 797l.6 .2M1023 780l.5 -.2M1095 788l.5 -.2M843 796l.7 .1M896 801l.5 -.1M1049 799l.6 -.2M1017 804l.6 .2M832 791l.7 .0M1089 803l.5 -.1M826 813l.6 -.4M955 807l.5 .0M970 789l.5 -.3M1085 812l.5 -.3M997 785l.5 -.0M1017 790l.6 -.2M979 815l.6 .2M942 801l.6 -.3M843 798l.7 .2M1048 810l.7 .2M1063 821l.5 .1M1085 786l.6 .2M1091 822l.7 .3M976 805l.7 -.0M856 791l.7 .1M871 814l.6 -.0M994 781l.6 .2M1092 802l.6 -.1M845 821l.6 .1M967 799l.6 -.4M889 811l.5 .2M1092 815l.7 .3M1077 813l.5 -.3M929 798l.7 .2M1088 790l.6 .4M1003 816l.5 .0M832 805l.5 .2M1011 804l.6 .3M1037 798l.7 -.0M870 797l.6 .1M1013 822l.5 .2M1091 793l.7 -.1M1053 818l.6 -.2M1005 800l.7 -.1M867 793l.6 .3M1024 796l.6 -.2M1098 787l.6 -.4M950 804l.5 -.3M999 792l.5 -.1M1024 806l.4 -.3M825 811l.6 -.1M846 799l.6 -.2M840 789l.6 .3M819 809l.7 .1M888 821l.6 .1M1071 815l.5 -.2M885 808l.7 .3M898 800l.6 .3M846 788l.6 .1M1080 809l.6 .0M1017 816l.6 .3M1037 791l.5 -.2M1095 809l.5 .2M933 805l.7 .1M872 796l.6 -.2M1052 791l.6 -.3M1081 807l.6 -.2M993 797l.5 -.1M1082 808l.5 .3M953 805l.7 .1M893 809l.5 -.3M1083 805l.6 -.3M976 795l.6 -.0M876 805l.6 -.0M988 821l.7 -.1M983 820l.5 -.1M941 814l.5 -.2M1081 801l.6 -.2M979 784l.6 -.3M1066 820l.5 -.2M942 789l.5 .1M1067 802l.6 .3M958 801l.6 -.3M835 805l.6 .4M1025 817l.6 -.2M1062 821l.7 -.2M986 818l.7 .1M1023 815l.7 .4M1009 797l.5 .3M985 803l.5 -.1M955 804l.7 -.2M989 800l.7 .0M990 797l.5 .1M962 787l.6 -.1M948 809l.7 -.1M1021 802l.5 -.3M957 817l.5 -.1M960 783l.6 .3M1039 811l.7 -.3M1027 810l.6 -.1M1017 801l.4 -.3M831 805l.7 .1M971 812l.6 -.0M1038 788l.5 -.2M995 790l.5 -.2M1068 800l.6 .3M864 809l.5 .3M946 813l.5 -.2M1096 790l.7 -.0M950 806l.5 .0M995 778l.7 .1M819 789l.6 .3M846 822l.7 -.1M1075 816l.7 -.2M1071 812l.6 -.1M897 800l.5 -.1M1053 814l.5 .2M983 810l.5 -.3M927 796l.4 .3M907 821l.6 -.2M1021 810l.7 .2M1005 817l.7 -.1M1000 816l.6 -.1M862 816l.5 .0M956 803l.5 .2M1089 795l.6 .1M958 815l.6 .1M886 808l.6 -.1M976 783l.6 .4M824 788l.6 -.3M820 787l.6 .3M996 819l.5 -.1M976 782l.7 -.2M952 779l.7 .2M1002 789l.5 -.1M1022 820l.6 -.1M1007 789l.6 .2M956 803l.6 -.2M824 809l.6 -.2M1026 802l.7 -.0M833 791l.5 -.3M1018 794l.7 -.0M1081 798l.4 -.3M968 796l.6 .1M826 814l.7 .2M949 809l.4 .2M1060 812l.7 -.2M1035 810l.7 .2M839 810l.5 .3M951 817l.5 .1M1018 802l.5 -.1M952 802l.5 -.1M1091 822l.6 .1M881 810l.6 .0M821 792l.6 -.2M853 816l.5 -.2M1076 802l.5 .1M1032 817l.7 -.3M989 817l.6 -.2M942 791l.5 -.3M1027 789l.6 -.2M949 792l.4 .3M874 807l.5 .3M944 798l.5 .0M1094 817l.6 .3M1000 790l.7 -.1M957 813l.5 -.1M1029 787l.6 -.1M1049 816l.6 .1M850 791l.6 .1M1033 814l.6 -.4M1035 821l.4 .3M1053 822l.6 .2M825 817l.5 .3M831 817l.7 -.2M1008 798l.5 -.3M973 789l.5 -.2M1061 797l.6 -.3M1008 808l.6 .4M858 809l.6 .1M988 788l.5 -.0M960 810l.5 -.3M980 791l.7 .3M825 807l.5 .2M833 803l.6 -.4M1004 817l.5 .1M1061 804l.5 -.0M971 782l.6 -.4M1016 794l.7 -.2M893 800l.5 -.2M1010 800l.7 .3M927 805l.4 .3M1025 785l.6 .2M986 777l.5 .1M1053 810l.5 -.3M842 806l.6 -.0M984 811l.7 -.2M1024 817l.6 .1M883 809l.6 -.1M947 814l.7 .1M950 805l.6 .1M997 800l.7 -.3M1023 802l.7 -.2M1084 792l.5 -.1M855 794l.7 .1M1094 796l.6 -.2M1082 804l.6 .2M1046 821l.7 .2M914 819l.6 .0M1007 804l.7 .3M864 795l.6 -.4M1025 819l.6 .2M990 811l.5 -.2M913 802l.5 .2M870 821l.7 -.1M1012 783l.5 -.3M1002 821l.6 .2M848 791l.5 .1M1080 812l.6 -.0M1041 807l.5 .2M841 801l.7 .0M1011 804l.7 -.3M918 813l.6 .3M953 809l.6 .4M886 801l.7 .3M1041 813l.6 .3M833 815l.7 .2M1032 791l.5 .3M1022 792l.7 -.1M978 809l.4 -.2M987 781l.7 -.2M823 815l.6 .1M1064 808l.6 .1M933 813l.6 .2M860 802l.7 -.0M854 818l.5 .1" stroke-width="2.0"/></g><ellipse cx="841" cy="859" rx="4.5" ry="8" fill="#f4d8e8" stroke="#d06aa0" stroke-width="1.3"/><ellipse cx="872" cy="855" rx="3" ry="4" fill="#f4d8e8" stroke="#d06aa0" stroke-width="1.3"/><ellipse cx="1002.4" cy="837.2" rx="4.5" ry="6" fill="#f4d8e8" stroke="#d06aa0" stroke-width="1.3"/><ellipse cx="1060" cy="905" rx="3" ry="3" fill="#f4d8e8" stroke="#d06aa0" stroke-width="1.3"/><path d="M815.0,778.0C820.0,778.7 833.5,780.0 845.3,782.0C857.1,784.0 873.5,788.1 885.6,790.1C897.7,792.1 909.7,795.5 917.8,794.1C925.9,792.8 928.6,785.4 934.0,782.0C939.4,778.6 940.2,775.7 950.0,773.9C959.8,772.1 979.1,771.2 993.0,771.2C1006.9,771.2 1023.0,772.1 1033.3,773.9C1043.6,775.7 1049.2,779.3 1054.8,782.0C1060.4,784.7 1063.3,790.1 1066.9,790.1C1070.5,790.1 1070.6,784.8 1076.3,782.0C1082.0,779.2 1096.9,774.9 1101.0,773.5" fill="none" stroke="#e07fb0" stroke-width="3"/><path d="M836,773 C845,768 850,770 852,775 L840,777Z" fill="#d8548f"/><path d="M920,759 C940,757 960,758 980,762 L978,764 C960,761 940,761 922,762Z" fill="#e59abf"/><path d="M880,790 C900,780 915,775 925,778 L923,781 C913,780 900,786 885,793Z" fill="#e084b4" opacity="0.8"/><ellipse cx="870" cy="727.5" rx="1.6" ry="1.3" fill="#6a5a6a" /></g><rect x="877" y="885.6" width="161.70000000000005" height="28.699999999999932" fill="#fff"/><text x="884.53" y="905.00" font-family="Liberation Sans" font-size="17.20" font-weight="bold" font-style="normal" fill="#111" textLength="146.28" lengthAdjust="spacingAndGlyphs" >Regular Diet + IMQ</text><line x1="1073" y1="908.2" x2="1094" y2="908.2" stroke="#222" stroke-width="0.9"/><text x="1073.28" y="906.00" font-family="Liberation Sans" font-size="6.20" font-weight="bold" font-style="normal" fill="#222" textLength="20.65" lengthAdjust="spacingAndGlyphs" >50 µm</text></g><clipPath id="clip3"><rect x="526.3" y="925.7" width="282.30000000000007" height="196.0999999999999"/></clipPath><g clip-path="url(#clip3)"><rect x="526.3" y="925.7" width="282.30000000000007" height="196.0999999999999" fill="#efeff1"/><g filter="url(#hblur)"><path d="M524.0,993.5C531.5,991.4 552.3,984.3 568.7,980.8C585.1,977.3 606.3,974.9 622.4,972.7C638.5,970.5 655.5,968.1 665.4,967.4C675.2,966.7 675.2,969.2 681.5,968.7C687.8,968.2 695.4,966.3 703.0,964.7C710.6,963.1 718.2,961.3 727.2,959.3C736.2,957.3 742.7,954.4 756.7,952.6C770.7,950.8 802.0,949.1 811.0,948.4L811.6,1123.8L523.3,1123.8Z" fill="#e8b3dd"/><g fill="none" stroke="#f4e4f2" stroke-width="1.6" opacity="0.5" stroke-linecap="round"><path d="M627 1083 629 1081 632 1080 634 1081 637 1083 639 1084 642 1083 644 1080 647 1078 649 1079"/><path d="M641 1032 644 1034 646 1036 649 1036 651 1034 654 1032 656 1031 659 1032 661 1034 664 1035 666 1034 669 1032 671 1030 674 1030"/><path d="M698 1092 700 1094 703 1096 705 1097 708 1096 710 1094 713 1093"/><path d="M729 1013 732 1014 734 1016 737 1017 739 1016 742 1013 744 1011 747 1011 749 1013 752 1014 754 1014 757 1012 759 1009 762 1008"/><path d="M791 1087 794 1089 796 1089 799 1088 801 1085 804 1083 806 1084 809 1086"/><path d="M791 1040 793 1042 796 1044 798 1045 801 1043 803 1041"/><path d="M593 1107 596 1108 598 1106 601 1104 603 1102 606 1102 608 1104 611 1106 613 1105"/><path d="M796 1072 798 1070 801 1071 803 1073 806 1075 808 1074 811 1072 813 1070 816 1069 818 1071 821 1073"/><path d="M779 985 782 984 784 985 787 988 789 990 792 990 794 988"/><path d="M799 1001 802 998 804 997 807 998 809 1000 812 1001 814 1000 817 997"/><path d="M596 1079 599 1078 601 1079 604 1081 606 1082 609 1081 611 1078 614 1077 616 1077 619 1079 621 1081 624 1081 626 1078 629 1076"/><path d="M793 1044 795 1042 798 1041 800 1041 803 1044 805 1046 808 1046 810 1044 813 1042 815 1042"/><path d="M768 1051 770 1051 773 1052 775 1054 778 1054 780 1052 783 1050 785 1048 788 1049 790 1051 793 1052 795 1051 798 1049"/><path d="M632 1089 634 1091 637 1093 639 1092 642 1090 644 1088 647 1088 649 1090 652 1092 654 1092"/><path d="M740 1002 742 1001 745 1003 747 1005 750 1006 752 1005 755 1002 757 1001"/><path d="M613 1080 616 1082 618 1083 621 1082 623 1080 626 1078 628 1079 631 1081 633 1083"/><path d="M631 1114 634 1112 636 1110 639 1111 641 1113 644 1115 646 1115 649 1114 651 1111 654 1111"/><path d="M692 1018 694 1016 697 1014 699 1014 702 1016 704 1018 707 1019 709 1018 712 1016"/><path d="M568 1083 571 1080 573 1078 576 1077 578 1079 581 1081 583 1081 586 1080"/><path d="M518 1116 521 1115 523 1112 526 1110 528 1111 531 1113"/><path d="M587 1094 590 1096 592 1097 595 1096 597 1093 600 1092"/><path d="M651 1029 653 1029 656 1027 658 1025 661 1024 663 1026 666 1028 668 1029 671 1028 673 1026 676 1024 678 1025 681 1027"/><path d="M563 1061 566 1063 568 1065 571 1065 573 1063 576 1061 578 1061"/><path d="M805 1106 808 1108 810 1108 813 1106 815 1103 818 1103 820 1105 823 1107 825 1108 828 1106 830 1104"/><path d="M710 1033 712 1033 715 1031 717 1029 720 1028 722 1029 725 1031 727 1032 730 1031 732 1028 735 1026"/><path d="M653 1061 655 1062 658 1065 660 1065 663 1064 665 1062"/><path d="M605 1040 607 1040 610 1038 612 1036 615 1036 617 1038 620 1040 622 1041 625 1040 627 1038 630 1037"/><path d="M759 987 761 989 764 991 766 992 769 991 771 989 774 988 776 990 779 992 781 994 784 994 786 992 789 990 791 990"/><path d="M674 1041 676 1040 679 1040 681 1042 684 1044"/><path d="M569 1049 572 1047 574 1045 577 1045 579 1048 582 1050 584 1050 587 1049 589 1047 592 1046 594 1048 597 1050 599 1052"/><path d="M537 1084 540 1086 542 1087 545 1085 547 1083 550 1081 552 1082 555 1084 557 1086"/><path d="M537 1099 539 1101 542 1101 544 1099 547 1097 549 1096 552 1097 554 1099 557 1100 559 1099 562 1097 564 1095"/><path d="M768 1056 771 1056 773 1054 776 1052 778 1051 781 1053 783 1055 786 1056"/><path d="M708 1026 710 1025 713 1023 715 1021 718 1021 720 1023 723 1025 725 1025 728 1023 730 1021 733 1020 735 1021 738 1024 740 1025"/><path d="M753 1083 756 1081 758 1079 761 1080 763 1082 766 1084 768 1084 771 1082 773 1080 776 1080 778 1081 781 1084"/><path d="M734 1105 736 1103 739 1100 741 1099 744 1100 746 1102"/><path d="M562 1109 564 1109 567 1110 569 1113 572 1113 574 1112 577 1110 579 1108 582 1109 584 1111 587 1113"/><path d="M695 1027 698 1026 700 1023 703 1021 705 1022 708 1024 710 1025"/><path d="M599 1026 601 1026 604 1024 606 1022 609 1021 611 1022 614 1024 616 1025 619 1024 621 1021 624 1020"/><path d="M724 1041 726 1039 729 1038 731 1039 734 1042 736 1043"/><path d="M553 1042 555 1044 558 1043 560 1041 563 1039 565 1039 568 1040 570 1042 573 1043 575 1041 578 1039 580 1037 583 1038"/><path d="M702 990 705 993 707 994 710 994 712 992 715 990"/><path d="M588 1041 590 1042 593 1042 595 1040 598 1038 600 1036 603 1038 605 1040 608 1040 610 1039 613 1036 615 1034"/><path d="M683 1087 685 1086 688 1084 690 1083 693 1084 695 1087 698 1089"/><path d="M696 1101 698 1103 701 1105 703 1105 706 1104 708 1102 711 1102"/><path d="M774 1080 776 1080 779 1082 781 1084 784 1085 786 1084 789 1082 791 1081 794 1082 796 1084 799 1086 801 1086 804 1084"/><path d="M776 1049 778 1049 781 1051 783 1052 786 1052 788 1050 791 1048 793 1047 796 1048 798 1050 801 1051"/><path d="M742 1108 745 1106 747 1104 750 1103 752 1105 755 1107 757 1107 760 1105 762 1103 765 1102 767 1103 770 1105 772 1106"/><path d="M763 1120 766 1119 768 1121 771 1123 773 1125 776 1124 778 1122 781 1121 783 1122"/><path d="M673 1051 675 1049 678 1049 680 1052 683 1054 685 1055 688 1054 690 1052 693 1051 695 1052 698 1055 700 1057 703 1056"/><path d="M517 1056 519 1054 522 1053 524 1055 527 1057 529 1058 532 1056 534 1054 537 1052 539 1053 542 1055 544 1057 547 1056"/><path d="M773 1062 776 1064 778 1064 781 1062 783 1060 786 1060"/><path d="M514 1055 516 1057 519 1058 521 1057 524 1055 526 1053 529 1052 531 1054 534 1056"/><path d="M765 1031 768 1029 770 1027 773 1027 775 1029 778 1031 780 1031 783 1029 785 1027 788 1026 790 1027"/><path d="M634 1005 637 1008 639 1009 642 1009 644 1007 647 1005 649 1006 652 1009 654 1011"/><path d="M559 1045 562 1046 564 1049 567 1050 569 1049 572 1047 574 1045 577 1045 579 1047 582 1049"/><path d="M608 1030 610 1031 613 1030 615 1028 618 1026 620 1027 623 1029 625 1031 628 1031 630 1029"/><path d="M737 1051 740 1049 742 1048 745 1048 747 1050 750 1052 752 1052 755 1050 757 1048 760 1047 762 1049 765 1051"/><path d="M636 1095 638 1097 641 1098 643 1097 646 1095 648 1093 651 1093 653 1095 656 1097 658 1097"/><path d="M663 1028 666 1029 668 1032 671 1033 673 1032 676 1030 678 1028 681 1029 683 1031 686 1033 688 1033 691 1031"/><path d="M534 1095 537 1097 539 1099 542 1098 544 1095 547 1094 549 1095 552 1097"/><path d="M787 1032 789 1034 792 1035 794 1034 797 1032 799 1031 802 1033 804 1035 807 1037 809 1037"/><path d="M752 1006 754 1008 757 1008 759 1006 762 1003 764 1003 767 1004 769 1006 772 1007 774 1005 777 1003 779 1001 782 1002"/><path d="M612 1070 614 1070 617 1067 619 1065 622 1064 624 1066 627 1068 629 1068 632 1066 634 1063 637 1062 639 1063 642 1065 644 1066"/><path d="M739 1015 741 1013 744 1012 746 1013 749 1015 751 1016 754 1015 756 1012 759 1011 761 1011 764 1013"/><path d="M533 1103 535 1105 538 1104 540 1102 543 1101 545 1101 548 1103 550 1106 553 1106 555 1104 558 1102 560 1102 563 1103 565 1106"/><path d="M700 1028 702 1028 705 1026 707 1025 710 1025 712 1028 715 1030 717 1030 720 1029 722 1027 725 1027"/><path d="M560 1045 563 1047 565 1047 568 1045 570 1043 573 1043 575 1044"/><path d="M701 1027 704 1029 706 1031 709 1032 711 1031 714 1029 716 1027 719 1028 721 1031 724 1032 726 1032 729 1029 731 1028"/><path d="M700 1073 702 1074 705 1073 707 1071 710 1070 712 1071 715 1073 717 1075 720 1075"/><path d="M741 1096 743 1095 746 1097 748 1099 751 1100 753 1099"/><path d="M757 1073 760 1075 762 1075 765 1073 767 1071 770 1071 772 1073 775 1075 777 1076 780 1075"/><path d="M700 1118 702 1116 705 1115 707 1117 710 1119 712 1121 715 1121 717 1119 720 1118 722 1118 725 1120"/><path d="M801 1053 804 1052 806 1054 809 1056 811 1058 814 1058"/><path d="M749 1105 751 1105 754 1106 756 1109 759 1110 761 1109"/><path d="M683 1084 685 1081 688 1080 690 1081 693 1084 695 1085 698 1085 700 1083 703 1081 705 1081 708 1083"/><path d="M565 1124 568 1122 570 1119 573 1118 575 1120 578 1122 580 1123 583 1121"/><path d="M797 1031 799 1031 802 1033 804 1036 807 1037 809 1036 812 1033"/><path d="M683 1089 685 1091 688 1093 690 1093 693 1091 695 1090"/><path d="M665 1032 667 1030 670 1028 672 1028 675 1030 677 1032 680 1032 682 1031 685 1028 687 1027"/><path d="M709 1047 711 1045 714 1046 716 1048 719 1050 721 1051 724 1050 726 1047 729 1047"/><path d="M614 1081 617 1082 619 1080 622 1078 624 1078"/><path d="M714 1095 716 1094 719 1095 721 1097 724 1099 726 1099 729 1097 731 1095 734 1095"/><path d="M669 1084 671 1082 674 1080 676 1080 679 1082 681 1084 684 1084 686 1083 689 1080 691 1079 694 1081"/><path d="M587 1099 590 1100 592 1099 595 1097 597 1096 600 1098 602 1101 605 1102 607 1102 610 1100 612 1099 615 1099 617 1102"/><path d="M748 1112 750 1113 753 1115 755 1116 758 1114 760 1111 763 1110 765 1110 768 1112 770 1114"/><path d="M551 1088 554 1090 556 1092 559 1093 561 1091 564 1088 566 1087 569 1088 571 1091"/><path d="M588 1106 590 1107 593 1109 595 1111 598 1110 600 1108 603 1106"/><path d="M744 1089 747 1091 749 1090 752 1088 754 1086 757 1085 759 1087 762 1088 764 1089 767 1087 769 1084"/><path d="M707 1048 709 1046 712 1044 714 1044 717 1046 719 1048 722 1049 724 1047"/></g><g fill="none" stroke="#6a4a90" stroke-linecap="round" opacity="0.7"><path d="M750 1087l1.3 -.4M526 1055l1.3 .4M631 1077l1.1 .4M732 1007l1.4 .3M580 1034l1.6 -.5M752 1060l1.7 -.3M552 1083l1.7 -.1M794 1041l1.1 .2M627 1109l1.7 .0M708 1062l1.4 .9M774 1029l1.1 .2M585 1096l1.3 -.9M620 1103l1.5 -.4M632 1002l.9 .6M802 1100l1.4 .7M652 1089l1.6 .0M659 1064l1.2 -.6M663 1080l.9 -.6M561 1041l1.2 -.4M653 1108l1.2 -.1M774 1046l1.2 -.0M753 989l1.3 .8M786 1000l1.5 -.3M638 1021l1.4 .8M534 1077l1 .3M628 1110l1.5 -.9M580 1112l1.5 -.1M746 1085l1.4 -.1M567 1049l1.4 -.6M555 1052l1.2 .6M703 1063l1 .4M549 1046l1.5 .8M778 1014l1.5 .5M564 1111l1.7 -.1M745 1013l1.2 .3M550 1086l1.5 .1M680 1017l1.2 -.7M568 1037l1.2 -.4M588 1036l1.7 -.2M593 1038l1.6 .1M633 1012l1.1 .8M681 1055l1.6 .3M753 998l1.3 .8M572 1049l1.1 -.7M537 1074l1 .3M535 1032l1.5 -.5M685 1107l1.2 -.0M730 1095l1.1 .2M785 1073l1.5 .4M768 1079l1.5 -.6M719 1078l1.1 .1M793 1012l1.4 -.9M577 1117l1.3 .1M685 1049l1.3 -.4M564 1100l1.1 -.1M693 1019l1.7 .1M722 1085l1.3 .6M785 1096l1.7 -.3M631 1094l1.1 -.7M783 1089l1.2 .7M672 1078l1.4 -.2M806 1090l1.3 .6M556 1044l1.4 -.6M720 1078l.9 .6M731 1106l1 -.4M703 1094l1.6 -.1M557 1046l1.3 .5M534 1121l1.2 -.7M603 1067l1.3 .2M554 1089l1.2 .5M567 1057l1.4 -.2M531 1030l1.5 -.8M806 1116l1.5 -.0M679 993l1.3 .7M653 1119l1.3 -.8M737 1056l1.2 -.9M774 1023l1.3 -.6M731 1064l1.6 -.6M731 1042l.9 .5M577 1107l1.2 -.2M680 996l1.3 -.7M647 1040l1.5 .2M708 1090l1.1 -.3M800 985l1.3 -.2M806 1033l1.6 -.7M604 1053l1.2 .2M557 1012l1.3 -.5M635 1042l1.6 .4M665 1068l1.6 -.5M671 1097l1 .4M707 1095l1.5 -.8M618 1008l1.5 .2M685 1053l1.5 .2M580 1105l1.6 -.2M638 1039l1.1 .2M781 997l1.3 -.4M782 999l1.2 .3M631 1103l1.3 .1M612 1042l1.2 -.6M688 1059l1.3 -.3M697 1020l1.5 .3M760 1117l1.4 -.3M628 1105l1.2 -.7M623 1053l1.5 .1M600 1079l1.1 .7M701 1007l1 .5M708 1036l1.2 .7M801 1008l1.3 -.2M630 1074l1.5 -.4M579 1086l1.5 .0M582 1117l1.2 .7M549 1058l1.4 -.6M686 1020l1.2 .3M650 1077l1.3 -.9M618 1032l1.2 .2M584 1007l1.5 .3M695 1023l1.2 .6M582 1063l1.2 -.3M591 1010l1.6 .3M615 1068l1.3 -.2M569 1115l1.5 .3M698 1024l1.2 -.9M544 1031l1.1 -.8M767 1074l1.3 .1M711 1093l1.5 .0M606 1079l1 -.5M751 1014l1 .4M640 1027l1 .6M706 1000l1.4 .2M596 1096l.9 .5M645 1025l1.1 .0M619 1046l1.4 -.7M546 1101l1.1 .2M528 1099l1.5 .4M743 1046l1.1 -.5M530 1055l1.3 .9M633 1110l1.1 .5M706 1076l1 .4M598 1050l1 .7M639 1050l1 .7M582 1041l1.6 -.5M591 1026l1.5 .7M803 979l1.5 .9M587 1051l1.5 -.3M800 1046l1.1 -.7M686 1105l1.6 -.1M753 999l1 .3M755 1016l1.3 -.3M718 1085l1.2 -.1M603 1070l1.1 -.4M803 1085l1.1 -.5M563 1092l1.1 -.3M704 1064l1.3 .5M615 1070l1 -.5M771 1071l1.3 .9M535 1075l.9 .6M681 1019l1.4 -.8M673 1022l1 .7M693 1026l1.7 .2M772 1088l1.1 .6M619 1060l1.5 .4M744 1068l1.7 -.5M781 1100l1.6 -.5M696 1095l1.6 -.6M608 1014l1.4 .7M760 1050l1.4 .2M594 1009l1.3 .1M630 1072l1.4 .7M768 1063l1.5 .2M645 1013l1.3 -.2M567 1045l1.6 .4M802 1067l1 .5M611 1080l1.4 .3M666 1051l1.3 .7M666 1092l1.2 -.7M699 1097l1.3 -.1M589 1024l1.1 -.0M651 1018l1.4 .1M745 1098l1.3 .3M613 1055l1.3 -.6M692 1120l1.1 .3M765 981l1.5 -.8M778 1020l.9 .5M570 1052l1.5 .3M710 1112l1.3 -.8M685 1111l1.7 -.1M677 1074l1.4 -.9M693 1117l1.3 -.5" stroke-width="2.0"/><path d="M736 1004l1.7 -.6M543 1083l1.7 -.5M768 981l1.8 -.2M806 1076l1.7 .4M749 1072l1.8 .5M754 1038l1.7 .7M701 1077l1.5 -.8M687 1069l1.8 .3M725 1081l1.6 .8M601 1051l1.8 -.0M760 1045l1.7 .7M769 1102l1.7 .4M607 1120l1.7 -.5M707 1043l1.8 .2M712 1091l1.6 .8M707 1077l1.8 .5M692 1114l1.5 -1.0M672 1031l1.7 -.2M587 1096l1.8 -.3M640 1091l1.7 -.5M791 989l1.7 -.5M582 1019l1.7 .7M565 1022l1.6 .8M591 1119l1.7 -.7M620 1065l1.5 1.0M755 1057l1.8 -.2" stroke-width="3.0"/><path d="M547 1028l1 .0M559 1111l.9 .5M709 1082l.9 -.5M783 979l.9 .4M654 1121l.9 .4M716 1051l.9 .5M799 1090l1 -.1M545 1118l1 -.2M732 1079l1 .2M639 1071l1 -.3M768 1065l.9 .5M798 983l1 -.2M795 1080l.9 -.5M537 1033l1 .0M774 1047l1 .0M605 1003l1 .2" stroke-width="1.0"/></g><ellipse cx="705" cy="1012" rx="11" ry="30" fill="#a87bbd" /><ellipse cx="728" cy="1010" rx="12" ry="32" fill="#a87bbd" /><ellipse cx="752" cy="1022" rx="10" ry="30" fill="#a87bbd" /><ellipse cx="770" cy="1065" rx="16" ry="28" fill="#a87bbd" /><ellipse cx="795" cy="1070" rx="12" ry="45" fill="#a87bbd" /><ellipse cx="538" cy="1085" rx="12" ry="38" fill="#a87bbd" /><ellipse cx="722" cy="1050" rx="12" ry="14" fill="#a87bbd" /><g fill="none" stroke="#5f3a86" stroke-linecap="round" opacity="0.7"><path d="M706 999l.4 -.3M732 982l.5 -.3M537 1057l.5 .0M722 1042l.5 -.0M543 1063l.4 .3M795 1061l.5 .1M780 1079l.5 .2M533 1097l.5 -.2M533 1112l.4 -.2M767 1084l.5 .2M800 1053l.4 .2M744 1025l.5 .2M699 1025l.5 .1M545 1095l.5 -.1M757 1010l.4 .2M726 1050l.4 -.1M778 1049l.5 .2M758 1025l.6 .1M788 1066l.6 -.1M776 1085l.4 .2M792 1034l.5 -.3M733 1014l.5 .1M738 1007l.5 .0M795 1092l.5 -.3M535 1065l.6 -.0M792 1067l.5 .2M797 1052l.6 -.0M527 1074l.6 .1M758 1077l.5 -.1M801 1040l.6 -.1M703 986l.5 .0M706 996l.6 .0M704 1003l.5 -.2M700 1010l.4 .2M772 1079l.4 -.1M708 1013l.6 .2M540 1100l.5 .1M528 1091l.5 -.0M722 1050l.5 .2M545 1096l.5 .3M765 1085l.5 .2M549 1080l.5 .2M703 995l.5 -.1M804 1082l.5 -.0M722 1024l.5 -.0M767 1059l.5 -.0M702 1006l.5 .3M746 1002l.4 .3M760 1028l.4 .2M712 997l.5 .2M542 1088l.5 .2M528 1091l.5 .0M537 1067l.6 .0M786 1045l.5 .2M723 1043l.5 -.2M714 1016l.5 -.3M711 998l.5 .2M755 1039l.6 -.0M540 1077l.5 .2M704 1008l.4 .2M793 1080l.5 -.1M543 1117l.5 .2M802 1089l.5 -.1M538 1089l.5 .2M766 1084l.5 .3M535 1120l.6 -.0M746 1009l.6 .2M764 1049l.5 -.1M758 1019l.5 -.2M542 1101l.5 -.2M731 983l.5 -.3M733 1006l.5 -.3M543 1097l.6 -.0M705 997l.4 -.2M800 1078l.6 .1M763 1045l.5 .1M758 1027l.5 .2M698 1000l.5 -.0M730 983l.5 .0M786 1077l.4 .3M802 1088l.4 -.2M779 1061l.5 .3M764 1041l.5 -.2M542 1100l.4 .3M783 1078l.5 .2M534 1059l.5 -.1M722 1003l.5 .2M789 1061l.5 .2M800 1051l.5 -.1M695 1016l.5 .2M786 1052l.4 .3M534 1078l.5 -.1M757 1064l.5 .3M800 1104l.5 .3M798 1047l.5 -.3M797 1036l.5 -.2M726 1009l.6 .1M718 1003l.4 -.2M772 1077l.5 .1M735 1026l.5 -.1M528 1097l.5 -.0M731 1034l.6 -.1M773 1051l.5 -.2M709 1005l.5 -.1M756 1009l.5 .1M706 993l.6 -.0M695 1014l.4 .2M720 1054l.5 .0M773 1067l.4 -.1M764 1080l.5 -.3M722 989l.5 .0M736 1000l.5 -.1M753 1028l.4 -.2M722 1014l.4 .2M718 998l.5 -.2M727 984l.5 .1M542 1059l.5 -.0M542 1061l.5 .0M771 1083l.5 -.2M753 1042l.4 .2M752 1023l.5 .1M732 1010l.5 -.2M738 1023l.5 -.3M530 1111l.4 .2" stroke-width="2.0"/><path d="M718 1010l.4 .0M543 1076l.4 -.1M770 1062l.4 -.1M738 1019l.4 .1M803 1055l.4 .0M527 1082l.4 -.0M731 1035l.4 .0M702 1026l.3 .2M537 1079l.4 -.2M720 1009l.3 .2M733 1034l.4 -.0M546 1071l.4 -.2M772 1057l.4 -.1M731 1052l.3 .1M719 1062l.3 -.2M537 1079l.4 .2M708 985l.4 -.1M797 1064l.4 -.2M714 1000l.4 -.1M758 1011l.4 -.0M796 1047l.4 .1M726 1013l.4 -.0M751 1033l.3 -.2M702 1019l.3 .2M543 1078l.4 .0M736 1015l.4 -.2M749 1028l.4 .1M766 1047l.4 -.0M724 1023l.4 .1M744 1039l.4 -.0M801 1069l.3 .2M781 1081l.4 .2M729 1048l.4 .2M750 1016l.4 .1M695 1004l.3 .2M536 1108l.4 .2M728 1034l.4 .2M698 1023l.4 -.1M755 1040l.4 -.2M772 1066l.3 -.2M796 1109l.4 -.0M699 1018l.4 -.1M797 1071l.4 -.1M720 1002l.4 .1M728 995l.4 -.1M789 1093l.4 .2M762 1078l.4 -.2M767 1045l.4 -.1M703 1014l.4 .1M726 1057l.4 -.1M761 1071l.4 -.2M748 1009l.4 .1M717 1045l.4 .0M718 1013l.4 .1M806 1067l.4 .2M773 1046l.4 -.1M791 1059l.4 .1M793 1049l.4 -.1M529 1104l.4 .1M775 1069l.4 -.2M704 1032l.4 .1M750 1047l.4 -.2M800 1065l.4 .1M781 1074l.4 .0M548 1086l.3 -.2M542 1062l.3 .1" stroke-width="1.0"/></g><ellipse cx="707" cy="1005" rx="3" ry="9" fill="#f6eaf2" /><ellipse cx="733" cy="1000" rx="3" ry="8" fill="#f6eaf2" /><ellipse cx="745" cy="990" rx="3" ry="5" fill="#f6eaf2" /><ellipse cx="712" cy="1040" rx="3" ry="3" fill="#f6eaf2" /><ellipse cx="543" cy="1080" rx="2" ry="9" fill="#f6eaf2" /><path d="M524.0,993.5C531.5,991.4 552.3,984.3 568.7,980.8C585.1,977.3 606.3,974.9 622.4,972.7C638.5,970.5 655.5,968.1 665.4,967.4C675.2,966.7 675.2,969.2 681.5,968.7C687.8,968.2 695.4,966.3 703.0,964.7C710.6,963.1 718.2,961.3 727.2,959.3C736.2,957.3 742.7,954.4 756.7,952.6C770.7,950.8 802.0,949.1 811.0,948.4L811.0,975.0C802.5,975.5 775.2,976.3 760.0,978.0C744.8,979.7 731.7,982.7 720.0,985.0C708.3,987.3 701.7,990.3 690.0,992.0C678.3,993.7 665.0,993.5 650.0,995.0C635.0,996.5 615.0,998.5 600.0,1001.0C585.0,1003.5 572.7,1005.2 560.0,1010.0C547.3,1014.8 530.0,1026.7 524.0,1030.0Z" fill="#ae80c4"/><g fill="none" stroke="#5f3a86" stroke-linecap="round" opacity="0.72"><path d="M808 967l.5 -.0M778 960l.4 -.2M762 967l.5 -.3M589 984l.4 .3M603 983l.6 .0M737 975l.6 .1M564 990l.4 -.2M628 998l.5 -.1M691 977l.5 -.1M740 968l.5 -.2M723 970l.4 .1M549 993l.4 .2M559 1001l.6 .1M653 991l.5 .1M651 980l.5 .1M786 955l.5 -.3M781 969l.5 -.2M666 991l.5 -.1M588 1000l.5 -.2M654 984l.5 .2M769 972l.4 -.1M549 998l.6 -.0M590 987l.6 -.0M682 977l.4 .2M645 982l.4 .1M684 987l.4 .2M640 984l.5 -.2M730 969l.4 -.2M775 961l.5 .1M642 985l.5 .0M805 957l.5 .1M534 1011l.5 -.1M631 977l.4 .2M538 1017l.6 .0M616 991l.5 -.2M562 998l.6 .0M694 989l.5 -.2M643 987l.5 -.1M678 983l.4 -.3M714 976l.5 -.1M770 975l.4 -.2M654 987l.5 -.0M609 983l.4 -.2M734 980l.4 .3M591 989l.5 .3M797 968l.5 -.1M742 969l.5 .2M764 969l.5 .2M618 992l.4 -.3M600 993l.5 -.1M732 968l.6 .1M767 970l.5 .3M712 973l.4 -.2M591 1000l.5 .2M691 978l.5 -.1M645 978l.4 -.2M806 953l.5 -.0M689 980l.6 .0M678 975l.4 .2M572 985l.5 -.1M614 984l.4 .2M560 1002l.6 -.1M536 996l.5 -.3M643 995l.4 .2M647 975l.4 -.3M590 996l.4 -.1M761 962l.6 .1M552 997l.5 .2M583 1000l.5 .2M740 962l.5 .3M550 1011l.4 .2M661 994l.5 -.1M627 982l.5 -.3M754 961l.5 .1M802 967l.4 -.2M703 970l.4 .1M568 995l.5 .2M795 955l.6 -.0M585 992l.5 .0M738 965l.6 .0M591 1001l.5 .1M775 977l.6 .2M686 990l.6 -.2M574 1004l.5 .3M544 1009l.5 .1M654 981l.5 -.1M527 1000l.5 .2M655 987l.5 .2M737 982l.5 -.2M805 973l.6 -.2M728 971l.4 -.2M727 969l.5 -.0M747 961l.4 .2M707 982l.5 .2M729 972l.5 .1M660 985l.4 .2M805 968l.5 -.0M567 1003l.5 .3M686 989l.5 -.1M549 998l.5 -.1M737 971l.6 .1M676 975l.4 -.2M608 989l.6 .1M633 989l.5 .2M565 1008l.5 .0M580 992l.5 .3M658 980l.5 .2M564 989l.5 -.2M649 992l.4 .3M771 961l.4 -.2M548 1004l.5 -.2M789 968l.5 .1M587 996l.6 -.0M615 980l.4 .3M571 990l.4 -.2M641 984l.4 .3M783 969l.5 -.3M644 985l.5 .1M600 982l.6 .1M660 985l.5 .0M594 989l.5 .3M708 982l.6 -.1M648 989l.5 .2M801 967l.4 .2M574 997l.5 -.1M776 966l.5 .3M734 978l.5 -.1M547 992l.6 .1M540 1006l.4 -.3M697 971l.6 .0M568 988l.5 .3M570 989l.5 .3M768 974l.5 -.3M805 955l.6 .2M735 964l.5 -.1M719 965l.4 .1M711 975l.5 -.2M636 979l.4 .3M691 991l.5 -.2M689 983l.5 -.0M664 973l.5 .1M602 999l.5 .0M685 973l.6 .1M745 978l.5 -.2M721 969l.5 -.2M751 962l.5 -.2M688 987l.5 -.1M586 985l.5 -.2M695 990l.5 -.0M625 996l.6 -.2M528 1009l.5 .3M547 996l.5 -.1M652 992l.5 .2M746 976l.5 .1M598 1000l.5 .0M706 979l.5 .2M528 1006l.5 .1M704 970l.5 -.0M710 972l.6 .0M555 1002l.6 -.0M778 970l.4 -.3M586 991l.4 .2M765 956l.5 -.2M534 997l.5 .3M667 983l.5 .0M532 1005l.5 .3M784 966l.5 .2M797 972l.4 .2M529 1013l.5 .2M626 991l.5 -.2M716 974l.5 -.1M767 964l.6 -.1M552 1004l.5 -.2M547 992l.6 -.1M663 973l.4 .2M706 969l.5 -.1M656 987l.5 .3M745 968l.4 -.3M644 977l.5 -.2M743 969l.6 -.1M531 996l.5 .2M576 998l.6 -.1M553 1013l.5 .2M671 992l.5 .2M709 988l.6 -.2M682 989l.5 .2M702 987l.5 .3M662 974l.5 .3M650 984l.6 -.2M583 986l.5 -.2M777 967l.5 .3M739 971l.5 .2M542 1004l.5 .0M786 961l.5 .0M762 973l.4 .2M583 997l.5 -.1M682 991l.5 .3M793 974l.4 .2M637 986l.4 -.2M646 976l.5 -.2M624 985l.6 -.2M541 995l.5 .2M616 983l.4 .1M665 972l.5 -.0M799 953l.5 -.2M656 978l.5 .2M552 993l.5 -.2M767 958l.4 -.2M635 989l.5 -.1M783 961l.5 .0M654 985l.4 -.3M698 989l.5 -.3M768 957l.5 .1M766 968l.5 .1M540 1003l.5 -.1M592 996l.4 -.1M657 976l.5 .3M657 984l.5 -.2M684 991l.4 .3M684 989l.5 .3M758 972l.4 .3M656 982l.5 .3M642 989l.6 -.0M534 1018l.5 .2M799 971l.5 .2M621 998l.6 -.2M645 979l.5 .1M538 1019l.5 -.0M537 1019l.6 -.1M733 972l.5 .1M586 1002l.4 .3M599 982l.5 .1M783 966l.5 .3M529 1014l.5 -.3M644 974l.5 .3M718 981l.5 .1M747 974l.5 -.2" stroke-width="2.0"/><path d="M692 982l.3 -.2M637 997l.4 -.1M725 965l.4 .0M765 964l.4 .2M616 984l.4 -.1M589 983l.4 .1M593 997l.4 -.1M775 964l.3 -.2M729 967l.4 .2M806 953l.4 .0M704 983l.4 -.2M630 990l.4 -.1M650 982l.4 -.0M558 1006l.4 -.1M703 985l.4 -.1M553 1002l.4 .2M739 963l.4 .1M571 1005l.4 -.0M710 970l.3 .2M635 988l.4 -.1M805 955l.4 .0M714 967l.4 -.0M783 957l.4 -.1M790 956l.4 -.2M560 989l.4 .1M748 965l.4 .1M777 977l.4 .1M741 963l.4 -.1M546 1005l.4 .1M643 993l.4 .1M564 994l.4 .1M547 1006l.4 -.1M618 987l.4 -.2M801 973l.3 -.2M690 983l.4 .2M560 999l.4 .1M579 1003l.4 -.1M756 958l.4 -.0M770 959l.4 .0M588 982l.4 .0M785 960l.4 -.1M651 982l.4 .1M796 959l.4 .1M622 996l.4 -.1M571 985l.4 .1M609 994l.4 -.3M696 978l.4 -.1M572 989l.4 -.2M680 986l.4 -.1M743 971l.4 -.0M755 959l.3 .2M567 985l.3 -.2M583 993l.3 -.2M754 965l.4 .2M682 976l.4 .1M697 990l.4 -.0M661 994l.4 -.0M603 999l.4 .0M756 967l.4 .2M716 980l.4 .1M530 1004l.4 -.2M550 994l.4 .1M532 1008l.4 -.1M611 989l.4 .1M803 960l.4 .0M623 989l.4 -.2M803 970l.4 .1M569 1006l.4 .1M717 976l.3 -.2M732 981l.4 .1M564 986l.4 .2M557 996l.4 -.0M550 1011l.4 .0M561 993l.4 .0M602 994l.4 .1M719 982l.4 -.2M530 999l.4 -.0M539 994l.4 .0M790 961l.4 .0M721 983l.4 -.0M691 979l.4 -.1M630 979l.4 .1M644 981l.4 -.1M617 989l.4 -.0M602 990l.4 -.1M657 979l.4 -.2M609 990l.4 -.2M766 960l.4 -.2M615 991l.4 .2M610 989l.4 .1M614 982l.4 .1M551 1011l.4 .1M769 956l.4 .2M680 989l.4 -.1M760 958l.4 -.1M746 965l.4 .1M740 981l.4 .1M724 968l.4 -.2M637 988l.3 .2M635 995l.3 -.2M616 985l.4 .1M627 987l.4 .0M647 988l.4 -.2M725 978l.4 -.2M559 994l.4 .1M537 1014l.4 -.1M632 979l.4 -.2M659 988l.4 -.1M777 961l.3 .2M710 985l.4 -.0M773 961l.4 .3M559 994l.3 .1M555 1000l.4 -.1M553 993l.4 .0M731 966l.4 .1M586 984l.4 .1M767 958l.4 .1M791 974l.4 .1M562 1002l.3 .2M770 964l.4 -.1M563 999l.4 -.2M605 988l.4 .1M534 996l.4 .2M795 964l.4 -.1M660 989l.4 -.1M764 961l.4 -.2M535 1017l.3 -.2M758 968l.4 .1M620 993l.4 .1M712 980l.4 -.0M561 1009l.4 -.1M643 989l.4 .1M784 969l.4 -.0M586 985l.4 -.2M792 968l.4 .2M710 980l.4 .2M753 970l.4 -.1M766 963l.4 .1M777 964l.4 -.1M658 983l.3 .2M735 977l.4 -.1M538 1008l.3 -.2M553 998l.4 .2" stroke-width="1.0"/></g><path d="M524.0,991.7C531.5,989.6 552.3,982.5 568.7,979.0C585.1,975.5 606.3,973.1 622.4,970.9C638.5,968.7 655.5,966.3 665.4,965.6C675.2,964.9 675.2,967.4 681.5,966.9C687.8,966.5 695.4,964.5 703.0,962.9C710.6,961.3 718.2,959.5 727.2,957.5C736.2,955.5 742.7,952.6 756.7,950.8C770.7,949.0 802.0,947.3 811.0,946.6" fill="none" stroke="#e0649e" stroke-width="3.6"/><path d="M524.0,989.0C531.5,986.9 552.3,979.8 568.7,976.3C585.1,972.8 606.3,970.4 622.4,968.2C638.5,966.0 655.5,963.6 665.4,962.9C675.2,962.2 675.2,964.7 681.5,964.2C687.8,963.8 695.4,961.8 703.0,960.2C710.6,958.6 718.2,956.8 727.2,954.8C736.2,952.8 742.7,949.9 756.7,948.1C770.7,946.3 802.0,944.6 811.0,943.9" fill="none" stroke="#f3c6dc" stroke-width="1.3"/><path d="M676,968 L684,968 L693,1084 L690,1086 Z" fill="#5c1566"/><ellipse cx="728" cy="961" rx="6" ry="4" fill="#e06aa0" /></g><rect x="580.3" y="1086.9" width="159.0" height="26.899999999999864" fill="#fff"/><text x="587.82" y="1105.20" font-family="Liberation Sans" font-size="17.20" font-weight="bold" font-style="normal" fill="#111" textLength="144.85" lengthAdjust="spacingAndGlyphs" >Low Protein + IMQ</text><line x1="783.6" y1="1108.2" x2="805" y2="1108.2" stroke="#222" stroke-width="0.9"/><text x="783.88" y="1106.00" font-family="Liberation Sans" font-size="6.20" font-weight="bold" font-style="normal" fill="#222" textLength="21.07" lengthAdjust="spacingAndGlyphs" >50 µm</text></g><clipPath id="clip4"><rect x="817.1" y="925.7" width="281.4999999999999" height="196.0999999999999"/></clipPath><g clip-path="url(#clip4)"><rect x="817.1" y="925.7" width="281.4999999999999" height="196.0999999999999" fill="#f9f9f9"/><g filter="url(#hblur)"><path d="M815.0,946.0C819.2,946.4 827.6,947.1 840.0,948.5C852.4,949.9 872.2,950.9 889.2,954.3C906.2,957.7 926.6,964.7 942.0,968.9C957.4,973.1 968.5,974.8 981.7,979.4C994.9,984.0 1008.1,991.3 1021.3,996.6C1034.5,1001.9 1051.8,1006.9 1061.0,1011.1C1070.2,1015.3 1070.1,1019.9 1076.8,1021.7C1083.5,1023.5 1097.0,1021.7 1101.0,1021.7L1101.6,1123.8L814.1,1123.8Z" fill="#eb8fcc"/><g fill="none" stroke="#f5bde0" stroke-width="1.8" opacity="0.7" stroke-linecap="round"><path d="M1045 1083 1048 1081 1050 1080 1053 1081 1055 1082 1058 1084 1060 1086 1063 1085 1065 1084 1068 1083 1070 1083 1073 1084 1075 1086 1078 1088 1080 1088 1083 1087 1085 1086 1088 1085 1090 1086 1093 1088 1095 1090 1098 1091 1100 1090 1103 1088 1105 1088"/><path d="M1090 1104 1092 1103 1095 1104 1097 1105 1100 1106 1102 1105 1105 1104 1107 1102 1110 1101 1112 1102 1115 1103 1117 1104 1120 1104 1122 1102 1125 1100 1127 1099"/><path d="M878 1096 880 1096 883 1096 885 1098 888 1100 890 1101 893 1100 895 1098 898 1097 900 1098 903 1099 905 1101 908 1102 910 1101 913 1100 915 1099 918 1099 920 1101 923 1103 925 1104 928 1103 930 1102 933 1101 935 1101 938 1102 940 1104 943 1105"/><path d="M984 1076 986 1075 989 1073 991 1072 994 1072 996 1073 999 1074 1001 1075 1004 1074 1006 1072 1009 1071 1011 1071 1014 1072 1016 1073 1019 1074"/><path d="M950 1025 953 1026 955 1028 958 1028 960 1028 963 1026 965 1025 968 1024 970 1025 973 1026 975 1028 978 1027 980 1026 983 1024 985 1023 988 1024 990 1025 993 1027 995 1027 998 1025 1000 1023 1003 1022 1005 1023 1008 1024 1010 1025 1013 1026 1015 1025"/><path d="M910 1064 912 1065 915 1065 917 1064 920 1062 922 1061 925 1062 927 1063 930 1065 932 1065 935 1064 937 1062 940 1061 942 1061 945 1063 947 1064 950 1064 952 1063 955 1062 957 1060 960 1060 962 1062 965 1063 967 1064"/><path d="M970 1111 973 1112 975 1112 978 1111 980 1109 983 1108 985 1109 988 1111 990 1112 993 1113 995 1111 998 1110 1000 1109 1003 1109 1005 1111 1008 1112"/><path d="M977 1056 979 1055 982 1053 984 1053 987 1054 989 1056 992 1057 994 1057 997 1056 999 1054 1002 1054 1004 1055 1007 1056 1009 1058 1012 1058 1014 1057 1017 1055 1019 1054 1022 1055 1024 1057 1027 1058 1029 1059 1032 1057 1034 1056 1037 1055 1039 1055"/><path d="M997 1059 999 1060 1002 1060 1004 1058 1007 1056 1009 1055 1012 1055 1014 1056 1017 1058 1019 1058 1022 1056"/><path d="M1011 1098 1014 1098 1016 1096 1019 1095 1021 1094 1024 1095 1026 1097 1029 1098 1031 1098 1034 1097 1036 1095 1039 1094 1041 1095 1044 1096 1046 1098 1049 1098"/><path d="M1032 1060 1034 1060 1037 1059 1039 1057 1042 1055 1044 1055 1047 1056 1049 1058 1052 1058 1054 1057 1057 1055"/><path d="M1091 1118 1093 1120 1096 1122 1098 1123 1101 1123 1103 1122 1106 1121 1108 1121 1111 1122 1113 1124 1116 1126"/><path d="M941 1072 943 1071 946 1072 948 1073 951 1075 953 1076 956 1075 958 1074 961 1073 963 1073 966 1075 968 1076 971 1078 973 1077 976 1076 978 1075 981 1075"/><path d="M876 1113 878 1114 881 1115 883 1116 886 1115 888 1114 891 1112 893 1111 896 1112 898 1113 901 1114"/><path d="M912 1068 915 1067 917 1065 920 1064 922 1064 925 1066 927 1067 930 1067 932 1065 935 1064 937 1062 940 1062 942 1064 945 1065 947 1065 950 1064 952 1062 955 1061 957 1061 960 1062 962 1063 965 1064"/><path d="M899 1113 901 1114 904 1115 906 1116 909 1115 911 1114 914 1112 916 1111 919 1112 921 1113 924 1114 926 1114"/><path d="M1069 1110 1072 1109 1074 1107 1077 1106 1079 1106 1082 1107 1084 1109 1087 1109 1089 1109 1092 1107 1094 1106 1097 1105 1099 1106 1102 1108 1104 1109 1107 1109 1109 1107 1112 1105"/><path d="M949 1090 952 1088 954 1087 957 1088 959 1090 962 1092 964 1093 967 1092 969 1091 972 1090 974 1090 977 1092 979 1094 982 1095 984 1095 987 1094 989 1093 992 1093 994 1094 997 1096 999 1098 1002 1098 1004 1097 1007 1096 1009 1096 1012 1097 1014 1099"/><path d="M1090 1115 1093 1115 1095 1114 1098 1113 1100 1112 1103 1113 1105 1115 1108 1116 1110 1117 1113 1116 1115 1114 1118 1113 1120 1114 1123 1116 1125 1117 1128 1118"/><path d="M907 1113 910 1114 912 1116 915 1117 917 1117 920 1116 922 1115 925 1114 927 1115 930 1117 932 1118 935 1119 937 1118 940 1116 942 1115 945 1116"/><path d="M1074 1098 1076 1097 1079 1097 1081 1098 1084 1100 1086 1101 1089 1101 1091 1099 1094 1098 1096 1098 1099 1099 1101 1101 1104 1102 1106 1102 1109 1101 1111 1100 1114 1099 1116 1100 1119 1102 1121 1104 1124 1104 1126 1103 1129 1101"/><path d="M944 1061 946 1060 949 1060 951 1060 954 1062 956 1064 959 1064 961 1063 964 1062 966 1061 969 1062 971 1063 974 1065 976 1066 979 1065 981 1063 984 1062 986 1063 989 1064 991 1066 994 1067 996 1066 999 1065 1001 1064 1004 1064 1006 1065 1009 1067"/><path d="M916 1096 918 1096 921 1095 923 1094 926 1092 928 1093 931 1094 933 1095 936 1096 938 1095 941 1094 943 1092 946 1092 948 1093 951 1095 953 1096 956 1095 958 1093 961 1092 963 1091 966 1092 968 1094"/><path d="M946 1033 948 1031 951 1030 953 1029 956 1030 958 1032 961 1033 963 1032 966 1031 968 1029 971 1029 973 1029 976 1031 978 1032 981 1032 983 1031 986 1029 988 1028 991 1028 993 1030 996 1031 998 1032 1001 1030 1003 1029 1006 1027"/><path d="M957 1028 959 1028 962 1029 964 1031 967 1031 969 1030 972 1028 974 1026 977 1026 979 1027 982 1029 984 1029 987 1028 989 1026 992 1025 994 1024 997 1025 999 1027 1002 1027"/><path d="M934 1035 936 1036 939 1035 941 1033 944 1031 946 1031 949 1032 951 1034 954 1034 956 1034 959 1032 961 1030 964 1029 966 1030 969 1032"/><path d="M991 1067 994 1067 996 1066 999 1064 1001 1063 1004 1064 1006 1066 1009 1067 1011 1068 1014 1067 1016 1065 1019 1064 1021 1065 1024 1066 1026 1068 1029 1068 1031 1067 1034 1066 1036 1065 1039 1065"/><path d="M910 1117 913 1116 915 1114 918 1113 920 1113 923 1114 925 1116 928 1116 930 1115 933 1113 935 1112 938 1111 940 1112 943 1114 945 1115 948 1114 950 1113 953 1111 955 1110 958 1111 960 1112 963 1113 965 1113"/><path d="M936 1016 938 1018 941 1018 943 1017 946 1015 948 1014 951 1013 953 1014 956 1015 958 1016 961 1016 963 1014 966 1012 968 1011 971 1012 973 1013 976 1014 978 1014 981 1012 983 1010"/><path d="M902 1073 904 1075 907 1075 909 1073 912 1072 914 1070 917 1071 919 1072 922 1073 924 1074 927 1073 929 1071 932 1069 934 1069 937 1070 939 1072 942 1073 944 1072 947 1070 949 1069 952 1068 954 1069 957 1071 959 1072 962 1071 964 1069 967 1068 969 1067"/><path d="M913 1119 916 1119 918 1118 921 1116 923 1115 926 1116 928 1118 931 1119 933 1119 936 1118 938 1117 941 1116 943 1116 946 1118 948 1119 951 1120 953 1119 956 1117 958 1116 961 1116 963 1118 966 1119 968 1120 971 1120 973 1118"/><path d="M1025 1053 1028 1052 1030 1050 1033 1050 1035 1051 1038 1053 1040 1055 1043 1055 1045 1054 1048 1053 1050 1052 1053 1053 1055 1055 1058 1057 1060 1057 1063 1057"/><path d="M1051 1089 1053 1089 1056 1090 1058 1092 1061 1092 1063 1092 1066 1090 1068 1089 1071 1088 1073 1089 1076 1091 1078 1092 1081 1091 1083 1090 1086 1088 1088 1088 1091 1088 1093 1090 1096 1091 1098 1091"/><path d="M933 1075 935 1077 938 1079 940 1079 943 1078 945 1077 948 1076 950 1077 953 1079 955 1081 958 1082 960 1081 963 1080 965 1079 968 1079 970 1081 973 1083"/><path d="M955 1076 958 1076 960 1077 963 1079 965 1080 968 1080 970 1079 973 1077 975 1077 978 1078 980 1080 983 1081 985 1081 988 1080 990 1079 993 1078 995 1079 998 1080 1000 1082 1003 1082 1005 1082 1008 1080 1010 1079"/><path d="M929 1038 932 1039 934 1041 937 1042 939 1041 942 1039 944 1038 947 1037 949 1037 952 1039 954 1040 957 1040 959 1038"/><path d="M1036 1116 1038 1116 1041 1117 1043 1118 1046 1120 1048 1121 1051 1120 1053 1119 1056 1118 1058 1119 1061 1121 1063 1122 1066 1123 1068 1123 1071 1122 1073 1121"/><path d="M1065 1095 1068 1094 1070 1093 1073 1092 1075 1092 1078 1094 1080 1095 1083 1096 1085 1096 1088 1094 1090 1093 1093 1093 1095 1094 1098 1096 1100 1097 1103 1097 1105 1095 1108 1094 1110 1094 1113 1095"/><path d="M1027 1076 1029 1077 1032 1079 1034 1079 1037 1077 1039 1075 1042 1074 1044 1074 1047 1075 1049 1077 1052 1077 1054 1076 1057 1074 1059 1072 1062 1072 1064 1073 1067 1075 1069 1075 1072 1075 1074 1073"/><path d="M977 1040 980 1040 982 1042 985 1043 987 1042 990 1040 992 1038 995 1037 997 1038 1000 1039 1002 1040 1005 1040 1007 1038 1010 1036 1012 1035 1015 1035 1017 1036 1020 1037 1022 1038 1025 1036"/><path d="M891 1075 894 1075 896 1075 899 1077 901 1078 904 1078 906 1076 909 1075 911 1074 914 1075 916 1076 919 1078 921 1078 924 1076 926 1075 929 1074 931 1074 934 1075 936 1077 939 1077 941 1076 944 1074"/><path d="M896 1037 898 1035 901 1034 903 1032 906 1033 908 1034 911 1036 913 1036 916 1035 918 1033 921 1032"/><path d="M999 1071 1002 1071 1004 1070 1007 1068 1009 1068 1012 1069 1014 1071 1017 1072 1019 1072 1022 1071 1024 1070 1027 1069 1029 1070 1032 1071 1034 1073 1037 1073 1039 1072 1042 1071 1044 1070"/><path d="M970 1089 972 1088 975 1087 977 1087 980 1089 982 1091 985 1091 987 1090 990 1089 992 1088 995 1088 997 1089 1000 1091 1002 1092 1005 1091 1007 1090 1010 1088 1012 1088"/><path d="M962 1074 965 1073 967 1071 970 1071 972 1073 975 1075 977 1076 980 1076 982 1075 985 1073 987 1073"/><path d="M928 1053 930 1053 933 1052 935 1050 938 1049 940 1050 943 1052 945 1053 948 1053 950 1052 953 1050 955 1049 958 1050 960 1051 963 1053 965 1053 968 1052 970 1051 973 1049 975 1050 978 1051 980 1053 983 1053 985 1053 988 1051 990 1050 993 1049"/><path d="M931 1061 933 1060 936 1058 938 1058 941 1060 943 1061 946 1061 948 1060 951 1058 953 1057 956 1057 958 1058 961 1059 963 1060 966 1059 968 1057 971 1056"/><path d="M976 1083 978 1082 981 1082 983 1083 986 1085 988 1087 991 1087 993 1086 996 1085 998 1084 1001 1085 1003 1087 1006 1089 1008 1090 1011 1089 1013 1088 1016 1087"/><path d="M1051 1067 1054 1068 1056 1068 1059 1066 1061 1065 1064 1066 1066 1067 1069 1069 1071 1070 1074 1070 1076 1069 1079 1068 1081 1068 1084 1069"/><path d="M926 1058 929 1057 931 1056 934 1056 936 1057 939 1059 941 1061 944 1061 946 1059 949 1058 951 1058 954 1059 956 1061 959 1063 961 1063 964 1062 966 1060 969 1060 971 1061 974 1063 976 1064 979 1065 981 1064 984 1063 986 1062"/></g><g fill="none" stroke="#5a3a88" stroke-linecap="round" opacity="0.72"><path d="M972 1047l1.8 -.3M958 1106l2.5 .9M924 1072l1.9 -.5M1006 1069l2.1 -1.2M895 1084l1.8 .9M923 1022l1.8 -.2M979 1102l1.7 -1.2M956 1106l2.4 -.3M988 1114l1.8 .1M1015 1112l2.1 .3M914 1095l2.7 -.2M929 1120l2.2 -1.5M988 1116l2.1 -1.0M945 1036l2.2 -.9M952 1111l2.2 1.3M997 1032l2.1 .6M954 1050l1.8 .2M921 1098l2 .8M949 1030l1.7 .6M910 1079l1.5 .9M1080 1117l2.2 .7M948 1028l2.3 .4M940 1111l1.6 -.8M887 1093l2.5 -.9M914 1090l2.2 -.8M894 1016l2.7 .2M949 1095l2.1 .9M906 1001l2 .3M943 1059l2.1 -.4M969 1103l2 -.7M1075 1115l1.9 -.3M965 1108l2.5 .5M897 1020l1.9 .8M904 1093l1.7 -1.2M973 1064l1.8 .5M1016 1110l1.8 .2M959 1091l2.3 .5M961 1100l1.5 1.0M904 1015l2.1 .8M966 1072l1.7 .9M1047 1059l2 -.6M893 1115l1.8 .9M964 1055l1.9 .6M949 1053l2.4 .8M1008 1077l2.5 .3M1035 1068l1.9 -.1M982 1030l2 .4M962 1076l2.2 .8M950 1098l2.2 .5M1072 1114l2 .8M988 1084l1.9 -.2M943 1086l2.1 -1.3M1030 1086l2.1 -.3M1090 1072l2.5 .1M931 1066l2.1 -.7M1094 1069l1.7 -1.1M970 1086l1.9 -.4M1067 1110l2.6 -.8M1067 1060l1.8 -1.0M1017 1061l2.7 -.1M919 1100l2.6 .5M1054 1111l2 -.9M1056 1065l1.8 .5M997 1032l2 1.3M917 1080l2.5 -.7M936 1065l2 -1.1M1022 1061l2.5 -.6M942 1018l2.3 .7M889 1089l1.9 -.5M996 1089l2.5 -.6M1020 1041l1.6 .9M1083 1065l1.9 1.2M897 1009l2.2 -.1M982 1033l1.8 -1.0M1028 1089l2.1 -.8M895 1095l1.7 -.4M1000 1051l1.6 -.8M966 1025l2.4 -1.3M943 1076l1.7 -.6M1024 1099l1.8 .2M1072 1076l1.9 .5M1001 1048l1.9 .8M949 1041l1.8 .0M955 1027l2.4 -1.1M1027 1077l2.1 -1.3M1034 1114l2.2 .3M1013 1058l2.4 .3M949 1115l2.6 .9M1000 1069l2.1 -1.2M893 1030l1.5 1.0M978 1054l1.8 -1.1M910 1014l1.6 .8M1074 1107l1.8 -1.2M979 1039l2.2 -.4M945 1028l2.2 1.0M994 1042l2.4 1.2M1057 1062l2.1 -1.3M992 1108l2.6 .9M892 1017l2.2 -.8M934 1106l2.6 .5M911 1054l1.9 -.2M990 1093l2.2 .2M1014 1098l2.1 .6M901 1017l2.4 .2M927 1077l1.7 .7M918 1056l1.7 -.9M888 1039l2.3 -.7M894 1019l2.2 .9M925 1019l2.1 -.6M963 1074l2.5 -.2M938 1062l2.2 -1.2M970 1068l2 .3M908 1079l2.5 .2M974 1094l2.6 .1M1036 1057l2.3 -1.5M1047 1091l1.8 .1M912 1111l2.3 -1.3M1019 1099l1.8 .3M1035 1071l2.2 -.3M979 1101l2.2 .5M1080 1066l2 -.4M958 1105l2.3 1.2M967 1026l2.4 -1.4M963 1056l2.1 .8M912 1060l1.8 1.2M1039 1077l1.8 .0M975 1111l1.8 .9M1038 1071l2.5 -.1M984 1075l2.5 -.7M885 1065l2.7 -.4M1016 1118l1.8 -1.1M947 1023l2.5 .9M961 1086l2 1.1M979 1061l2.5 .6M1019 1064l2.4 .0M933 1021l1.8 .0M958 1064l1.8 .7M949 1085l2 -.5M957 1119l2.1 .6M955 1118l2 .2M905 1100l2.5 -.2M903 1070l2.1 -1.3M915 1056l2.1 -1.3M1069 1082l2.1 -.5M1033 1069l2.1 -.9M913 1059l2.6 -1.0M1016 1094l2.1 1.3M964 1050l2.6 .2M1075 1102l1.9 -1.2M886 1116l2.2 -1.6M929 1027l1.9 -.0M1035 1101l1.8 1.2M988 1097l2.4 .8M1062 1119l2.5 .4" stroke-width="2.0"/><path d="M891 1122l3 -1.5M1006 1042l2.6 -1.4M943 1064l2.9 -.4M1017 1077l3.1 -.0M963 1032l2.7 -1.6M1021 1049l2.6 -1.7M984 1046l2.8 -.3M982 1117l3 1.3M900 1082l3.1 1.1M1070 1107l2.7 1.5M942 1044l2.6 1.3M1048 1121l2.7 -.4M1059 1058l3 1.0M985 1034l2.7 -1.7M1054 1121l3.1 .8M946 1050l3.2 .2M1066 1077l3 -1.2M979 1091l2.6 1.5M887 1046l3.2 -.6M998 1082l2.7 -.3M926 1110l2.8 1.7M956 1044l3 -.4M1036 1097l2.9 .1M1056 1075l2.5 1.4M910 1048l2.5 -1.2M932 1112l3.1 -1.1M918 1097l2.7 .8M916 1034l2.9 .4M952 1058l2.7 1.7M1095 1091l2.8 -1.4M979 1109l2.8 .3M983 1105l2.9 -1.3M1030 1056l2.7 -.4M1037 1078l2.9 1.1M960 1036l2.8 .1M984 1070l2.8 .1M955 1109l2.6 1.6M972 1074l3 -.0M1014 1053l2.5 -1.1M1065 1069l2.7 -1.2M1014 1098l2.7 -1.4M1049 1115l2.9 1.3M900 1054l2.6 -1.8M922 1099l2.5 -1.2M915 1120l3.3 .2M963 1044l2.7 -.8M938 1073l2.9 .0M1009 1095l3 1.2M943 1119l2.4 -1.4M927 1059l2.8 -1.5M946 1059l3.1 .5M1083 1062l3 .4M934 1050l2.8 1.4M1047 1091l2.9 .6M895 1027l2.4 -1.6M1045 1102l2.8 1.8M1013 1050l3.2 -.5M935 1103l2.8 -1.1M939 1032l3.2 -.4M951 1100l3 .5M932 1081l2.9 -.4M1085 1083l2.8 -.2M893 1068l2.7 1.7M1091 1082l3 -.1M1031 1080l3.1 -.5M923 1109l2.9 .7M1067 1058l2.5 1.4M967 1030l3.1 -1.0M892 1078l2.9 -.6M968 1032l2.7 -1.2M1004 1071l2.8 1.3M1048 1064l2.6 -1.8M915 1019l3.1 .7M1078 1084l2.9 -1.1M1036 1099l2.7 .8M1000 1102l2.9 -.1M1083 1086l2.8 .6M911 1059l2.9 -1.1M1070 1085l3.1 -.2M1022 1056l3.1 -.5M981 1077l2.6 -1.8M1066 1084l3 -.7M903 1092l3.1 -.3M915 1055l3.1 -.6M922 1062l3.2 -.1M973 1066l2.9 -1.4M943 1064l2.5 -1.7M998 1121l3.1 -1.0M979 1105l3.2 -.7M973 1097l2.9 -.7M986 1107l3 1.2M902 1004l3.1 .8M942 1084l3.3 .3M916 1048l2.9 -1.4M1007 1104l2.6 .8M976 1083l2.7 -1.4" stroke-width="3.0"/></g><ellipse cx="843" cy="1068" rx="14" ry="60" fill="#ad6dbb" /><ellipse cx="873" cy="1068" rx="12" ry="58" fill="#ad6dbb" /><ellipse cx="818" cy="1068" rx="9" ry="60" fill="#ad6dbb" /><ellipse cx="1018.7" cy="1090" rx="22" ry="16" fill="#ad6dbb" /><ellipse cx="1055.6" cy="1108" rx="28" ry="16" fill="#ad6dbb" /><ellipse cx="960" cy="1121" rx="25" ry="10" fill="#ad6dbb" /><g fill="none" stroke="#4f2c7a" stroke-linecap="round" opacity="0.78"><path d="M854 1076l.6 .4M864 1084l.7 -.1M999 1087l.7 -.0M818 1065l.5 -.1M839 1014l.6 -.1M941 1116l.5 -.3M847 1015l.7 -.0M1021 1102l.6 -.1M1044 1114l.5 .2M1033 1115l.7 -.2M1040 1115l.7 .2M835 1092l.6 -.4M1039 1109l.5 .1M1032 1113l.4 -.3M866 1087l.7 -.1M870 1050l.5 .3M867 1051l.5 -.2M1036 1098l.4 .2M847 1067l.5 -.1M839 1029l.4 -.2M851 1064l.6 .2M1038 1105l.6 -.3M1052 1106l.6 -.3M871 1112l.4 -.2M853 1054l.5 .2M849 1090l.5 -.3M841 1111l.6 .3M822 1059l.5 -.1M962 1116l.5 .2M836 1040l.6 -.1M873 1119l.6 .2M954 1117l.6 .1M1015 1089l.5 .1M1029 1084l.6 .1M870 1067l.6 .0M1070 1096l.5 .2M839 1053l.5 -.2M1015 1087l.7 .1M818 1075l.6 -.1M837 1054l.6 .3M842 1093l.5 -.2M820 1104l.4 -.2M822 1035l.5 .3M1001 1093l.5 .3M863 1063l.5 -.2M880 1038l.5 .3M880 1031l.6 -.2M869 1106l.7 .1M836 1057l.6 -.2M839 1076l.6 -.1M853 1055l.5 -.1M1029 1101l.6 .2M1054 1101l.5 -.1M822 1045l.7 .1M823 1062l.5 -.2M846 1070l.7 .0M941 1117l.7 .1M1028 1096l.4 -.2M1017 1105l.5 -.1M870 1032l.7 -.3M818 1029l.4 .1M835 1050l.4 .2M835 1064l.6 .2M1008 1087l.5 .1M822 1091l.4 -.3M1060 1108l.7 .1M1039 1091l.6 .2M838 1115l.4 .1M877 1107l.5 -.3M822 1030l.5 -.2M874 1081l.4 -.2M844 1031l.7 .1M1055 1118l.7 .1M826 1062l.4 -.3M1078 1114l.5 -.0M850 1074l.7 -.0M833 1101l.5 .1M1033 1106l.5 -.3M837 1055l.5 -.3M942 1121l.6 .2M852 1044l.5 -.3M854 1045l.6 -.3M1074 1098l.6 .3M820 1104l.5 -.2M833 1032l.6 .1M846 1081l.7 -.2M851 1043l.5 .4M948 1114l.5 -.1M841 1106l.7 .1M873 1114l.5 .0M949 1113l.6 .2M839 1053l.4 -.2M1019 1088l.5 .2M842 1110l.6 .4M1012 1079l.5 .0M869 1068l.6 .4M882 1033l.5 .1M1024 1096l.7 .1M850 1040l.6 .3M1001 1093l.6 .0M822 1088l.5 -.1M847 1087l.5 -.1M821 1053l.5 -.2M846 1113l.5 .2M822 1050l.7 .1M1015 1079l.5 .2M1064 1111l.4 -.2M824 1074l.5 .3M878 1084l.5 -.2M846 1068l.4 .2M1082 1107l.6 .1M818 1044l.5 .0M820 1089l.5 .2M819 1069l.6 -.1M852 1051l.6 .2M852 1096l.5 .1M820 1091l.4 .3M1064 1113l.6 -.0M1067 1098l.6 .2M1052 1098l.6 -.0M855 1047l.7 -.1M1036 1104l.6 .2M868 1096l.6 -.3M945 1115l.5 -.1M823 1066l.7 .1M1032 1088l.5 .2M1001 1087l.7 -.1M848 1027l.6 .1M882 1074l.5 -.3M840 1063l.6 -.3M838 1059l.6 -.2M873 1026l.7 .1M875 1038l.7 -.2M877 1069l.5 -.3M867 1088l.5 -.1M874 1121l.5 .1M1043 1119l.5 .3M853 1041l.4 .2M1069 1107l.5 -.1M1036 1104l.5 .0M1044 1101l.6 -.3M869 1076l.7 -.2M863 1051l.5 .2M1028 1088l.6 .0M869 1050l.5 -.0M864 1063l.5 -.1M1005 1093l.6 -.1M1061 1117l.4 .1M833 1039l.5 -.3M1014 1101l.4 .3M1020 1092l.4 -.1M1033 1086l.5 .1M866 1084l.6 .1M843 1026l.6 .0M864 1089l.5 -.2M1075 1099l.4 .3M1025 1101l.5 .3M864 1099l.7 -.2M1000 1093l.7 -.2M879 1023l.5 -.1M876 1110l.4 -.1M846 1017l.6 -.2M881 1054l.7 -.0M871 1075l.6 -.1M1010 1100l.6 -.1M946 1114l.7 -.1M836 1066l.5 -.2M872 1065l.6 .2M879 1034l.5 .2M1023 1095l.5 .1M1020 1092l.5 .3M1014 1100l.6 .4M1030 1105l.6 .1M846 1035l.6 -.1M855 1082l.5 -.2M965 1114l.5 .0M969 1115l.5 .2M840 1025l.5 -.1M826 1044l.5 -.1M863 1079l.7 .2M1054 1114l.6 -.0M881 1079l.5 -.2M835 1107l.5 .0M848 1057l.5 -.2M1080 1112l.4 .3M877 1056l.7 -.0M837 1046l.5 -.1M1013 1078l.7 -.0M872 1063l.6 .1M817 1018l.6 -.0M878 1075l.5 .1M845 1092l.6 .2M982 1122l.5 -.2M967 1122l.5 -.1M1081 1111l.6 .0M820 1061l.6 .1M823 1052l.5 -.3M1036 1094l.7 -.1M873 1079l.5 .2M818 1059l.7 .2M855 1076l.6 .2M851 1076l.6 -.3M856 1062l.5 .3M853 1101l.5 .1M838 1038l.5 -.1M1017 1087l.6 .3M978 1119l.7 .1M848 1114l.5 -.2M1043 1106l.5 -.1M1045 1096l.6 .2M1039 1089l.5 -.2M1001 1082l.5 -.4M847 1079l.6 .1M837 1107l.4 -.3M875 1065l.4 .2M835 1108l.6 .0M848 1092l.5 -.2M855 1090l.6 .3M1039 1112l.5 -.0M830 1052l.5 .0M854 1041l.6 -.0M873 1018l.5 -.3M848 1080l.6 .2M851 1072l.6 -.1M1030 1082l.5 .3M845 1118l.6 .1M833 1064l.6 -.0M846 1039l.5 -.0M866 1089l.5 .3M1072 1109l.4 -.2M871 1081l.4 .3M1033 1115l.6 -.1M824 1063l.6 -.3M848 1051l.6 -.3M835 1037l.7 .0M868 1115l.6 -.1M852 1110l.5 .3M1026 1081l.5 .2" stroke-width="2.0"/><path d="M818 1031l.4 -.2M1019 1100l.4 .2M838 1085l.4 .2M866 1048l.4 .1M1035 1098l.4 .1M862 1079l.4 .0M874 1074l.4 -.2M833 1052l.4 -.1M848 1085l.4 -.0M1014 1097l.4 -.0M817 1090l.4 -.0M1026 1089l.4 .0M874 1067l.4 -.2M877 1053l.4 .0M864 1081l.4 -.1M870 1055l.4 -.2M880 1078l.4 .1M1030 1096l.4 .1M1061 1103l.4 .2M818 1099l.4 -.2M826 1046l.4 -.2M841 1094l.4 .1" stroke-width="1.0"/></g><path d="M815.0,946.0C819.2,946.4 827.6,947.1 840.0,948.5C852.4,949.9 872.2,950.9 889.2,954.3C906.2,957.7 926.6,964.7 942.0,968.9C957.4,973.1 968.5,974.8 981.7,979.4C994.9,984.0 1008.1,991.3 1021.3,996.6C1034.5,1001.9 1051.8,1006.9 1061.0,1011.1C1070.2,1015.3 1070.1,1019.9 1076.8,1021.7C1083.5,1023.5 1097.0,1021.7 1101.0,1021.7L1101.0,1068.0C1094.2,1065.3 1076.8,1058.2 1060.0,1052.0C1043.2,1045.8 1019.7,1038.5 1000.0,1031.0C980.3,1023.5 960.5,1012.7 942.0,1007.0C923.5,1001.3 898.7,977.3 889.0,996.6C879.3,1015.9 896.3,1101.9 884.0,1123.0C871.7,1144.1 826.5,1123.0 815.0,1123.0Z" fill="#b56cc0"/><g fill="none" stroke="#6e3288" stroke-linecap="round" opacity="0.7"><path d="M869 1026l.8 .3M843 985l.6 .2M870 973l.7 -.0M906 971l.7 -.4M1032 1004l1 -.1M837 1049l.9 -.3M850 974l.6 -.3M974 1013l.7 .2M854 1052l.7 -.1M876 1003l1 .2M845 1120l.7 -.2M842 1040l.7 .1M887 963l.8 .5M872 1112l1 .1M828 1114l.7 .2M866 1067l.6 -.2M821 979l.7 -.4M866 998l.8 -.4M1093 1054l.9 .1M822 1104l.8 .5M823 1050l.8 .2M838 1033l.8 .4M1060 1038l.9 -.1M1022 1002l.9 .1M840 1073l.6 .1M1013 1023l.8 .4M873 1010l.8 .5M981 988l.7 -.0M944 980l.7 -.1M993 1022l.7 .3M1016 1037l.7 .3M822 953l.7 -.5M994 1013l.9 .2M820 1018l.9 -.4M893 993l.9 .0M853 1014l.8 .4M840 1012l.8 .3M856 955l.8 .2M879 1029l.7 .2M996 1028l1 .1M904 1000l.9 .5M1090 1027l.7 .3M852 1011l.9 .5M951 988l.7 .1M871 970l.9 -.2M846 1069l.7 .0M887 965l.8 -.1M874 1049l.9 .0M1056 1046l.9 -.3M878 1122l.9 -.4M884 1068l.7 -.4M822 965l.8 .4M869 965l.8 .6M834 1112l.8 .3M962 1010l.7 -.5M868 1015l.9 -.1M872 958l.7 -.5M994 1005l.9 .0M1032 1005l.8 -.5M820 995l.9 .1M882 1111l.9 -.2M831 964l.7 -.4M829 1108l.7 -.0M864 1023l.8 -.5M920 982l.9 .1M861 1074l.7 .4M837 1103l.8 -.0M993 1015l.6 -.4M945 977l.9 -.1M849 1101l.9 .1M918 979l.9 .1M841 1058l.8 .1M876 993l.9 .4M936 976l1 -.2M937 998l.6 .3M975 1021l.9 -.2M877 1056l.7 -.2M887 997l.8 -.1M928 1002l.7 .1M1041 1032l1 .1M866 1075l1 -.3M823 1027l.9 .1M1089 1054l.8 -.5M841 1050l.7 .2M879 1076l.8 .3M1086 1051l.8 .2M1043 1009l.7 -.3M874 1009l.6 .4M833 986l.7 .1M834 1015l.8 .4M869 968l.7 .2M869 981l.7 .2M1047 1020l.7 .3M831 1112l1 -.1M820 1018l.7 .3M861 957l.7 -.2M1061 1027l.7 .5M859 1077l.6 .2M840 979l.8 -.4M1086 1041l1 -.2M861 1089l.7 -.2M838 986l.8 .2M847 1003l.7 .4M820 1000l.9 -.3M976 1015l.5 .4M901 992l.8 .2M889 965l.9 -.2M1083 1036l.9 -.2M867 1005l1 .1M842 970l.6 -.3M925 991l.7 -.4M822 991l.8 .1M847 1000l.8 .3M1049 1045l.7 .2M1071 1033l.8 .0M872 1111l.8 -.3M840 974l.8 .2M852 1116l.6 .3M1047 1044l.6 .3M884 1038l.9 -.4M873 1018l.7 -.1M977 991l.8 -.5M1087 1043l.8 -.1M852 1013l.8 -.1M831 1062l.8 -.3M879 1072l.8 .4M845 1081l.7 .0M885 985l.7 -.4M929 996l.7 -.5M825 1102l.8 -.0M874 1050l.6 .3M880 986l.9 -.3M868 972l.8 .3M1066 1041l.7 -.2M1078 1056l.7 .1M842 1118l.8 .0M841 982l.9 -.3M1037 1027l.8 .3M883 1022l.7 .1M867 955l.6 -.0M837 1104l.9 .0M858 987l.6 -.1M842 1087l.7 -.2M862 1061l.9 .3M834 1006l.7 -.3M828 973l.9 -.4M927 984l.7 -.4M826 1121l.9 .3M881 975l.8 -.3M828 1005l.8 -.5M1060 1042l1 -.0M877 994l.7 .0M863 966l.7 -.0M1096 1059l.9 -.3M1011 997l.6 -.4M868 977l.7 .4M907 1001l.6 .3M928 973l.6 -.3M858 966l.7 .2M931 1002l.9 -.3M899 994l.6 -.4M824 1049l.8 .3M878 1061l.8 .5M937 1003l.7 -.1M864 1056l.6 -.4M859 1040l.9 .1M927 997l.7 -.1M832 1023l.9 -.0M908 975l.6 -.1M1068 1037l.7 .2M869 1017l.8 .5M855 1025l.8 -.1M871 971l.9 -.3M817 1032l.8 -.2M862 1048l.8 .1M921 982l.9 .0M883 975l.7 -.3M846 1064l.7 -.0M1034 1020l.6 .3M976 1008l.9 .1M852 1000l.9 -.3M1010 1008l.9 -.1M831 1066l.6 -.4M922 986l.9 .4M1012 1033l.9 -.4M881 1020l.8 -.2M839 961l.7 .5M874 1096l.8 -.1M833 1034l.9 .1M824 959l.6 -.3M926 998l.8 .3M843 992l.9 -.3M1026 1033l.8 -.4M847 954l.8 -.1M819 1024l.8 -.2M874 1098l.7 .2M847 1119l.7 .4M879 1006l.9 -.4M995 1000l.8 -.3M1058 1049l.8 .1M849 1090l.9 -.1M1004 1008l.8 -.3M993 1013l.9 .1M852 1120l.8 -.3M837 1035l1 -.0M885 1082l.9 .3M827 993l.9 .4M850 961l.7 .3M837 1119l.7 .1M872 1057l.7 -.5M912 988l.9 -.2M1012 1017l.6 -.3M1082 1045l.7 -.3M1097 1061l.9 -.2M858 1049l.7 .3M883 1039l.7 .3M935 981l.7 .4M935 992l.9 .4M845 1102l.7 -.1M1005 993l.9 .5M823 1050l.8 -.1M948 988l.9 .1M835 1016l.8 .2M878 1120l.7 -.1M857 1003l.8 -.5M864 1053l.9 .3M850 1017l.6 .3M823 995l.9 .0M848 1080l.8 .0M852 1037l.6 -.3M961 983l.9 -.3M878 1014l.9 -.0M1090 1029l.8 .1M860 1086l.9 .2M861 1030l.6 -.3M830 1007l.6 -.2M848 1106l.8 -.0M1083 1037l.7 .4M928 985l.9 -.3M951 996l.8 -.0M831 1090l.7 .0M971 1004l.6 -.3M921 987l.8 -.3M1028 1021l.6 -.1M921 985l.9 .1M888 979l1 -.1M841 1119l1 -.2M833 1075l.7 .1M1024 1007l.8 .5M1037 1012l.9 -.1M850 989l.8 -.5M849 1089l.9 .1M876 1007l.8 .3M851 1097l.7 -.4M938 1000l.8 .5M846 1071l.7 .1M874 994l.7 -.1M835 1087l.8 .2M827 1063l.9 .1M873 1031l.8 -.4M1032 1040l.9 .5M899 975l.7 -.0M893 982l.8 .0M1023 1030l.8 .4M832 1109l.7 .3M882 1014l.8 .2M1082 1025l.9 -.2M882 1112l.6 .4M965 995l.8 -.3M1015 1008l.7 -.4M1091 1036l.7 -.2M822 1022l.9 .2M911 994l.6 .2M965 991l.9 -.1M883 1099l.6 -.3M884 1054l.7 .0M869 971l.7 -.2M1039 1032l.6 .2M886 968l.7 .5M924 982l.8 .3M821 1024l.7 -.4M855 1059l1 .3M837 962l.7 -.4M903 962l.7 .0M862 991l.8 -.2M1055 1017l.6 .4M1031 1004l.6 -.3M866 1070l.6 -.4M879 1082l.8 .2M821 985l.6 -.2M991 998l.8 .1M906 996l1 .1M844 1060l.8 .1M962 1000l.6 -.0M995 1016l.7 -.0M959 1009l.7 .4M958 993l.7 -.2M823 1026l.7 .3M1079 1052l.7 .1M847 1118l1 -.2M869 1062l.8 .5M997 1022l.8 -.1M823 957l.9 -.3M1012 1027l.7 -.2M869 1053l.8 .5M910 980l.8 -.0M827 1095l.9 -.0M873 1040l.7 -.2M1084 1051l.8 -.1M1031 1034l.8 .5M859 1034l.7 .2M1015 1015l.7 -.4M837 979l.9 -.1M853 1009l.8 .3M830 1065l.6 -.4M837 1003l.7 -.4M851 985l.7 .3M960 1006l.7 .4M1016 1014l.8 -.1M944 988l.9 -.1M880 1077l.7 .5M821 1007l.9 -.3M872 1105l.7 .1M1027 1039l.7 .2M864 1048l1 .2M987 1016l.7 .5M838 985l.9 .2M894 996l.7 -.5M859 986l.9 .5M887 961l.6 -.3M876 1064l.9 -.2M950 987l.8 .3M880 1047l.6 .4M1074 1059l.7 -.1M881 997l.7 .2M830 1062l.6 .3M823 1062l.7 -.2M917 996l.7 -.2M1055 1018l.8 -.2M1012 1024l.8 -.1M897 963l.9 .4M1026 1015l.8 .1M962 986l1 .0M858 1002l.8 -.4M878 1013l.8 -.2M822 969l.8 -.3M837 1075l.7 .4M826 1082l.7 -.2M825 958l.7 .4M907 977l.9 -.4M975 1001l.9 -.3M835 962l.7 -.2M1092 1057l.9 -.1M1019 1022l.7 -.0M867 1024l.8 .3M870 1068l.6 .3M826 963l.8 .3M831 1088l.6 -.3M848 982l.6 -.3M873 1051l.7 -.3M968 999l.7 .1M960 1002l.7 -.4M1067 1041l.8 .0M897 983l.9 .3M869 1003l.9 .3M848 1118l.8 .4M857 1005l.8 -.4M871 1013l.8 .6M891 998l.9 -.3M974 992l.5 -.4M817 990l.6 .4M935 988l.8 -.2M1025 1017l.8 -.4M874 1047l.6 -.4M1022 1038l.8 .5M827 1016l.9 .2M1066 1034l.8 .4M995 1018l.6 -.0M833 951l.9 .2M953 1004l.8 -.1M859 1009l.8 .3M942 983l.7 .4M1066 1021l.6 -.3M835 1058l.7 -.0M857 1079l.6 -.4M987 1018l.7 .4M875 1052l.6 .3M1084 1047l.7 .2M828 1025l.7 .0M887 1034l.7 -.3M844 959l1 -.0M998 997l.7 -.3M1091 1044l.7 .2M916 995l.9 .4M888 987l.6 .2M857 1051l.9 -.5M880 1098l.8 -.0M873 983l.8 -.2M909 963l.6 -.3M1040 1044l.6 -.0M985 988l.7 -.1M1061 1038l.6 .3M842 1035l.6 -.3M1096 1039l.8 .5M966 1007l.8 .2M843 954l.6 -.3M817 1033l.6 .3M836 978l.9 .1M1004 1007l.8 -.3M947 976l.8 -.4M855 964l.8 .1M817 1119l1 -.1M851 958l.6 .3M853 995l.7 .1M948 998l.8 .2M829 1002l.7 -.4M825 988l.8 -.2M855 1042l1 -.1M821 1076l.7 .2M870 987l.9 .3M874 1102l1 .0M831 982l.8 -.1M1082 1043l.8 -.5M913 970l.6 -.3M955 1000l.6 -.4M900 984l.6 -.4M1038 1035l.8 -.2M1028 1024l.9 .4M1006 1016l.8 .1M831 1019l.7 .4M863 1036l.7 .2M819 970l.8 .4M839 1065l.8 -.5M1080 1029l.7 -.0M852 1013l.7 .2M848 991l.8 -.0M881 974l.8 .1M876 1069l.8 -.5M883 973l.8 .4M1018 1018l.9 .3M960 979l.8 .2M858 1116l.7 -.2M834 1069l.7 .4M1012 998l.8 -.5M1043 1016l.7 -.0M1008 1033l.6 -.4M929 974l.7 -.2M1074 1058l.6 .3M990 995l.7 -.4M1060 1046l.6 -.4M820 989l.6 .4M928 980l.8 -.4M852 1043l.8 .3M872 1030l.6 -.4M915 981l.9 .3M832 951l.9 .4M861 1037l.9 .1M855 1116l.8 -.2M836 1057l.7 -.3M842 1040l.6 -.3M1019 1029l.6 .2M834 1100l1 -.0M980 1007l.8 -.2M817 1114l.8 .5M882 969l.6 -.4M956 1008l.7 .4M825 1045l.8 -.5M836 983l.6 .3M917 966l.8 .1M885 1003l.8 -.5M873 1020l.8 .0M842 1062l.7 -.4M851 1109l.9 .4M818 950l.6 .2M987 1019l.7 .1M855 985l.7 -.0M825 1096l.8 .3M858 1037l.7 -.0M839 1007l.9 .3M1057 1016l.7 -.4M1039 1038l.7 -.3M1049 1045l1 .1M862 980l1 .1M830 965l.7 .3M1082 1042l.6 -.4M825 1084l.9 -.4M821 1039l.7 .1M845 1078l.7 .2M908 1000l.8 -.3M825 997l.7 .3M851 1012l.9 .5M963 1015l.7 .2M841 971l.7 -.3M993 1020l.9 -.2M877 1069l.7 .5M1097 1048l.7 -.4M822 1042l.9 .1M1037 1011l.9 .1M842 1058l.9 -.1M864 1026l.7 -.3M842 1094l.5 .4M996 1016l.7 -.1M849 1031l.8 .1M1040 1043l.7 .4M830 1053l.8 -.2M862 971l.8 -.1M991 1018l.9 .3M883 1117l.8 -.2M940 1004l.9 .0M843 1120l.6 -.3M825 960l.8 .3M822 958l.6 -.3M1089 1053l1 .1M1073 1058l.7 -.1M873 1022l.9 -.3M885 962l.8 .2M881 1061l.8 .3M841 1052l.6 -.4M840 1032l.7 -.2M1033 1013l.7 .2M1097 1048l.8 .0M853 1025l.7 .1M1033 1022l.7 -.4M965 995l.8 .3M819 1020l.8 -.4M930 974l.9 -.1M1009 1009l1 .1M846 1022l.7 -.2M820 1070l.8 -.5M882 1079l.9 -.3M870 1029l.9 -.0M998 1006l1 .0M1011 1034l.7 -.3M988 1010l.7 -.2M906 987l.8 -.1M822 1098l.6 -.2M1081 1058l.9 .4M867 1025l.7 -.1M856 976l.7 .1M1020 1037l.9 -.4M875 1075l.8 .4M859 976l.6 -.4M925 1000l.8 -.1M862 1004l.6 .2M919 990l.7 -.5M1054 1050l.7 .1" stroke-width="2.0"/><path d="M945 980l.9 .6M817 967l1 -.0M841 991l1 .3M877 978l1 .4M868 956l.9 .4M839 1051l.9 .5M874 959l1 .2M877 1102l.9 .6M875 1093l1 .0M968 1007l.9 .5M967 1002l1 .2M1089 1037l1 .2M1020 1017l1 .4M1036 1030l.9 .5M1016 1037l.9 .5M928 992l1 .2M1039 1008l.9 -.5M856 1066l1 .0M826 961l.9 .5M869 1102l.9 -.6M1009 1028l.9 -.4M919 992l1 .1M820 967l.8 -.6M916 981l1 -.2M868 996l.9 -.4M1041 1026l.9 -.5M1007 1015l1 -.1M981 1020l1 -.2M1011 997l1 .3M825 1038l1 .2M921 995l.8 .6M875 1098l.9 .5M857 1066l.9 -.4M1031 1029l.9 -.5M946 991l1 -.3M1085 1047l1 .3M883 1019l.9 -.5M838 974l1 .1M865 1017l1 .2M884 980l1 .2M1055 1044l.8 -.5M1000 1018l.9 .3M861 1088l1 -.4M839 1009l.9 .4M987 994l1 -.2M1050 1048l1 .1M861 1115l.9 .5M864 1068l1 -.4M1032 1019l1 -.3M834 1058l1 .0M974 1006l.9 -.4M893 997l.9 .4M869 1113l1 -.0M824 1104l1 -.2" stroke-width="3.0"/></g><path d="M828,1012 C826,1040 833,1075 829,1121 M860,1012 C864,1045 857,1085 862,1121 M884,1003 C890,1040 882,1080 887,1121" fill="none" stroke="#e9b4da" stroke-width="2.2" opacity="0.85"/><path d="M828,1012 C838,1004 850,1008 860,1012 M860,1012 C868,1006 876,1004 884,1003" fill="none" stroke="#e9b4da" stroke-width="1.8" opacity="0.85"/><path d="M815.0,944.8C819.2,945.2 827.6,945.9 840.0,947.3C852.4,948.7 872.2,949.7 889.2,953.1C906.2,956.5 926.6,963.5 942.0,967.7C957.4,971.9 968.5,973.6 981.7,978.2C994.9,982.8 1008.1,990.1 1021.3,995.4C1034.5,1000.7 1051.8,1005.7 1061.0,1009.9C1070.2,1014.1 1070.1,1018.7 1076.8,1020.5C1083.5,1022.3 1097.0,1020.5 1101.0,1020.5" fill="none" stroke="#d96aa6" stroke-width="2.2"/><path d="M980,978 C995,976 1010,982 1030,992 L1028,994 C1010,986 995,982 982,981Z" fill="#e27fb3"/><ellipse cx="834" cy="972" rx="4" ry="6" fill="#f0d0e4" /><path d="M818,927.5 C822,927 826,928 830,929.5" stroke="#555" stroke-width="1" fill="none"/></g><rect x="881.6" y="1086.9" width="162.39999999999998" height="28.199999999999818" fill="#fff"/><text x="888.53" y="1105.70" font-family="Liberation Sans" font-size="17.20" font-weight="bold" font-style="normal" fill="#111" textLength="148.18" lengthAdjust="spacingAndGlyphs" >High Protein + IMQ</text><line x1="1073" y1="1108.2" x2="1094" y2="1108.2" stroke="#222" stroke-width="0.9"/><text x="1073.28" y="1106.00" font-family="Liberation Sans" font-size="6.20" font-weight="bold" font-style="normal" fill="#222" textLength="20.65" lengthAdjust="spacingAndGlyphs" >50 µm</text></g><path d="M102.3,1219.2L102.3,1427.9L269.5,1427.9" stroke="#000" stroke-width="1.9" fill="none"/><line x1="98.10" y1="1427.90" x2="102.30" y2="1427.90" stroke="#000" stroke-width="1.8"/><text x="89.56" y="1432.30" font-family="Liberation Sans" font-size="12.50" font-weight="bold" font-style="normal" fill="#000" textLength="6.95" lengthAdjust="spacingAndGlyphs" >0</text><line x1="98.10" y1="1386.16" x2="102.30" y2="1386.16" stroke="#000" stroke-width="1.8"/><text x="74.38" y="1390.56" font-family="Liberation Sans" font-size="12.50" font-weight="bold" font-style="normal" fill="#000" textLength="22.20" lengthAdjust="spacingAndGlyphs" >500</text><line x1="98.10" y1="1344.42" x2="102.30" y2="1344.42" stroke="#000" stroke-width="1.8"/><text x="66.90" y="1348.82" font-family="Liberation Sans" font-size="12.50" font-weight="bold" font-style="normal" fill="#000" textLength="29.63" lengthAdjust="spacingAndGlyphs" >1000</text><line x1="98.10" y1="1302.68" x2="102.30" y2="1302.68" stroke="#000" stroke-width="1.8"/><text x="66.90" y="1307.08" font-family="Liberation Sans" font-size="12.50" font-weight="bold" font-style="normal" fill="#000" textLength="29.63" lengthAdjust="spacingAndGlyphs" >1500</text><line x1="98.10" y1="1260.94" x2="102.30" y2="1260.94" stroke="#000" stroke-width="1.8"/><text x="67.24" y="1265.34" font-family="Liberation Sans" font-size="12.50" font-weight="bold" font-style="normal" fill="#000" textLength="29.28" lengthAdjust="spacingAndGlyphs" >2000</text><line x1="98.10" y1="1219.20" x2="102.30" y2="1219.20" stroke="#000" stroke-width="1.8"/><text x="67.24" y="1223.60" font-family="Liberation Sans" font-size="12.50" font-weight="bold" font-style="normal" fill="#000" textLength="29.28" lengthAdjust="spacingAndGlyphs" >2500</text><text x="171.18" y="1198.70" font-family="Liberation Sans" font-size="15.50" font-weight="bold" font-style="italic" fill="#000" textLength="28.89" lengthAdjust="spacingAndGlyphs" >IL-6</text><g transform="translate(61.2,1427.9) rotate(-90)"><text x="-1.07" y="0.00" font-family="Liberation Sans" font-size="16.00" font-weight="bold" font-style="normal" fill="#000" textLength="217.71" lengthAdjust="spacingAndGlyphs" >mRNA expression [% of CT]</text></g><path d="M118.95,1415.00L118.95,1421.00M112.83,1415.00L125.07,1415.00M112.83,1421.00L125.07,1421.00" stroke="#333" stroke-width="1.1" fill="none"/><path d="M143.25,1413.50L143.25,1421.00M137.13,1413.50L149.37,1413.50M137.13,1421.00L149.37,1421.00" stroke="#888" stroke-width="1.1" fill="none"/><path d="M167.45,1362.40L167.45,1410.00M161.41,1362.40L173.49,1362.40M161.41,1410.00L173.49,1410.00" stroke="#e0a0a0" stroke-width="1.1" fill="none"/><path d="M203.95,1346.50L203.95,1388.00M197.91,1346.50L209.99,1346.50M197.91,1388.00L209.99,1388.00" stroke="#888" stroke-width="1.1" fill="none"/><path d="M228.55,1381.30L228.55,1395.00M222.43,1381.30L234.67,1381.30M222.43,1395.00L234.67,1395.00" stroke="#888" stroke-width="1.1" fill="none"/><path d="M252.75,1381.70L252.75,1402.00M246.56,1381.70L258.94,1381.70M246.56,1402.00L258.94,1402.00" stroke="#888" stroke-width="1.1" fill="none"/><rect x="111.7" y="1418.3" width="14.499999999999995" height="9.600000000000136" fill="#fff" stroke="#222" stroke-width="1.6"/><rect x="135.2" y="1417.6" width="16.100000000000023" height="10.300000000000182" fill="#035c0a"/><rect x="159.5" y="1386" width="15.900000000000006" height="41.90000000000009" fill="#c00000"/><rect x="196.8" y="1366.7" width="14.300000000000006" height="61.200000000000045" fill="#fff" stroke="#222" stroke-width="1.6"/><rect x="220.5" y="1387.8" width="16.099999999999994" height="40.100000000000136" fill="#035c0a"/><rect x="244.6" y="1392" width="16.299999999999983" height="35.90000000000009" fill="#c00000"/><path d="M118.95,1415.00L118.95,1421.00M112.83,1415.00L125.07,1415.00M112.83,1421.00L125.07,1421.00" stroke="#333" stroke-width="1.1" fill="none"/><path d="M203.95,1346.50L203.95,1388.00M197.91,1346.50L209.99,1346.50M197.91,1388.00L209.99,1388.00" stroke="#888" stroke-width="1.1" fill="none"/><circle cx="114.10" cy="1423.20" r="2.5" fill="#fff" stroke="#111" stroke-width="1.2"/><circle cx="119.50" cy="1418.90" r="2.5" fill="#fff" stroke="#111" stroke-width="1.2"/><circle cx="124.90" cy="1414.60" r="2.5" fill="#fff" stroke="#111" stroke-width="1.2"/><circle cx="126.00" cy="1420.00" r="2.5" fill="#fff" stroke="#111" stroke-width="1.2"/><circle cx="139.90" cy="1403.90" r="2.5" fill="#fff" stroke="#111" stroke-width="1.2"/><circle cx="143.10" cy="1403.90" r="2.5" fill="#fff" stroke="#111" stroke-width="1.2"/><circle cx="146.40" cy="1400.70" r="2.5" fill="#fff" stroke="#111" stroke-width="1.2"/><circle cx="137.80" cy="1423.20" r="2.5" fill="#fff" stroke="#111" stroke-width="1.2"/><circle cx="143.10" cy="1423.20" r="2.5" fill="#fff" stroke="#111" stroke-width="1.2"/><circle cx="149.60" cy="1421.00" r="2.5" fill="#fff" stroke="#111" stroke-width="1.2"/><circle cx="147.40" cy="1425.40" r="2.5" fill="#fff" stroke="#111" stroke-width="1.2"/><circle cx="167.80" cy="1295.80" r="2.5" fill="#fff" stroke="#111" stroke-width="1.2"/><circle cx="167.80" cy="1325.90" r="2.5" fill="#fff" stroke="#111" stroke-width="1.2"/><circle cx="162.50" cy="1425.40" r="2.5" fill="#fff" stroke="#111" stroke-width="1.2"/><circle cx="167.80" cy="1423.20" r="2.5" fill="#fff" stroke="#111" stroke-width="1.2"/><circle cx="173.20" cy="1423.20" r="2.5" fill="#fff" stroke="#111" stroke-width="1.2"/><circle cx="162.00" cy="1427.50" r="2.5" fill="#fff" stroke="#111" stroke-width="1.2"/><circle cx="204.40" cy="1247.70" r="2.5" fill="#fff" stroke="#111" stroke-width="1.2"/><circle cx="204.40" cy="1286.10" r="2.5" fill="#fff" stroke="#111" stroke-width="1.2"/><circle cx="204.40" cy="1334.50" r="2.5" fill="#fff" stroke="#111" stroke-width="1.2"/><circle cx="204.40" cy="1340.90" r="2.5" fill="#fff" stroke="#111" stroke-width="1.2"/><circle cx="204.40" cy="1385.60" r="2.5" fill="#fff" stroke="#111" stroke-width="1.2"/><circle cx="204.40" cy="1397.40" r="2.5" fill="#fff" stroke="#111" stroke-width="1.2"/><circle cx="204.40" cy="1408.20" r="2.5" fill="#fff" stroke="#111" stroke-width="1.2"/><circle cx="198.60" cy="1421.70" r="2.5" fill="#fff" stroke="#111" stroke-width="1.2"/><circle cx="204.40" cy="1421.70" r="2.5" fill="#fff" stroke="#111" stroke-width="1.2"/><circle cx="210.20" cy="1421.70" r="2.5" fill="#fff" stroke="#111" stroke-width="1.2"/><circle cx="222.60" cy="1365.20" r="2.5" fill="#fff" stroke="#111" stroke-width="1.2"/><circle cx="234.50" cy="1361.30" r="2.5" fill="#fff" stroke="#111" stroke-width="1.2"/><circle cx="222.60" cy="1382.40" r="2.5" fill="#fff" stroke="#111" stroke-width="1.2"/><circle cx="234.50" cy="1380.20" r="2.5" fill="#fff" stroke="#111" stroke-width="1.2"/><circle cx="228.70" cy="1392.00" r="2.5" fill="#fff" stroke="#111" stroke-width="1.2"/><circle cx="228.70" cy="1398.90" r="2.5" fill="#fff" stroke="#111" stroke-width="1.2"/><circle cx="228.70" cy="1407.50" r="2.5" fill="#fff" stroke="#111" stroke-width="1.2"/><circle cx="228.70" cy="1414.60" r="2.5" fill="#fff" stroke="#111" stroke-width="1.2"/><circle cx="252.70" cy="1338.80" r="2.5" fill="#fff" stroke="#111" stroke-width="1.2"/><circle cx="252.70" cy="1370.60" r="2.5" fill="#fff" stroke="#111" stroke-width="1.2"/><circle cx="252.70" cy="1386.00" r="2.5" fill="#fff" stroke="#111" stroke-width="1.2"/><circle cx="247.30" cy="1394.60" r="2.5" fill="#fff" stroke="#111" stroke-width="1.2"/><circle cx="258.50" cy="1396.00" r="2.5" fill="#fff" stroke="#111" stroke-width="1.2"/><circle cx="252.70" cy="1405.00" r="2.5" fill="#fff" stroke="#111" stroke-width="1.2"/><circle cx="252.70" cy="1421.70" r="2.5" fill="#fff" stroke="#111" stroke-width="1.2"/><circle cx="252.70" cy="1426.40" r="2.5" fill="#fff" stroke="#111" stroke-width="1.2"/><line x1="109.80" y1="1237.40" x2="260.20" y2="1237.40" stroke="#000" stroke-width="2.4"/><line x1="109.20" y1="1438.30" x2="175.80" y2="1438.30" stroke="#000" stroke-width="2.4"/><line x1="196.40" y1="1438.30" x2="260.20" y2="1438.30" stroke="#000" stroke-width="2.4"/><text x="175.27" y="1230.50" font-family="Liberation Sans" font-size="16.50" font-weight="normal" font-style="normal" fill="#222" textLength="18.36" lengthAdjust="spacingAndGlyphs" >ns</text><text x="122.21" y="1457.60" font-family="Liberation Sans" font-size="17.50" font-weight="normal" font-style="normal" fill="#222" textLength="39.85" lengthAdjust="spacingAndGlyphs" >sham</text><text x="212.14" y="1457.60" font-family="Liberation Sans" font-size="17.50" font-weight="normal" font-style="normal" fill="#222" textLength="30.65" lengthAdjust="spacingAndGlyphs" >IMQ</text><path d="M510.5,1219.3L510.5,1427.5L677.2,1427.5" stroke="#000" stroke-width="1.9" fill="none"/><line x1="506.30" y1="1427.50" x2="510.50" y2="1427.50" stroke="#000" stroke-width="1.8"/><text x="497.76" y="1431.90" font-family="Liberation Sans" font-size="12.50" font-weight="bold" font-style="normal" fill="#000" textLength="6.95" lengthAdjust="spacingAndGlyphs" >0</text><line x1="506.30" y1="1358.10" x2="510.50" y2="1358.10" stroke="#000" stroke-width="1.8"/><text x="482.81" y="1362.50" font-family="Liberation Sans" font-size="12.50" font-weight="bold" font-style="normal" fill="#000" textLength="21.97" lengthAdjust="spacingAndGlyphs" >500</text><line x1="506.30" y1="1288.70" x2="510.50" y2="1288.70" stroke="#000" stroke-width="1.8"/><text x="475.41" y="1293.10" font-family="Liberation Sans" font-size="12.50" font-weight="bold" font-style="normal" fill="#000" textLength="29.31" lengthAdjust="spacingAndGlyphs" >1000</text><line x1="506.30" y1="1219.30" x2="510.50" y2="1219.30" stroke="#000" stroke-width="1.8"/><text x="475.41" y="1223.70" font-family="Liberation Sans" font-size="12.50" font-weight="bold" font-style="normal" fill="#000" textLength="29.31" lengthAdjust="spacingAndGlyphs" >1500</text><text x="569.78" y="1197.60" font-family="Liberation Sans" font-size="15.50" font-weight="bold" font-style="italic" fill="#000" textLength="46.50" lengthAdjust="spacingAndGlyphs" >TNF-α</text><g transform="translate(469.3,1427.5) rotate(-90)"><text x="-1.07" y="0.00" font-family="Liberation Sans" font-size="16.00" font-weight="bold" font-style="normal" fill="#000" textLength="217.31" lengthAdjust="spacingAndGlyphs" >mRNA expression [% of CT]</text></g><path d="M526.95,1410.00L526.95,1418.00M520.76,1410.00L533.14,1410.00M520.76,1418.00L533.14,1418.00" stroke="#333" stroke-width="1.1" fill="none"/><path d="M575.15,1403.00L575.15,1418.00M569.03,1403.00L581.27,1403.00M569.03,1418.00L581.27,1418.00" stroke="#888" stroke-width="1.1" fill="none"/><path d="M612.35,1384.30L612.35,1400.00M606.38,1384.30L618.32,1384.30M606.38,1400.00L618.32,1400.00" stroke="#888" stroke-width="1.1" fill="none"/><path d="M636.30,1351.40L636.30,1370.00M630.37,1351.40L642.23,1351.40M630.37,1370.00L642.23,1370.00" stroke="#888" stroke-width="1.1" fill="none"/><path d="M660.45,1403.00L660.45,1412.00M654.48,1403.00L666.42,1403.00M654.48,1412.00L666.42,1412.00" stroke="#888" stroke-width="1.1" fill="none"/><rect x="519.5999999999999" y="1414" width="14.700000000000069" height="13.5" fill="#fff" stroke="#222" stroke-width="1.6"/><rect x="543" y="1419.6" width="15.600000000000023" height="7.900000000000091" fill="#035c0a"/><rect x="567.1" y="1411.8" width="16.100000000000023" height="15.700000000000045" fill="#c00000"/><rect x="605.3" y="1393.9" width="14.100000000000046" height="33.59999999999991" fill="#fff" stroke="#222" stroke-width="1.6"/><rect x="628.5" y="1361.4" width="15.600000000000023" height="66.09999999999991" fill="#035c0a"/><rect x="652.6" y="1407.3" width="15.699999999999932" height="20.200000000000045" fill="#c00000"/><path d="M526.95,1410.00L526.95,1418.00M520.76,1410.00L533.14,1410.00M520.76,1418.00L533.14,1418.00" stroke="#333" stroke-width="1.1" fill="none"/><path d="M612.35,1384.30L612.35,1400.00M606.38,1384.30L618.32,1384.30M606.38,1400.00L618.32,1400.00" stroke="#888" stroke-width="1.1" fill="none"/><circle cx="521.00" cy="1409.50" r="2.5" fill="#fff" stroke="#111" stroke-width="1.2"/><circle cx="523.90" cy="1414.00" r="2.5" fill="#fff" stroke="#111" stroke-width="1.2"/><circle cx="529.10" cy="1414.00" r="2.5" fill="#fff" stroke="#111" stroke-width="1.2"/><circle cx="532.90" cy="1414.00" r="2.5" fill="#fff" stroke="#111" stroke-width="1.2"/><circle cx="523.90" cy="1417.00" r="2.5" fill="#fff" stroke="#111" stroke-width="1.2"/><circle cx="551.20" cy="1408.90" r="2.5" fill="#fff" stroke="#111" stroke-width="1.2"/><circle cx="545.20" cy="1417.40" r="2.5" fill="#fff" stroke="#111" stroke-width="1.2"/><circle cx="549.20" cy="1417.40" r="2.5" fill="#fff" stroke="#111" stroke-width="1.2"/><circle cx="553.00" cy="1417.40" r="2.5" fill="#fff" stroke="#111" stroke-width="1.2"/><circle cx="556.80" cy="1418.50" r="2.5" fill="#fff" stroke="#111" stroke-width="1.2"/><circle cx="575.40" cy="1398.40" r="2.5" fill="#fff" stroke="#111" stroke-width="1.2"/><circle cx="581.50" cy="1397.70" r="2.5" fill="#fff" stroke="#111" stroke-width="1.2"/><circle cx="575.40" cy="1402.80" r="2.5" fill="#fff" stroke="#111" stroke-width="1.2"/><circle cx="569.40" cy="1424.10" r="2.5" fill="#fff" stroke="#111" stroke-width="1.2"/><circle cx="575.40" cy="1422.30" r="2.5" fill="#fff" stroke="#111" stroke-width="1.2"/><circle cx="581.00" cy="1423.60" r="2.5" fill="#fff" stroke="#111" stroke-width="1.2"/><circle cx="611.90" cy="1328.30" r="2.5" fill="#fff" stroke="#111" stroke-width="1.2"/><circle cx="611.90" cy="1369.90" r="2.5" fill="#fff" stroke="#111" stroke-width="1.2"/><circle cx="611.90" cy="1377.10" r="2.5" fill="#fff" stroke="#111" stroke-width="1.2"/><circle cx="611.90" cy="1385.60" r="2.5" fill="#fff" stroke="#111" stroke-width="1.2"/><circle cx="611.90" cy="1397.20" r="2.5" fill="#fff" stroke="#111" stroke-width="1.2"/><circle cx="609.70" cy="1402.80" r="2.5" fill="#fff" stroke="#111" stroke-width="1.2"/><circle cx="613.50" cy="1401.70" r="2.5" fill="#fff" stroke="#111" stroke-width="1.2"/><circle cx="606.70" cy="1418.50" r="2.5" fill="#fff" stroke="#111" stroke-width="1.2"/><circle cx="613.50" cy="1418.50" r="2.5" fill="#fff" stroke="#111" stroke-width="1.2"/><circle cx="617.30" cy="1419.20" r="2.5" fill="#fff" stroke="#111" stroke-width="1.2"/><circle cx="611.90" cy="1418.50" r="2.5" fill="#fff" stroke="#111" stroke-width="1.2"/><circle cx="636.30" cy="1276.80" r="2.5" fill="#fff" stroke="#111" stroke-width="1.2"/><circle cx="630.20" cy="1339.00" r="2.5" fill="#fff" stroke="#111" stroke-width="1.2"/><circle cx="642.10" cy="1335.20" r="2.5" fill="#fff" stroke="#111" stroke-width="1.2"/><circle cx="636.30" cy="1348.50" r="2.5" fill="#fff" stroke="#111" stroke-width="1.2"/><circle cx="636.30" cy="1357.40" r="2.5" fill="#fff" stroke="#111" stroke-width="1.2"/><circle cx="630.20" cy="1396.10" r="2.5" fill="#fff" stroke="#111" stroke-width="1.2"/><circle cx="642.10" cy="1392.80" r="2.5" fill="#fff" stroke="#111" stroke-width="1.2"/><circle cx="630.20" cy="1401.70" r="2.5" fill="#fff" stroke="#111" stroke-width="1.2"/><circle cx="642.10" cy="1401.70" r="2.5" fill="#fff" stroke="#111" stroke-width="1.2"/><circle cx="660.50" cy="1387.20" r="2.5" fill="#fff" stroke="#111" stroke-width="1.2"/><circle cx="654.90" cy="1408.40" r="2.5" fill="#fff" stroke="#111" stroke-width="1.2"/><circle cx="660.50" cy="1405.70" r="2.5" fill="#fff" stroke="#111" stroke-width="1.2"/><circle cx="666.50" cy="1407.30" r="2.5" fill="#fff" stroke="#111" stroke-width="1.2"/><circle cx="655.30" cy="1412.90" r="2.5" fill="#fff" stroke="#111" stroke-width="1.2"/><circle cx="666.50" cy="1412.90" r="2.5" fill="#fff" stroke="#111" stroke-width="1.2"/><circle cx="660.50" cy="1419.60" r="2.5" fill="#fff" stroke="#111" stroke-width="1.2"/><line x1="529.10" y1="1269.70" x2="610.50" y2="1269.70" stroke="#000" stroke-width="2.4"/><line x1="554.10" y1="1248.40" x2="635.20" y2="1248.40" stroke="#000" stroke-width="1.6"/><line x1="578.30" y1="1227.10" x2="661.60" y2="1227.10" stroke="#000" stroke-width="2.4"/><line x1="518.30" y1="1438.00" x2="583.70" y2="1438.00" stroke="#000" stroke-width="2.4"/><line x1="604.50" y1="1438.00" x2="667.80" y2="1438.00" stroke="#000" stroke-width="2.4"/><text x="560.94" y="1263.00" font-family="Liberation Sans" font-size="16.50" font-weight="normal" font-style="normal" fill="#222" textLength="17.25" lengthAdjust="spacingAndGlyphs" >ns</text><text x="610.83" y="1220.40" font-family="Liberation Sans" font-size="16.50" font-weight="normal" font-style="normal" fill="#222" textLength="17.36" lengthAdjust="spacingAndGlyphs" >ns</text><text x="529.51" y="1457.70" font-family="Liberation Sans" font-size="17.50" font-weight="normal" font-style="normal" fill="#222" textLength="40.27" lengthAdjust="spacingAndGlyphs" >sham</text><text x="619.28" y="1457.70" font-family="Liberation Sans" font-size="17.50" font-weight="normal" font-style="normal" fill="#222" textLength="31.95" lengthAdjust="spacingAndGlyphs" >IMQ</text><path d="M590.20,1243.10L590.20,1234.50M586.48,1240.95L593.92,1236.65M593.92,1240.95L586.48,1236.65" stroke="#000" stroke-width="1.935" stroke-linecap="butt" fill="none"/><path d="M598.60,1243.10L598.60,1234.50M594.88,1240.95L602.32,1236.65M602.32,1240.95L594.88,1236.65" stroke="#000" stroke-width="1.935" stroke-linecap="butt" fill="none"/><path d="M925.4,1219.3L925.4,1427.5L1091.7,1427.5" stroke="#000" stroke-width="1.9" fill="none"/><line x1="921.20" y1="1427.50" x2="925.40" y2="1427.50" stroke="#000" stroke-width="1.8"/><text x="912.66" y="1431.90" font-family="Liberation Sans" font-size="12.50" font-weight="bold" font-style="normal" fill="#000" textLength="6.95" lengthAdjust="spacingAndGlyphs" >0</text><line x1="921.20" y1="1375.45" x2="925.40" y2="1375.45" stroke="#000" stroke-width="1.8"/><text x="891.12" y="1379.85" font-family="Liberation Sans" font-size="12.50" font-weight="bold" font-style="normal" fill="#000" textLength="28.49" lengthAdjust="spacingAndGlyphs" >5000</text><line x1="921.20" y1="1323.40" x2="925.40" y2="1323.40" stroke="#000" stroke-width="1.8"/><text x="883.83" y="1327.80" font-family="Liberation Sans" font-size="12.50" font-weight="bold" font-style="normal" fill="#000" textLength="35.80" lengthAdjust="spacingAndGlyphs" >10000</text><line x1="921.20" y1="1271.35" x2="925.40" y2="1271.35" stroke="#000" stroke-width="1.8"/><text x="883.83" y="1275.75" font-family="Liberation Sans" font-size="12.50" font-weight="bold" font-style="normal" fill="#000" textLength="35.80" lengthAdjust="spacingAndGlyphs" >15000</text><line x1="921.20" y1="1219.30" x2="925.40" y2="1219.30" stroke="#000" stroke-width="1.8"/><text x="884.15" y="1223.70" font-family="Liberation Sans" font-size="12.50" font-weight="bold" font-style="normal" fill="#000" textLength="35.47" lengthAdjust="spacingAndGlyphs" >20000</text><text x="981.17" y="1197.60" font-family="Liberation Sans" font-size="15.50" font-weight="bold" font-style="italic" fill="#000" textLength="54.35" lengthAdjust="spacingAndGlyphs" >CXCL2</text><g transform="translate(878.6,1427.5) rotate(-90)"><text x="-1.07" y="0.00" font-family="Liberation Sans" font-size="16.00" font-weight="bold" font-style="normal" fill="#000" textLength="217.31" lengthAdjust="spacingAndGlyphs" >mRNA expression [% of CT]</text></g><path d="M965.05,1416.00L965.05,1424.00M958.93,1416.00L971.17,1416.00M958.93,1424.00L971.17,1424.00" stroke="#888" stroke-width="1.1" fill="none"/><path d="M1026.80,1420.00L1026.80,1426.00M1020.87,1420.00L1032.73,1420.00M1020.87,1426.00L1032.73,1426.00" stroke="#333" stroke-width="1.1" fill="none"/><path d="M1050.75,1336.40L1050.75,1384.00M1044.78,1336.40L1056.72,1336.40M1044.78,1384.00L1056.72,1384.00" stroke="#888" stroke-width="1.1" fill="none"/><path d="M1074.95,1396.10L1074.95,1418.00M1068.98,1396.10L1080.92,1396.10M1068.98,1418.00L1080.92,1418.00" stroke="#888" stroke-width="1.1" fill="none"/><rect x="933.8" y="1426.5" width="14.4" height="1.0" fill="#fff" stroke="#222" stroke-width="1.6"/><rect x="957" y="1420.7" width="16.100000000000023" height="6.7999999999999545" fill="#035c0a"/><rect x="981" y="1426.8" width="16" height="0.7000000000000455" fill="#c00000"/><rect x="1019.8" y="1424.5" width="13.99999999999991" height="3.0" fill="#fff" stroke="#222" stroke-width="1.6"/><rect x="1042.9" y="1360.3" width="15.699999999999818" height="67.20000000000005" fill="#035c0a"/><rect x="1067.1" y="1407.3" width="15.700000000000045" height="20.200000000000045" fill="#c00000"/><path d="M1026.80,1420.00L1026.80,1426.00M1020.87,1420.00L1032.73,1420.00M1020.87,1426.00L1032.73,1426.00" stroke="#333" stroke-width="1.1" fill="none"/><circle cx="935.70" cy="1427.50" r="2.5" fill="#fff" stroke="#111" stroke-width="1.2"/><circle cx="939.50" cy="1426.30" r="2.5" fill="#fff" stroke="#111" stroke-width="1.2"/><circle cx="944.00" cy="1426.30" r="2.5" fill="#fff" stroke="#111" stroke-width="1.2"/><circle cx="947.80" cy="1427.50" r="2.5" fill="#fff" stroke="#111" stroke-width="1.2"/><circle cx="965.30" cy="1401.30" r="2.5" fill="#fff" stroke="#111" stroke-width="1.2"/><circle cx="965.30" cy="1416.30" r="2.5" fill="#fff" stroke="#111" stroke-width="1.2"/><circle cx="959.70" cy="1421.40" r="2.5" fill="#fff" stroke="#111" stroke-width="1.2"/><circle cx="964.10" cy="1424.10" r="2.5" fill="#fff" stroke="#111" stroke-width="1.2"/><circle cx="971.30" cy="1425.20" r="2.5" fill="#fff" stroke="#111" stroke-width="1.2"/><circle cx="959.70" cy="1427.50" r="2.5" fill="#fff" stroke="#111" stroke-width="1.2"/><circle cx="966.40" cy="1427.50" r="2.5" fill="#fff" stroke="#111" stroke-width="1.2"/><circle cx="983.80" cy="1427.50" r="2.5" fill="#fff" stroke="#111" stroke-width="1.2"/><circle cx="987.60" cy="1425.20" r="2.5" fill="#fff" stroke="#111" stroke-width="1.2"/><circle cx="992.10" cy="1427.50" r="2.5" fill="#fff" stroke="#111" stroke-width="1.2"/><circle cx="995.50" cy="1427.50" r="2.5" fill="#fff" stroke="#111" stroke-width="1.2"/><circle cx="1026.80" cy="1412.50" r="2.5" fill="#fff" stroke="#111" stroke-width="1.2"/><circle cx="1026.80" cy="1421.40" r="2.5" fill="#fff" stroke="#111" stroke-width="1.2"/><circle cx="1021.20" cy="1427.50" r="2.5" fill="#fff" stroke="#111" stroke-width="1.2"/><circle cx="1025.70" cy="1425.20" r="2.5" fill="#fff" stroke="#111" stroke-width="1.2"/><circle cx="1030.20" cy="1425.20" r="2.5" fill="#fff" stroke="#111" stroke-width="1.2"/><circle cx="1033.10" cy="1427.50" r="2.5" fill="#fff" stroke="#111" stroke-width="1.2"/><circle cx="1026.80" cy="1427.50" r="2.5" fill="#fff" stroke="#111" stroke-width="1.2"/><circle cx="1050.80" cy="1264.50" r="2.5" fill="#fff" stroke="#111" stroke-width="1.2"/><circle cx="1050.80" cy="1300.30" r="2.5" fill="#fff" stroke="#111" stroke-width="1.2"/><circle cx="1050.80" cy="1343.50" r="2.5" fill="#fff" stroke="#111" stroke-width="1.2"/><circle cx="1050.80" cy="1356.50" r="2.5" fill="#fff" stroke="#111" stroke-width="1.2"/><circle cx="1050.80" cy="1407.30" r="2.5" fill="#fff" stroke="#111" stroke-width="1.2"/><circle cx="1044.70" cy="1424.10" r="2.5" fill="#fff" stroke="#111" stroke-width="1.2"/><circle cx="1056.40" cy="1422.30" r="2.5" fill="#fff" stroke="#111" stroke-width="1.2"/><circle cx="1074.90" cy="1346.90" r="2.5" fill="#fff" stroke="#111" stroke-width="1.2"/><circle cx="1074.90" cy="1378.20" r="2.5" fill="#fff" stroke="#111" stroke-width="1.2"/><circle cx="1074.90" cy="1405.10" r="2.5" fill="#fff" stroke="#111" stroke-width="1.2"/><circle cx="1074.90" cy="1409.60" r="2.5" fill="#fff" stroke="#111" stroke-width="1.2"/><circle cx="1069.30" cy="1425.90" r="2.5" fill="#fff" stroke="#111" stroke-width="1.2"/><circle cx="1073.80" cy="1425.90" r="2.5" fill="#fff" stroke="#111" stroke-width="1.2"/><circle cx="1078.30" cy="1425.90" r="2.5" fill="#fff" stroke="#111" stroke-width="1.2"/><circle cx="1081.60" cy="1425.90" r="2.5" fill="#fff" stroke="#111" stroke-width="1.2"/><line x1="943.60" y1="1269.70" x2="1025.00" y2="1269.70" stroke="#000" stroke-width="2.4"/><line x1="968.20" y1="1248.40" x2="1049.20" y2="1248.40" stroke="#000" stroke-width="1.6"/><line x1="993.20" y1="1227.10" x2="1076.00" y2="1227.10" stroke="#000" stroke-width="2.4"/><line x1="932.40" y1="1438.00" x2="997.70" y2="1438.00" stroke="#000" stroke-width="2.4"/><line x1="1019.00" y1="1438.00" x2="1081.60" y2="1438.00" stroke="#000" stroke-width="2.4"/><text x="975.49" y="1263.00" font-family="Liberation Sans" font-size="16.50" font-weight="normal" font-style="normal" fill="#222" textLength="16.48" lengthAdjust="spacingAndGlyphs" >ns</text><text x="999.33" y="1241.00" font-family="Liberation Sans" font-size="16.50" font-weight="normal" font-style="normal" fill="#222" textLength="17.36" lengthAdjust="spacingAndGlyphs" >ns</text><text x="1025.77" y="1220.40" font-family="Liberation Sans" font-size="16.50" font-weight="normal" font-style="normal" fill="#222" textLength="16.81" lengthAdjust="spacingAndGlyphs" >ns</text><text x="943.90" y="1457.70" font-family="Liberation Sans" font-size="17.50" font-weight="normal" font-style="normal" fill="#222" textLength="40.37" lengthAdjust="spacingAndGlyphs" >sham</text><text x="1033.80" y="1457.70" font-family="Liberation Sans" font-size="17.50" font-weight="normal" font-style="normal" fill="#222" textLength="31.41" lengthAdjust="spacingAndGlyphs" >IMQ</text><text x="6.81" y="37.10" font-family="Liberation Sans" font-size="38.50" font-weight="bold" font-style="normal" fill="#000" textLength="28.67" lengthAdjust="spacingAndGlyphs" >A</text><text x="523.97" y="39.90" font-family="Liberation Sans" font-size="38.50" font-weight="bold" font-style="normal" fill="#000" textLength="26.99" lengthAdjust="spacingAndGlyphs" >B</text><text x="7.28" y="421.20" font-family="Liberation Sans" font-size="38.50" font-weight="bold" font-style="normal" fill="#000" textLength="25.58" lengthAdjust="spacingAndGlyphs" >C</text><text x="7.69" y="725.80" font-family="Liberation Sans" font-size="38.50" font-weight="bold" font-style="normal" fill="#000" textLength="26.77" lengthAdjust="spacingAndGlyphs" >D</text><text x="475.63" y="725.80" font-family="Liberation Sans" font-size="38.50" font-weight="bold" font-style="normal" fill="#000" textLength="24.32" lengthAdjust="spacingAndGlyphs" >E</text><text x="7.97" y="1176.90" font-family="Liberation Sans" font-size="38.50" font-weight="bold" font-style="normal" fill="#000" textLength="21.92" lengthAdjust="spacingAndGlyphs" >F</text></svg></body></html>
